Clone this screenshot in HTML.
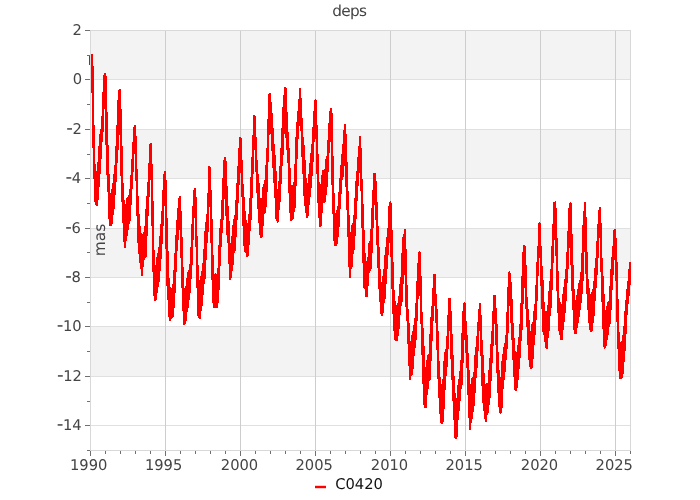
<!DOCTYPE html>
<html><head><meta charset="utf-8"><title>deps</title>
<style>html,body{margin:0;padding:0;background:#fff;width:700px;height:500px;overflow:hidden}svg{display:block}</style>
</head><body>
<svg width="700" height="500" viewBox="0 0 700 500" text-rendering="geometricPrecision">
<rect x="0" y="0" width="700" height="500" fill="#fff"/>
<rect x="90" y="30.0" width="540" height="49.0" fill="#f3f3f3"/>
<rect x="90" y="129.0" width="540" height="49.0" fill="#f3f3f3"/>
<rect x="90" y="228.0" width="540" height="49.0" fill="#f3f3f3"/>
<rect x="90" y="326.0" width="540" height="50.0" fill="#f3f3f3"/>
<path d="M90 30.5H630M90 79.5H630M90 129.5H630M90 178.5H630M90 228.5H630M90 277.5H630M90 326.5H630M90 376.5H630M90 425.5H630" stroke="#e0e0e0" stroke-width="1" fill="none"/>
<path d="M165.5 30V450M240.5 30V450M315.5 30V450M390.5 30V450M465.5 30V450M540.5 30V450M615.5 30V450" stroke="#cdcdcd" stroke-width="1" fill="none"/>
<path d="M630.5 30V450M90 30.5H631" stroke="#d8d8d8" stroke-width="1" fill="none"/>
<path d="M90.5 30V450.5M90 450.5H631" stroke="#d8d8d8" stroke-width="1" fill="none"/>
<path d="M85 30.5H90M87 55.5H90M85 79.5H90M87 104.5H90M85 129.5H90M87 154.5H90M85 178.5H90M87 203.5H90M85 228.5H90M87 252.5H90M85 277.5H90M87 302.5H90M85 326.5H90M87 351.5H90M85 376.5H90M87 401.5H90M85 425.5H90M87 450.5H90M90.5 451V456M105.5 451V454M120.5 451V454M135.5 451V454M150.5 451V454M165.5 451V456M180.5 451V454M195.5 451V454M210.5 451V454M225.5 451V454M240.5 451V456M255.5 451V454M270.5 451V454M285.5 451V454M300.5 451V454M315.5 451V456M330.5 451V454M345.5 451V454M360.5 451V454M375.5 451V454M390.5 451V456M405.5 451V454M420.5 451V454M435.5 451V454M450.5 451V454M465.5 451V456M480.5 451V454M495.5 451V454M510.5 451V454M525.5 451V454M540.5 451V456M555.5 451V454M570.5 451V454M585.5 451V454M600.5 451V454M615.5 451V456M630.5 451V454" stroke="#707070" stroke-width="1" fill="none"/>
<path d="M92.00 54.25L92.04 56.85L92.08 60.15L92.12 63.72L92.17 66.68L92.21 67.50L92.25 66.93L92.29 66.27L92.33 68.25L92.38 68.70L92.42 72.00L92.46 74.16L92.50 78.51L92.54 81.77L92.58 87.06L92.62 89.46L92.67 92.18L92.71 92.11L92.75 93.46L92.79 91.15L92.83 91.15L92.88 91.32L92.92 90.45L92.96 94.38L93.00 98.98L93.04 104.35L93.08 109.54L93.12 116.18L93.17 121.95L93.21 126.37L93.25 128.05L93.29 130.23L93.33 129.01L93.38 127.17L93.42 126.48L93.46 126.48L93.50 125.82L93.54 129.13L93.58 132.58L93.62 135.27L93.67 139.13L93.71 142.75L93.75 147.57L93.79 147.08L93.83 148.97L93.88 146.62L93.92 142.97L93.96 142.12L94.00 139.56L94.04 137.52L94.08 141.86L94.12 147.38L94.17 151.86L94.21 158.03L94.25 165.15L94.29 171.96L94.33 174.46L94.38 178.10L94.42 177.48L94.46 173.89L94.50 172.98L94.54 168.01L94.58 165.36L94.62 165.07L94.67 166.06L94.71 168.94L94.75 171.59L94.79 175.55L94.83 179.52L94.88 182.15L94.92 184.75L94.96 183.00L95.00 178.89L95.04 175.36L95.08 170.54L95.12 169.18L95.17 166.64L95.21 167.98L95.25 171.69L95.29 178.30L95.33 184.33L95.38 188.39L95.42 194.16L95.46 199.18L95.50 201.65L95.54 198.64L95.58 196.22L95.62 192.64L95.67 187.84L95.71 180.90L95.75 180.58L95.79 181.55L95.83 182.11L95.88 185.77L95.92 190.34L95.96 192.69L96.00 195.19L96.04 196.14L96.08 194.54L96.12 191.93L96.17 184.34L96.21 178.57L96.25 177.36L96.29 174.59L96.33 175.32L96.38 176.81L96.42 184.07L96.46 189.70L96.50 196.30L96.54 201.77L96.58 204.75L96.62 202.33L96.67 203.65L96.71 199.30L96.75 193.40L96.79 189.11L96.83 185.44L96.88 183.12L96.92 184.96L96.96 186.18L97.00 189.49L97.04 190.91L97.08 197.12L97.12 197.38L97.17 195.48L97.21 194.86L97.25 189.23L97.29 183.75L97.33 176.85L97.38 174.55L97.42 172.54L97.46 172.27L97.50 177.58L97.54 180.31L97.58 189.58L97.62 194.31L97.67 196.94L97.71 199.50L97.75 198.01L97.79 196.95L97.83 191.51L97.88 186.38L97.92 180.38L97.96 176.18L98.00 176.04L98.04 177.56L98.08 176.92L98.12 179.77L98.17 182.97L98.21 186.47L98.25 186.00L98.29 184.22L98.33 181.12L98.38 177.35L98.42 171.56L98.46 168.41L98.50 162.41L98.54 163.15L98.58 163.36L98.62 167.21L98.67 169.05L98.71 175.71L98.75 178.82L98.79 182.92L98.83 186.19L98.88 184.74L98.92 182.57L98.96 176.94L99.00 172.22L99.04 166.99L99.08 165.14L99.12 164.35L99.17 164.45L99.21 167.40L99.25 166.58L99.29 170.24L99.33 173.45L99.38 172.63L99.42 169.02L99.46 164.95L99.50 161.50L99.54 153.78L99.58 150.55L99.62 150.62L99.67 146.78L99.71 149.63L99.75 154.37L99.79 158.09L99.83 163.04L99.88 167.43L99.92 167.45L99.96 167.20L100.00 164.91L100.04 161.16L100.08 158.40L100.12 154.58L100.17 152.14L100.21 149.44L100.25 148.80L100.29 150.56L100.33 151.83L100.38 154.90L100.42 157.99L100.46 157.95L100.50 156.71L100.54 154.61L100.58 147.49L100.62 143.25L100.67 141.29L100.71 137.50L100.75 134.10L100.79 134.00L100.83 136.97L100.88 138.98L100.92 143.80L100.96 149.36L101.00 151.10L101.04 154.10L101.08 153.01L101.12 149.88L101.17 149.39L101.21 142.62L101.25 139.91L101.29 137.34L101.33 135.57L101.38 134.40L101.42 135.15L101.46 135.84L101.50 138.27L101.54 139.50L101.58 140.80L101.62 140.17L101.67 137.24L101.71 137.03L101.75 130.01L101.79 126.68L101.83 123.79L101.88 121.84L101.92 118.65L101.96 120.68L102.00 124.83L102.04 124.87L102.08 131.92L102.12 133.65L102.17 135.13L102.21 134.50L102.25 134.14L102.29 131.48L102.33 128.28L102.38 124.69L102.42 119.86L102.46 117.26L102.50 118.06L102.54 118.75L102.58 118.92L102.62 121.10L102.67 121.59L102.71 120.70L102.75 121.93L102.79 118.75L102.83 114.67L102.88 111.70L102.92 105.02L102.96 102.26L103.00 100.10L103.04 98.89L103.08 100.88L103.12 102.43L103.17 103.49L103.21 108.45L103.25 107.21L103.29 108.63L103.33 109.14L103.38 105.15L103.42 101.27L103.46 98.65L103.50 97.29L103.54 94.59L103.58 92.44L103.62 92.97L103.67 92.99L103.71 93.03L103.75 93.99L103.79 93.30L103.83 96.45L103.88 94.12L103.92 88.65L103.96 87.61L104.00 80.58L104.04 77.75L104.08 76.64L104.12 77.01L104.17 78.51L104.21 76.84L104.25 80.45L104.29 82.72L104.33 86.89L104.38 87.31L104.42 87.63L104.46 86.68L104.50 85.13L104.54 83.42L104.58 79.06L104.62 79.34L104.67 76.93L104.71 75.32L104.75 75.52L104.79 75.44L104.83 76.78L104.88 78.45L104.92 79.96L104.96 80.73L105.00 80.08L105.04 77.87L105.08 77.63L105.12 76.13L105.17 74.25L105.21 76.19L105.25 76.91L105.29 75.62L105.33 78.48L105.38 83.69L105.42 89.60L105.46 94.14L105.50 100.74L105.54 102.04L105.58 103.17L105.62 104.99L105.67 104.39L105.71 102.63L105.75 101.18L105.79 101.37L105.83 103.11L105.88 105.29L105.92 107.88L105.96 110.43L106.00 114.10L106.04 115.89L106.08 120.24L106.12 121.80L106.17 120.93L106.21 118.91L106.25 118.25L106.29 115.18L106.33 116.10L106.38 112.78L106.42 117.99L106.46 122.01L106.50 126.04L106.54 132.01L106.58 136.43L106.62 140.51L106.67 142.41L106.71 145.05L106.75 143.85L106.79 143.06L106.83 141.16L106.88 139.73L106.92 138.66L106.96 140.39L107.00 142.08L107.04 148.42L107.08 152.89L107.12 152.01L107.17 157.46L107.21 158.34L107.25 158.19L107.29 156.93L107.33 156.24L107.38 151.00L107.42 149.54L107.46 146.69L107.50 145.24L107.54 148.93L107.58 154.32L107.62 158.11L107.67 164.29L107.71 169.61L107.75 175.21L107.79 175.98L107.83 176.88L107.88 177.23L107.92 175.46L107.96 171.94L108.00 171.44L108.04 170.97L108.08 172.38L108.12 173.70L108.17 180.79L108.21 182.33L108.25 186.99L108.29 190.43L108.33 191.42L108.38 189.81L108.42 188.77L108.46 184.74L108.50 180.56L108.54 176.29L108.58 175.98L108.62 175.16L108.67 177.66L108.71 181.55L108.75 188.17L108.79 196.69L108.83 202.10L108.88 206.39L108.92 206.39L108.96 206.13L109.00 206.36L109.04 201.84L109.08 200.43L109.12 199.13L109.17 197.70L109.21 200.11L109.25 200.91L109.29 209.42L109.33 214.04L109.38 216.20L109.42 216.80L109.46 218.48L109.50 212.83L109.54 209.54L109.58 203.79L109.62 199.36L109.67 195.24L109.71 194.03L109.75 194.17L109.79 199.02L109.83 202.82L109.88 208.97L109.92 214.69L109.96 219.72L110.00 223.79L110.04 224.39L110.08 224.18L110.12 216.73L110.17 213.24L110.21 211.46L110.25 206.63L110.29 207.05L110.33 208.21L110.38 211.92L110.42 217.28L110.46 221.36L110.50 224.83L110.54 225.25L110.58 221.96L110.62 220.38L110.67 216.60L110.71 209.30L110.75 204.17L110.79 198.52L110.83 195.48L110.88 195.40L110.92 197.63L110.96 201.34L111.00 208.65L111.04 214.49L111.08 218.67L111.12 221.39L111.17 222.79L111.21 220.15L111.25 215.44L111.29 211.08L111.33 207.28L111.38 206.23L111.42 203.68L111.46 206.61L111.50 211.50L111.54 214.44L111.58 220.50L111.62 220.51L111.67 223.30L111.71 218.15L111.75 217.12L111.79 208.32L111.83 203.38L111.88 195.47L111.92 192.24L111.96 190.49L112.00 190.66L112.04 193.51L112.08 197.95L112.12 202.37L112.17 208.84L112.21 212.49L112.25 214.16L112.29 213.58L112.33 213.53L112.38 208.29L112.42 204.53L112.46 202.25L112.50 199.23L112.54 197.73L112.58 200.50L112.62 204.62L112.67 209.65L112.71 211.78L112.75 214.30L112.79 214.38L112.83 211.03L112.88 207.40L112.92 202.06L112.96 197.15L113.00 189.78L113.04 185.88L113.08 183.71L113.12 186.96L113.17 189.57L113.21 193.09L113.25 200.27L113.29 204.18L113.33 206.78L113.38 205.77L113.42 205.33L113.46 202.52L113.50 198.19L113.54 196.04L113.58 193.17L113.62 190.98L113.67 191.87L113.71 193.15L113.75 197.07L113.79 202.60L113.83 204.76L113.88 207.47L113.92 206.69L113.96 205.22L114.00 196.79L114.04 191.56L114.08 184.75L114.12 179.35L114.17 176.27L114.21 175.17L114.25 175.74L114.29 180.33L114.33 183.27L114.38 189.43L114.42 194.50L114.46 193.88L114.50 194.15L114.54 190.68L114.58 190.66L114.62 186.76L114.67 181.59L114.71 180.83L114.75 180.52L114.79 180.81L114.83 183.33L114.88 189.14L114.92 192.53L114.96 193.14L115.00 194.12L115.04 192.81L115.08 191.29L115.12 183.84L115.17 179.58L115.21 173.84L115.25 171.26L115.29 167.65L115.33 166.36L115.38 167.02L115.42 170.70L115.46 173.13L115.50 176.23L115.54 180.17L115.58 180.52L115.62 181.29L115.67 179.02L115.71 175.71L115.75 170.82L115.79 169.42L115.83 166.52L115.88 166.40L115.92 166.94L115.96 167.76L116.00 170.54L116.04 174.56L116.08 176.49L116.12 175.85L116.17 173.05L116.21 171.45L116.25 166.43L116.29 161.41L116.33 155.32L116.38 150.97L116.42 148.92L116.46 146.94L116.50 149.35L116.54 150.66L116.58 152.14L116.62 155.60L116.67 156.18L116.71 159.45L116.75 155.70L116.79 155.99L116.83 150.78L116.88 147.42L116.92 144.23L116.96 142.28L117.00 144.81L117.04 142.43L117.08 145.45L117.12 146.96L117.17 149.27L117.21 151.12L117.25 150.05L117.29 150.32L117.33 145.85L117.38 141.34L117.42 136.86L117.46 133.37L117.50 126.72L117.54 125.95L117.58 125.14L117.62 126.65L117.67 126.44L117.71 128.28L117.75 133.58L117.79 134.25L117.83 130.43L117.88 129.96L117.92 129.27L117.96 125.33L118.00 123.37L118.04 120.27L118.08 119.38L118.12 119.74L118.17 120.85L118.21 120.96L118.25 122.99L118.29 123.31L118.33 126.62L118.38 125.59L118.42 123.17L118.46 118.75L118.50 115.75L118.54 108.69L118.58 106.74L118.62 104.16L118.67 101.92L118.71 100.00L118.75 101.28L118.79 102.78L118.83 104.57L118.88 105.45L118.92 107.61L118.96 106.92L119.00 105.64L119.04 101.10L119.08 99.37L119.12 97.56L119.17 94.53L119.21 92.61L119.25 93.04L119.29 93.74L119.33 92.10L119.38 96.62L119.42 97.78L119.46 98.05L119.50 96.04L119.54 97.20L119.58 95.71L119.62 94.44L119.67 92.57L119.71 90.25L119.75 91.52L119.79 91.31L119.83 93.49L119.88 94.67L119.92 99.39L119.96 104.18L120.00 107.80L120.04 108.29L120.08 112.10L120.12 112.06L120.17 112.74L120.21 110.66L120.25 111.69L120.29 109.19L120.33 112.89L120.38 113.27L120.42 118.00L120.46 122.50L120.50 127.92L120.54 132.76L120.58 134.90L120.62 134.56L120.67 134.26L120.71 129.56L120.75 128.32L120.79 127.85L120.83 126.53L120.88 123.98L120.92 124.33L120.96 128.68L121.00 133.26L121.04 137.31L121.08 141.44L121.12 145.78L121.17 147.60L121.21 150.69L121.25 149.71L121.29 148.62L121.33 146.66L121.38 147.29L121.42 148.76L121.46 150.47L121.50 154.07L121.54 156.66L121.58 161.98L121.62 166.33L121.67 171.92L121.71 176.10L121.75 174.41L121.79 174.55L121.83 172.02L121.88 168.68L121.92 166.27L121.96 163.08L122.00 160.72L122.04 160.91L122.08 163.84L122.12 167.06L122.17 173.00L122.21 179.64L122.25 182.85L122.29 188.21L122.33 188.49L122.38 189.86L122.42 186.63L122.46 185.64L122.50 183.36L122.54 183.54L122.58 184.12L122.62 186.62L122.67 192.27L122.71 198.32L122.75 201.93L122.79 207.55L122.83 211.06L122.88 213.84L122.92 209.50L122.96 207.90L123.00 202.90L123.04 198.30L123.08 194.33L123.12 193.23L123.17 192.46L123.21 194.25L123.25 197.51L123.29 205.31L123.33 210.19L123.38 214.48L123.42 219.68L123.46 221.75L123.50 220.67L123.54 220.22L123.58 216.14L123.62 213.34L123.67 214.83L123.71 212.87L123.75 215.82L123.79 219.84L123.83 227.27L123.88 233.17L123.92 240.37L123.96 240.81L124.00 240.32L124.04 239.77L124.08 235.53L124.12 230.12L124.17 224.27L124.21 217.44L124.25 215.54L124.29 214.59L124.33 214.26L124.38 217.78L124.42 224.56L124.46 229.29L124.50 232.38L124.54 237.98L124.58 239.36L124.62 236.38L124.67 236.60L124.71 229.68L124.75 227.54L124.79 224.31L124.83 225.55L124.88 225.87L124.92 227.85L124.96 235.37L125.00 241.01L125.04 244.97L125.08 245.88L125.12 247.05L125.17 243.03L125.21 238.98L125.25 234.30L125.29 228.33L125.33 218.16L125.38 214.55L125.42 211.35L125.46 213.61L125.50 216.19L125.54 220.57L125.58 226.79L125.62 231.42L125.67 233.64L125.71 234.07L125.75 234.32L125.79 231.17L125.83 226.02L125.88 222.51L125.92 219.84L125.96 220.73L126.00 219.94L126.04 224.73L126.08 228.65L126.12 230.21L126.17 236.20L126.21 239.77L126.25 235.86L126.29 235.02L126.33 228.93L126.38 224.50L126.42 217.55L126.46 213.09L126.50 207.49L126.54 204.54L126.58 209.24L126.62 208.82L126.67 215.15L126.71 217.33L126.75 221.16L126.79 225.64L126.83 224.96L126.88 223.93L126.92 222.09L126.96 218.36L127.00 215.59L127.04 212.45L127.08 207.87L127.12 210.55L127.17 212.99L127.21 217.12L127.25 221.27L127.29 226.03L127.33 228.74L127.38 229.97L127.42 226.69L127.46 220.94L127.50 214.97L127.54 208.95L127.58 204.92L127.62 199.80L127.67 198.46L127.71 199.63L127.75 200.98L127.79 205.67L127.83 209.87L127.88 214.35L127.92 218.77L127.96 220.01L128.00 216.30L128.04 215.90L128.08 213.24L128.12 210.47L128.17 204.31L128.21 205.38L128.25 206.13L128.29 208.74L128.33 212.12L128.38 217.83L128.42 220.69L128.46 223.92L128.50 223.31L128.54 222.91L128.58 217.74L128.62 215.20L128.67 208.81L128.71 203.36L128.75 200.90L128.79 196.65L128.83 198.17L128.88 199.46L128.92 204.27L128.96 207.46L129.00 212.41L129.04 214.15L129.08 215.89L129.12 215.85L129.17 215.02L129.21 210.78L129.25 206.09L129.29 204.42L129.33 201.98L129.38 202.31L129.42 205.47L129.46 211.33L129.50 213.58L129.54 218.73L129.58 219.74L129.62 220.50L129.67 216.70L129.71 213.84L129.75 206.34L129.79 204.38L129.83 198.63L129.88 195.04L129.92 190.96L129.96 193.05L130.00 194.04L130.04 195.95L130.08 200.81L130.12 204.16L130.17 206.32L130.21 205.57L130.25 205.33L130.29 200.65L130.33 197.42L130.38 194.59L130.42 190.73L130.46 189.98L130.50 191.82L130.54 193.00L130.58 196.68L130.62 201.57L130.67 202.21L130.71 203.69L130.75 203.30L130.79 202.88L130.83 199.32L130.88 193.55L130.92 188.89L130.96 183.08L131.00 179.48L131.04 177.19L131.08 177.50L131.12 178.33L131.17 181.74L131.21 184.79L131.25 185.48L131.29 186.56L131.33 188.29L131.38 187.44L131.42 183.12L131.46 181.62L131.50 176.49L131.54 176.88L131.58 176.02L131.62 176.78L131.67 176.91L131.71 181.33L131.75 184.76L131.79 185.85L131.83 184.47L131.88 182.41L131.92 183.89L131.96 181.40L132.00 174.22L132.04 172.07L132.08 165.12L132.12 163.82L132.17 162.35L132.21 164.31L132.25 165.36L132.29 168.18L132.33 169.53L132.38 171.05L132.42 171.26L132.46 168.08L132.50 168.55L132.54 165.68L132.58 161.48L132.62 160.05L132.67 159.55L132.71 158.98L132.75 159.69L132.79 162.93L132.83 165.47L132.88 168.25L132.92 167.73L132.96 165.74L133.00 167.75L133.04 164.83L133.08 158.88L133.12 155.48L133.17 152.85L133.21 146.65L133.25 145.32L133.29 145.91L133.33 147.28L133.38 148.24L133.42 149.60L133.46 152.46L133.50 153.09L133.54 152.83L133.58 151.74L133.62 150.00L133.67 147.15L133.71 143.40L133.75 141.85L133.79 140.95L133.83 140.72L133.88 142.23L133.92 143.34L133.96 145.70L134.00 146.27L134.04 151.84L134.08 149.78L134.12 149.73L134.17 145.97L134.21 142.99L134.25 138.70L134.29 136.72L134.33 131.02L134.38 130.62L134.42 127.48L134.46 131.10L134.50 132.47L134.54 134.19L134.58 135.25L134.62 134.87L134.67 137.16L134.71 136.13L134.75 133.23L134.79 132.09L134.83 129.44L134.88 126.89L134.92 126.52L134.96 125.85L135.00 126.33L135.04 128.86L135.08 133.09L135.13 138.93L135.17 138.93L135.21 144.98L135.25 144.21L135.29 145.14L135.33 142.94L135.38 141.98L135.42 137.66L135.46 136.49L135.50 137.60L135.54 136.78L135.58 139.80L135.63 141.50L135.67 146.46L135.71 150.43L135.75 152.76L135.79 154.92L135.83 156.54L135.88 156.62L135.92 154.15L135.96 151.93L136.00 153.55L136.04 153.87L136.08 155.81L136.13 159.94L136.17 163.13L136.21 168.92L136.25 172.78L136.29 176.78L136.34 178.90L136.38 180.47L136.42 178.91L136.46 176.55L136.50 175.68L136.54 171.64L136.59 169.79L136.63 169.78L136.67 170.97L136.71 171.90L136.75 178.28L136.79 181.46L136.84 186.05L136.88 190.55L136.92 190.29L136.96 192.75L137.00 191.69L137.04 191.80L137.09 187.86L137.13 188.77L137.17 187.30L137.21 192.28L137.25 193.22L137.29 199.79L137.34 205.18L137.38 208.40L137.42 211.95L137.46 215.45L137.50 212.40L137.55 213.50L137.59 210.37L137.63 207.08L137.67 202.74L137.71 202.31L137.75 204.11L137.80 203.46L137.84 208.06L137.88 209.19L137.92 216.76L137.96 219.92L138.00 220.38L138.05 222.23L138.09 221.34L138.13 218.71L138.17 218.67L138.21 216.25L138.25 214.87L138.30 214.11L138.34 216.82L138.38 220.38L138.42 225.73L138.46 231.20L138.51 237.20L138.55 239.04L138.59 241.99L138.63 241.23L138.67 238.41L138.71 233.83L138.76 228.86L138.80 224.09L138.84 221.23L138.88 221.24L138.92 221.75L138.96 223.40L139.01 227.07L139.05 232.03L139.09 237.49L139.13 239.19L139.17 238.72L139.21 236.25L139.26 234.14L139.30 231.30L139.34 227.41L139.38 226.91L139.42 226.55L139.46 228.09L139.51 231.51L139.55 237.74L139.59 242.68L139.63 250.71L139.67 253.42L139.72 254.18L139.76 253.70L139.80 250.20L139.84 244.31L139.88 237.96L139.92 233.81L139.97 229.61L140.01 227.30L140.05 228.52L140.09 232.39L140.13 239.12L140.17 243.29L140.22 247.05L140.26 249.41L140.30 249.97L140.34 248.12L140.38 245.51L140.42 239.89L140.47 235.75L140.51 233.73L140.55 235.36L140.59 240.61L140.63 243.90L140.67 248.51L140.72 257.17L140.76 263.09L140.80 265.07L140.84 268.34L140.88 267.20L140.93 262.47L140.97 254.35L141.01 250.03L141.05 244.29L141.09 244.15L141.13 241.05L141.18 244.24L141.22 246.72L141.26 252.37L141.30 253.77L141.34 259.98L141.38 260.61L141.43 260.68L141.47 258.78L141.51 253.18L141.55 251.52L141.59 246.56L141.63 245.24L141.68 243.23L141.72 248.76L141.76 253.34L141.80 256.25L141.84 263.42L141.89 271.26L141.93 272.84L141.97 274.75L142.01 271.57L142.05 268.69L142.09 261.48L142.14 253.05L142.18 248.75L142.22 243.87L142.26 242.03L142.30 242.84L142.34 249.33L142.39 253.19L142.43 256.73L142.47 258.07L142.51 259.01L142.55 256.60L142.59 252.03L142.64 249.02L142.68 244.18L142.72 241.14L142.76 241.09L142.80 239.57L142.85 244.44L142.89 248.37L142.93 255.12L142.97 259.90L143.01 265.06L143.05 265.61L143.10 264.68L143.14 260.63L143.18 253.26L143.22 250.36L143.26 242.95L143.30 238.16L143.35 235.81L143.39 235.05L143.43 237.26L143.47 240.47L143.51 243.43L143.55 248.06L143.60 250.64L143.64 250.31L143.68 249.96L143.72 246.46L143.76 241.73L143.81 240.92L143.85 235.04L143.89 233.08L143.93 234.54L143.97 241.02L144.01 244.09L144.06 249.31L144.10 255.02L144.14 258.17L144.18 258.68L144.22 257.78L144.26 255.22L144.31 250.01L144.35 246.33L144.39 240.45L144.43 237.69L144.47 237.66L144.51 235.54L144.56 236.80L144.60 239.18L144.64 243.15L144.68 246.99L144.72 247.49L144.77 251.39L144.81 247.64L144.85 244.51L144.89 240.45L144.93 238.05L144.97 234.97L145.02 234.22L145.06 232.42L145.10 237.27L145.14 241.06L145.18 245.57L145.22 250.50L145.27 252.50L145.31 257.11L145.35 253.55L145.39 250.99L145.43 245.67L145.47 239.16L145.52 235.30L145.56 231.47L145.60 228.90L145.64 226.46L145.68 229.25L145.73 231.97L145.77 234.67L145.81 236.95L145.85 237.36L145.89 234.39L145.93 234.19L145.98 229.16L146.02 226.83L146.06 221.26L146.10 219.34L146.14 220.16L146.18 218.57L146.23 220.50L146.27 224.69L146.31 229.49L146.35 230.92L146.39 233.62L146.43 235.27L146.48 233.25L146.52 227.06L146.56 224.41L146.60 219.14L146.64 213.47L146.69 212.91L146.73 208.76L146.77 209.44L146.81 211.98L146.85 211.51L146.89 215.35L146.94 216.19L146.98 215.98L147.02 214.03L147.06 210.18L147.10 207.98L147.14 204.38L147.19 200.70L147.23 198.35L147.27 199.88L147.31 199.36L147.35 203.10L147.39 208.33L147.44 211.97L147.48 214.27L147.52 215.03L147.56 214.69L147.60 213.67L147.65 210.58L147.69 202.27L147.73 199.81L147.77 195.00L147.81 192.97L147.85 192.79L147.90 192.83L147.94 193.30L147.98 196.43L148.02 198.93L148.06 199.20L148.10 199.39L148.15 196.29L148.19 193.73L148.23 189.56L148.27 186.98L148.31 183.31L148.35 182.55L148.40 183.50L148.44 183.80L148.48 186.13L148.52 189.17L148.56 192.37L148.61 195.13L148.65 194.95L148.69 195.78L148.73 192.80L148.77 189.35L148.81 184.89L148.86 181.18L148.90 177.86L148.94 173.51L148.98 175.64L149.02 175.11L149.06 177.21L149.11 177.89L149.15 177.03L149.19 181.72L149.23 180.00L149.27 177.40L149.31 173.65L149.36 171.53L149.40 169.76L149.44 165.31L149.48 164.04L149.52 163.47L149.57 163.34L149.61 167.01L149.65 169.21L149.69 168.71L149.73 172.29L149.77 172.49L149.82 171.58L149.86 169.26L149.90 165.95L149.94 162.58L149.98 158.31L150.02 155.96L150.07 153.34L150.11 150.98L150.15 147.93L150.19 152.99L150.23 153.02L150.27 152.86L150.32 153.67L150.36 152.10L150.40 149.14L150.44 149.56L150.48 147.64L150.53 145.11L150.57 144.53L150.61 144.25L150.65 145.54L150.69 150.23L150.73 151.48L150.78 155.99L150.82 158.08L150.86 163.41L150.90 166.72L150.94 170.36L150.99 166.74L151.03 170.06L151.07 166.20L151.11 162.47L151.15 162.13L151.19 160.85L151.24 160.89L151.28 165.05L151.32 166.78L151.36 171.56L151.40 174.36L151.45 176.18L151.49 178.96L151.53 178.70L151.57 177.76L151.61 177.64L151.65 176.34L151.70 175.19L151.74 176.41L151.78 177.65L151.82 182.18L151.86 187.17L151.90 190.12L151.95 196.26L151.99 200.92L152.03 205.00L152.07 205.97L152.11 208.63L152.16 206.72L152.20 204.03L152.24 204.52L152.28 201.00L152.32 204.18L152.36 205.59L152.41 207.51L152.45 210.94L152.49 214.08L152.53 218.31L152.57 224.74L152.62 223.44L152.66 225.22L152.70 225.48L152.74 222.37L152.78 221.20L152.82 219.28L152.87 220.05L152.91 224.67L152.95 227.34L152.99 234.26L153.03 240.11L153.08 246.55L153.12 253.57L153.16 258.54L153.20 260.03L153.24 259.95L153.28 257.53L153.33 256.62L153.37 252.26L153.41 250.51L153.45 251.90L153.49 250.53L153.54 253.24L153.58 256.03L153.62 261.43L153.66 266.26L153.70 268.98L153.74 271.95L153.79 272.53L153.83 269.50L153.87 267.35L153.91 261.45L153.95 259.51L154.00 257.16L154.04 259.37L154.08 263.35L154.12 269.20L154.16 275.29L154.20 284.81L154.25 287.37L154.29 291.53L154.33 294.62L154.37 293.40L154.41 288.74L154.45 282.91L154.50 279.19L154.54 275.28L154.58 273.28L154.62 273.62L154.66 275.96L154.71 282.30L154.75 284.56L154.79 288.60L154.83 288.97L154.87 287.75L154.91 287.04L154.96 280.93L155.00 279.79L155.04 274.14L155.08 271.72L155.12 270.97L155.17 270.96L155.21 276.15L155.25 279.38L155.29 287.37L155.33 294.70L155.37 295.99L155.42 299.75L155.46 297.96L155.50 294.49L155.54 291.34L155.58 287.21L155.62 280.26L155.67 277.84L155.71 275.27L155.75 274.97L155.79 279.36L155.83 282.52L155.88 286.04L155.92 288.37L155.96 286.94L156.00 287.45L156.04 283.64L156.08 278.50L156.12 273.46L156.17 269.25L156.21 265.79L156.25 265.97L156.29 266.90L156.33 271.41L156.38 277.57L156.42 280.08L156.46 287.80L156.50 290.41L156.54 292.61L156.58 292.21L156.62 287.41L156.67 282.40L156.71 278.84L156.75 274.24L156.79 271.37L156.83 270.06L156.88 272.34L156.92 274.85L156.96 278.54L157.00 280.98L157.04 280.62L157.08 280.79L157.12 278.34L157.17 274.69L157.21 269.49L157.25 263.81L157.29 260.63L157.33 258.01L157.38 258.72L157.42 260.05L157.46 266.28L157.50 270.93L157.54 276.70L157.58 281.66L157.62 286.04L157.67 286.20L157.71 283.13L157.75 281.34L157.79 272.45L157.83 267.86L157.88 267.38L157.92 263.72L157.96 265.94L158.00 265.81L158.04 267.83L158.08 270.88L158.12 275.63L158.17 276.45L158.21 275.55L158.25 272.36L158.29 268.98L158.33 265.49L158.38 258.48L158.42 256.72L158.46 253.72L158.50 253.47L158.54 256.32L158.58 262.19L158.62 266.12L158.67 273.26L158.71 276.33L158.75 278.03L158.79 280.70L158.83 277.74L158.88 273.25L158.92 271.64L158.96 266.15L159.00 262.84L159.04 260.57L159.08 258.98L159.12 259.62L159.17 262.98L159.21 264.89L159.25 268.54L159.29 269.13L159.33 269.13L159.38 265.84L159.42 265.79L159.46 259.62L159.50 253.40L159.54 252.08L159.58 249.11L159.62 247.72L159.67 252.30L159.71 255.36L159.75 258.78L159.79 263.90L159.83 267.72L159.88 270.24L159.92 269.14L159.96 266.52L160.00 263.82L160.04 259.12L160.08 256.85L160.12 252.14L160.17 249.54L160.21 249.84L160.25 253.24L160.29 255.59L160.33 257.19L160.38 257.41L160.42 258.07L160.46 258.11L160.50 253.90L160.54 250.20L160.58 245.73L160.62 241.46L160.67 238.66L160.71 236.59L160.75 237.88L160.79 241.88L160.83 244.51L160.88 249.34L160.92 252.17L160.96 256.53L161.00 255.89L161.04 254.52L161.08 251.57L161.12 249.45L161.17 245.82L161.21 241.59L161.25 237.53L161.29 238.93L161.33 236.92L161.38 236.88L161.42 239.87L161.46 240.90L161.50 243.42L161.54 242.04L161.58 241.11L161.62 237.37L161.67 232.63L161.71 229.70L161.75 224.67L161.79 223.04L161.83 222.67L161.88 223.97L161.92 224.78L161.96 231.73L162.00 232.98L162.04 236.69L162.08 238.45L162.12 237.86L162.17 234.84L162.21 232.60L162.25 229.70L162.29 222.52L162.33 220.13L162.38 216.25L162.42 217.25L162.46 217.75L162.50 219.20L162.54 219.16L162.58 221.46L162.62 220.45L162.67 219.16L162.71 216.24L162.75 212.95L162.79 207.95L162.83 203.27L162.88 200.54L162.92 199.65L162.96 198.61L163.00 198.06L163.04 202.03L163.08 204.40L163.12 205.37L163.17 210.19L163.21 207.90L163.25 206.92L163.29 205.38L163.33 201.20L163.38 198.29L163.42 197.48L163.46 194.22L163.50 190.46L163.54 190.34L163.58 190.75L163.62 192.94L163.67 190.59L163.71 195.18L163.75 193.98L163.79 192.16L163.83 192.04L163.88 189.50L163.92 184.72L163.96 180.12L164.00 179.19L164.04 176.89L164.08 175.37L164.12 176.95L164.17 178.85L164.21 182.54L164.25 183.57L164.29 186.00L164.33 186.43L164.38 188.14L164.42 186.72L164.46 184.51L164.50 182.13L164.54 179.05L164.58 178.65L164.62 176.99L164.67 174.78L164.71 176.05L164.75 178.36L164.79 179.87L164.83 180.75L164.88 179.86L164.92 179.51L164.96 178.50L165.00 174.66L165.04 174.37L165.08 172.25L165.13 172.63L165.17 173.08L165.21 177.83L165.25 178.37L165.29 182.85L165.33 187.49L165.38 193.43L165.42 194.85L165.46 201.45L165.50 201.00L165.54 205.56L165.59 203.59L165.63 203.96L165.67 203.39L165.71 202.34L165.75 204.32L165.79 205.60L165.84 209.96L165.88 210.95L165.92 215.80L165.96 217.63L166.00 222.40L166.05 224.22L166.09 225.71L166.13 224.07L166.17 220.81L166.21 219.33L166.25 218.20L166.30 218.23L166.34 219.65L166.38 222.32L166.42 226.09L166.46 229.82L166.51 237.97L166.55 242.24L166.59 246.07L166.63 246.68L166.67 249.13L166.71 248.80L166.76 247.11L166.80 244.95L166.84 244.30L166.88 244.45L166.92 243.45L166.97 250.54L167.01 252.67L167.05 256.31L167.09 260.20L167.13 262.81L167.17 263.58L167.22 265.30L167.26 263.04L167.30 258.38L167.34 255.98L167.38 253.59L167.43 251.37L167.47 254.25L167.51 256.56L167.55 260.66L167.59 264.91L167.63 271.74L167.68 278.56L167.72 282.95L167.76 285.72L167.80 286.33L167.84 283.39L167.89 281.78L167.93 281.20L167.97 278.81L168.01 278.81L168.05 277.67L168.09 280.76L168.14 286.79L168.18 289.52L168.22 293.98L168.26 296.02L168.30 297.46L168.35 296.84L168.39 294.11L168.43 290.44L168.47 286.45L168.51 281.80L168.55 279.17L168.60 280.32L168.64 283.88L168.68 288.84L168.72 294.76L168.76 300.34L168.81 305.59L168.85 309.19L168.89 310.78L168.93 311.46L168.97 311.78L169.01 304.86L169.06 302.56L169.10 299.34L169.14 297.99L169.18 299.26L169.22 301.54L169.27 304.20L169.31 310.06L169.35 313.14L169.39 316.22L169.43 316.22L169.47 312.60L169.52 306.04L169.56 301.32L169.60 296.37L169.64 291.68L169.68 288.49L169.72 290.34L169.77 291.98L169.81 295.93L169.85 302.62L169.89 307.69L169.93 313.27L169.97 315.10L170.02 320.15L170.06 315.99L170.10 312.86L170.14 311.68L170.18 304.65L170.22 301.95L170.27 299.85L170.31 300.01L170.35 302.42L170.39 305.09L170.43 306.50L170.47 311.43L170.52 312.82L170.56 312.99L170.60 312.70L170.64 306.26L170.68 303.84L170.72 296.44L170.76 293.44L170.81 289.82L170.85 288.61L170.89 288.88L170.93 294.54L170.97 299.66L171.01 307.19L171.06 311.35L171.10 315.07L171.14 318.10L171.18 316.98L171.22 313.86L171.26 309.30L171.31 306.59L171.35 303.30L171.39 301.12L171.43 299.00L171.47 301.02L171.51 304.73L171.56 309.67L171.60 311.90L171.64 314.44L171.68 314.98L171.72 312.16L171.76 305.58L171.80 302.70L171.85 296.54L171.89 291.98L171.93 291.24L171.97 290.03L172.01 292.02L172.05 295.84L172.10 300.69L172.14 310.21L172.18 312.01L172.22 315.68L172.26 316.90L172.30 315.16L172.35 312.23L172.39 311.06L172.43 305.75L172.47 303.65L172.51 300.51L172.55 300.13L172.60 298.99L172.64 303.91L172.68 307.28L172.72 307.59L172.76 312.30L172.80 310.44L172.84 310.68L172.89 306.81L172.93 301.03L172.97 295.81L173.01 289.92L173.05 288.91L173.09 287.47L173.14 285.18L173.18 289.57L173.22 293.13L173.26 301.13L173.30 303.61L173.34 307.03L173.39 307.89L173.43 307.87L173.47 305.42L173.51 302.78L173.55 298.51L173.59 295.09L173.64 288.09L173.68 287.88L173.72 289.80L173.76 290.94L173.80 294.58L173.84 296.03L173.88 298.64L173.93 299.06L173.97 295.28L174.01 292.58L174.05 286.51L174.09 283.46L174.13 277.51L174.18 274.30L174.22 271.35L174.26 273.41L174.30 277.96L174.34 280.34L174.38 284.19L174.43 288.50L174.47 289.76L174.51 292.46L174.55 288.69L174.59 287.75L174.63 283.00L174.68 281.43L174.72 275.46L174.76 275.46L174.80 274.44L174.84 272.76L174.88 275.81L174.92 278.78L174.97 280.07L175.01 281.25L175.05 280.22L175.09 277.02L175.13 273.65L175.17 270.16L175.22 263.32L175.26 259.07L175.30 256.53L175.34 253.53L175.38 255.44L175.42 256.60L175.47 260.66L175.51 265.45L175.55 268.04L175.59 271.14L175.63 269.96L175.67 267.83L175.72 267.48L175.76 263.57L175.80 258.18L175.84 256.51L175.88 252.93L175.92 252.31L175.96 253.17L176.01 253.66L176.05 255.47L176.09 259.27L176.13 259.48L176.17 258.67L176.21 256.49L176.26 252.93L176.30 247.43L176.34 246.05L176.38 240.84L176.42 236.82L176.46 236.96L176.51 235.46L176.55 238.38L176.59 241.44L176.63 245.04L176.67 246.72L176.71 248.69L176.76 248.61L176.80 248.42L176.84 245.13L176.88 243.30L176.92 239.45L176.96 235.37L177.00 234.75L177.05 234.94L177.09 234.42L177.13 237.83L177.17 240.23L177.21 241.29L177.25 240.31L177.30 239.08L177.34 237.52L177.38 234.48L177.42 229.01L177.46 226.45L177.50 221.41L177.55 220.35L177.59 220.91L177.63 223.58L177.67 226.71L177.71 228.07L177.75 232.23L177.80 232.46L177.84 233.96L177.88 233.84L177.92 231.51L177.96 228.37L178.00 224.35L178.04 224.69L178.09 222.22L178.13 221.22L178.17 222.59L178.21 223.84L178.25 226.87L178.29 226.54L178.34 229.16L178.38 227.47L178.42 226.44L178.46 225.20L178.50 221.60L178.54 217.26L178.59 212.79L178.63 208.81L178.67 208.40L178.71 209.06L178.75 209.59L178.79 213.14L178.84 214.92L178.88 217.60L178.92 220.25L178.96 219.92L179.00 219.92L179.04 217.90L179.08 214.45L179.13 212.96L179.17 209.67L179.21 208.02L179.25 208.92L179.29 207.52L179.33 209.70L179.38 211.91L179.42 214.64L179.46 214.96L179.50 214.42L179.54 214.04L179.58 210.85L179.63 207.01L179.67 204.49L179.71 200.74L179.75 198.23L179.79 197.26L179.83 197.25L179.88 198.77L179.92 197.67L179.96 202.62L180.00 206.26L180.04 208.32L180.08 211.61L180.13 214.40L180.17 212.32L180.21 213.71L180.25 212.06L180.29 211.18L180.33 211.12L180.38 212.43L180.42 213.65L180.46 218.06L180.50 220.40L180.54 223.28L180.59 225.92L180.63 228.14L180.67 229.66L180.71 227.97L180.75 226.38L180.79 222.50L180.84 220.01L180.88 218.25L180.92 220.65L180.96 222.07L181.00 223.48L181.05 229.48L181.09 232.79L181.13 237.77L181.17 240.84L181.21 241.17L181.25 242.39L181.30 244.36L181.34 241.99L181.38 240.03L181.42 237.48L181.46 240.46L181.51 240.96L181.55 243.81L181.59 247.44L181.63 250.27L181.67 252.27L181.71 258.33L181.76 256.30L181.80 255.01L181.84 253.84L181.88 249.98L181.92 246.10L181.97 245.45L182.01 243.90L182.05 245.64L182.09 249.12L182.13 254.77L182.17 258.73L182.22 267.18L182.26 268.63L182.30 272.18L182.34 273.60L182.38 275.43L182.43 273.11L182.47 271.47L182.51 269.65L182.55 268.13L182.59 272.46L182.63 275.33L182.68 279.58L182.72 283.34L182.76 288.43L182.80 290.92L182.84 296.28L182.89 295.79L182.93 292.24L182.97 288.94L183.01 282.94L183.05 280.58L183.09 277.22L183.14 276.34L183.18 278.14L183.22 282.21L183.26 288.00L183.30 294.79L183.35 300.85L183.39 305.52L183.43 308.95L183.47 309.99L183.51 309.01L183.55 305.93L183.60 304.50L183.64 300.86L183.68 299.48L183.72 300.24L183.76 305.19L183.81 308.56L183.85 312.83L183.89 317.56L183.93 321.45L183.97 323.63L184.01 323.75L184.06 317.96L184.10 311.80L184.14 305.72L184.18 300.39L184.22 296.25L184.27 294.06L184.31 297.22L184.35 298.95L184.39 303.68L184.43 308.16L184.47 315.55L184.52 318.13L184.56 320.23L184.60 321.30L184.64 321.03L184.68 316.18L184.72 310.73L184.77 308.16L184.81 305.87L184.85 307.38L184.89 309.58L184.93 311.96L184.97 316.97L185.02 322.38L185.06 323.09L185.10 322.71L185.14 320.35L185.18 318.68L185.22 310.94L185.27 304.83L185.31 299.53L185.35 294.77L185.39 291.90L185.43 293.18L185.47 297.36L185.52 302.58L185.56 308.14L185.60 312.27L185.64 316.65L185.68 315.58L185.72 314.99L185.76 310.60L185.81 305.95L185.85 303.83L185.89 300.21L185.93 300.80L185.97 301.61L186.01 305.67L186.06 308.70L186.10 314.95L186.14 317.66L186.18 319.86L186.22 318.52L186.26 312.24L186.31 310.87L186.35 303.78L186.39 297.58L186.43 293.86L186.47 287.52L186.51 286.88L186.56 287.25L186.60 290.61L186.64 294.56L186.68 300.62L186.72 305.64L186.76 305.90L186.80 308.31L186.85 308.39L186.89 303.77L186.93 298.22L186.97 297.27L187.01 294.48L187.05 294.25L187.10 294.40L187.14 296.05L187.18 298.22L187.22 303.95L187.26 306.40L187.30 307.32L187.35 306.96L187.39 306.45L187.43 301.45L187.47 295.84L187.51 286.11L187.55 283.50L187.60 279.26L187.64 278.38L187.68 279.75L187.72 278.76L187.76 285.72L187.80 291.71L187.84 295.36L187.89 298.70L187.93 297.68L187.97 298.49L188.01 294.33L188.05 290.99L188.09 288.24L188.14 287.31L188.18 284.62L188.22 285.89L188.26 286.41L188.30 288.43L188.34 294.87L188.39 296.93L188.43 299.93L188.47 297.75L188.51 296.44L188.55 294.86L188.59 287.33L188.64 281.39L188.68 275.63L188.72 273.34L188.76 271.60L188.80 274.85L188.84 276.12L188.88 279.34L188.93 284.33L188.97 287.30L189.01 290.88L189.05 291.82L189.09 292.49L189.13 288.92L189.18 284.71L189.22 281.21L189.26 279.24L189.30 279.01L189.34 277.48L189.38 280.59L189.43 283.02L189.47 284.82L189.51 287.44L189.55 288.31L189.59 291.96L189.63 289.46L189.68 285.76L189.72 281.30L189.76 276.66L189.80 271.32L189.84 267.29L189.88 265.55L189.92 266.67L189.97 266.02L190.01 269.83L190.05 276.38L190.09 277.93L190.13 281.66L190.17 280.68L190.22 281.11L190.26 279.46L190.30 275.65L190.34 273.94L190.38 270.35L190.42 267.47L190.47 268.88L190.51 269.28L190.55 271.78L190.59 274.84L190.63 276.26L190.67 278.17L190.72 277.22L190.76 275.68L190.80 271.60L190.84 266.20L190.88 261.20L190.92 258.12L190.96 253.23L191.01 253.71L191.05 250.85L191.09 252.02L191.13 256.37L191.17 259.05L191.21 260.79L191.26 265.21L191.30 262.87L191.34 263.07L191.38 258.94L191.42 256.53L191.46 255.11L191.51 252.50L191.55 247.68L191.59 248.99L191.63 249.34L191.67 250.82L191.71 255.75L191.76 254.75L191.80 256.59L191.84 256.09L191.88 253.82L191.92 250.98L191.96 244.34L192.00 239.30L192.05 233.48L192.09 232.56L192.13 230.14L192.17 230.25L192.21 231.15L192.25 231.54L192.30 236.21L192.34 236.96L192.38 238.88L192.42 239.82L192.46 237.78L192.50 234.39L192.55 232.33L192.59 227.85L192.63 226.73L192.67 225.31L192.71 225.95L192.75 224.18L192.80 226.88L192.84 227.44L192.88 229.76L192.92 230.63L192.96 230.18L193.00 226.86L193.04 225.30L193.09 218.77L193.13 216.49L193.17 212.60L193.21 208.59L193.25 206.90L193.29 207.84L193.34 206.86L193.38 210.51L193.42 211.42L193.46 214.48L193.50 214.90L193.54 216.28L193.59 215.08L193.63 212.34L193.67 213.53L193.71 208.06L193.75 206.36L193.79 206.30L193.84 205.18L193.88 205.74L193.92 205.60L193.96 209.24L194.00 212.69L194.04 212.88L194.08 210.92L194.13 210.11L194.17 205.83L194.21 203.18L194.25 199.70L194.29 196.18L194.33 192.56L194.38 191.49L194.42 190.81L194.46 193.37L194.50 195.67L194.54 196.56L194.58 199.93L194.63 201.21L194.67 203.45L194.71 200.94L194.75 200.05L194.79 198.43L194.83 193.66L194.88 191.56L194.92 188.75L194.96 189.99L195.00 191.32L195.04 192.64L195.08 195.12L195.13 199.19L195.17 202.20L195.21 204.88L195.25 205.99L195.29 204.03L195.33 201.26L195.38 200.78L195.42 199.56L195.46 199.22L195.50 197.54L195.54 198.04L195.59 201.61L195.63 204.83L195.67 211.36L195.71 213.97L195.75 217.74L195.79 221.11L195.84 221.05L195.88 222.27L195.92 220.39L195.96 222.75L196.00 221.98L196.05 223.12L196.09 224.10L196.13 227.47L196.17 229.34L196.21 236.71L196.25 240.85L196.30 244.88L196.34 245.67L196.38 246.26L196.42 243.78L196.46 243.18L196.51 241.40L196.55 238.71L196.59 237.86L196.63 236.86L196.67 238.20L196.71 241.32L196.76 246.97L196.80 252.64L196.84 255.63L196.88 261.37L196.92 265.33L196.97 266.36L197.01 265.65L197.05 265.41L197.09 264.26L197.13 262.40L197.17 262.75L197.22 263.62L197.26 264.62L197.30 270.26L197.34 275.87L197.38 280.94L197.43 284.99L197.47 287.30L197.51 286.64L197.55 287.67L197.59 283.30L197.63 276.12L197.68 276.48L197.72 272.42L197.76 269.95L197.80 269.65L197.84 272.29L197.89 280.16L197.93 284.67L197.97 290.07L198.01 296.52L198.05 299.65L198.09 302.35L198.14 298.49L198.18 298.12L198.22 294.26L198.26 290.99L198.30 292.38L198.35 291.98L198.39 296.32L198.43 301.31L198.47 308.25L198.51 310.41L198.55 314.80L198.60 315.02L198.64 314.34L198.68 311.32L198.72 305.24L198.76 302.22L198.81 295.57L198.85 293.95L198.89 288.76L198.93 290.61L198.97 294.43L199.01 299.83L199.06 303.76L199.10 307.76L199.14 310.71L199.18 314.67L199.22 313.58L199.27 309.55L199.31 307.61L199.35 302.85L199.39 299.01L199.43 298.29L199.47 300.25L199.52 301.53L199.56 303.58L199.60 310.00L199.64 311.59L199.68 315.08L199.72 317.75L199.77 316.07L199.81 312.29L199.85 304.94L199.89 299.17L199.93 290.30L199.97 287.53L200.02 283.50L200.06 281.52L200.10 283.53L200.14 288.94L200.18 292.43L200.22 299.32L200.27 301.42L200.31 303.88L200.35 302.83L200.39 302.90L200.43 300.17L200.47 294.94L200.52 290.63L200.56 289.53L200.60 290.57L200.64 292.21L200.68 294.96L200.72 299.78L200.76 306.74L200.81 309.63L200.85 309.04L200.89 308.17L200.93 304.28L200.97 298.68L201.01 291.32L201.06 285.21L201.10 278.09L201.14 277.19L201.18 277.66L201.22 279.16L201.26 284.20L201.31 290.17L201.35 293.89L201.39 301.17L201.43 301.08L201.47 300.09L201.51 298.52L201.56 294.28L201.60 289.64L201.64 286.16L201.68 285.81L201.72 287.89L201.76 289.16L201.80 293.81L201.85 297.72L201.89 299.89L201.93 304.81L201.97 303.97L202.01 302.99L202.05 299.20L202.10 290.62L202.14 285.77L202.18 279.07L202.22 276.38L202.26 272.61L202.30 271.75L202.35 276.09L202.39 278.80L202.43 283.14L202.47 286.71L202.51 289.95L202.55 290.38L202.59 290.84L202.64 288.90L202.68 284.64L202.72 278.91L202.76 276.67L202.80 276.93L202.84 276.91L202.89 278.70L202.93 281.84L202.97 285.55L203.01 289.45L203.05 291.19L203.09 293.45L203.14 289.95L203.18 285.42L203.22 281.27L203.26 276.21L203.30 270.39L203.34 265.47L203.39 263.72L203.43 264.24L203.47 265.99L203.51 269.95L203.55 274.24L203.59 273.75L203.63 278.52L203.68 280.39L203.72 278.15L203.76 276.41L203.80 273.80L203.84 270.44L203.88 267.52L203.93 265.66L203.97 265.83L204.01 266.75L204.05 269.38L204.09 273.44L204.13 277.93L204.18 279.66L204.22 283.19L204.26 280.27L204.30 275.81L204.34 269.94L204.38 263.57L204.43 258.42L204.47 254.14L204.51 249.49L204.55 251.62L204.59 252.18L204.63 256.86L204.67 257.71L204.72 263.22L204.76 262.65L204.80 264.07L204.84 263.08L204.88 258.01L204.92 257.32L204.97 252.55L205.01 249.41L205.05 248.19L205.09 246.94L205.13 249.55L205.17 251.04L205.22 254.42L205.26 255.34L205.30 258.65L205.34 259.90L205.38 257.85L205.42 252.81L205.47 248.78L205.51 246.19L205.55 238.72L205.59 234.77L205.63 232.41L205.67 230.88L205.71 231.12L205.76 233.93L205.80 236.76L205.84 236.96L205.88 241.51L205.92 242.52L205.96 240.72L206.01 238.84L206.05 236.05L206.09 232.74L206.13 229.99L206.17 228.91L206.21 227.70L206.26 231.45L206.30 232.36L206.34 235.93L206.38 240.68L206.42 240.97L206.46 242.72L206.51 242.09L206.55 239.62L206.59 236.24L206.63 229.25L206.67 225.63L206.71 223.40L206.75 222.50L206.80 219.94L206.84 221.90L206.88 224.32L206.92 226.95L206.96 229.15L207.00 229.83L207.05 232.30L207.09 230.08L207.13 230.53L207.17 227.30L207.21 224.98L207.25 221.60L207.30 219.81L207.34 220.69L207.38 221.08L207.42 223.03L207.46 227.03L207.50 228.31L207.54 230.79L207.59 231.28L207.63 227.04L207.67 225.06L207.71 220.60L207.75 213.89L207.79 212.55L207.84 208.02L207.88 208.49L207.92 203.16L207.96 205.29L208.00 206.19L208.04 208.58L208.09 208.66L208.13 210.50L208.17 209.12L208.21 206.02L208.25 206.23L208.29 200.63L208.34 198.05L208.38 195.19L208.42 193.65L208.46 194.30L208.50 194.46L208.54 195.90L208.58 198.49L208.63 197.40L208.67 198.66L208.71 198.97L208.75 197.79L208.79 192.57L208.83 189.46L208.88 185.85L208.92 179.18L208.96 177.15L209.00 173.90L209.04 174.83L209.08 173.43L209.13 173.77L209.17 175.79L209.21 178.66L209.25 180.32L209.29 178.45L209.33 177.03L209.38 175.80L209.42 171.84L209.46 170.74L209.50 167.25L209.54 169.11L209.58 169.13L209.63 172.74L209.67 174.29L209.71 180.84L209.75 183.74L209.79 186.69L209.83 188.08L209.88 189.93L209.92 189.81L209.96 186.49L210.00 183.63L210.04 182.43L210.09 184.54L210.13 182.92L210.17 183.48L210.21 186.11L210.25 187.69L210.29 193.42L210.34 196.58L210.38 199.23L210.42 203.04L210.46 202.82L210.50 203.05L210.55 203.07L210.59 200.29L210.63 202.56L210.67 204.42L210.71 204.45L210.75 206.69L210.80 208.95L210.84 213.57L210.88 220.15L210.92 226.10L210.96 225.79L211.00 228.18L211.05 228.09L211.09 224.24L211.13 222.94L211.17 222.10L211.21 218.42L211.26 219.33L211.30 220.66L211.34 223.74L211.38 228.14L211.42 231.66L211.46 235.77L211.51 236.94L211.55 241.50L211.59 242.33L211.63 241.45L211.67 240.33L211.72 240.63L211.76 241.04L211.80 239.92L211.84 243.35L211.88 247.56L211.92 250.19L211.97 253.98L212.01 262.23L212.05 266.76L212.09 270.65L212.13 268.50L212.18 268.45L212.22 263.23L212.26 260.72L212.30 257.17L212.34 255.07L212.38 255.12L212.43 255.67L212.47 259.07L212.51 262.63L212.55 269.20L212.59 272.93L212.64 276.71L212.68 279.34L212.72 278.59L212.76 275.97L212.80 273.66L212.84 270.39L212.89 270.29L212.93 269.64L212.97 273.32L213.01 277.91L213.05 281.80L213.10 291.96L213.14 292.30L213.18 298.57L213.22 301.78L213.26 298.93L213.30 297.39L213.35 291.14L213.39 284.73L213.43 282.14L213.47 278.60L213.51 276.64L213.55 275.87L213.60 279.41L213.64 284.45L213.68 288.50L213.72 292.47L213.76 295.71L213.81 293.64L213.85 293.31L213.89 289.50L213.93 285.39L213.97 281.73L214.01 281.36L214.06 281.75L214.10 282.72L214.14 284.34L214.18 295.67L214.22 297.11L214.27 302.41L214.31 305.74L214.35 307.09L214.39 306.08L214.43 301.05L214.47 295.30L214.52 287.36L214.56 283.47L214.60 276.14L214.64 274.99L214.68 276.73L214.72 279.61L214.77 282.10L214.81 287.45L214.85 290.29L214.89 292.09L214.93 290.40L214.97 288.35L215.02 284.23L215.06 281.66L215.10 277.84L215.14 277.62L215.18 274.86L215.22 276.63L215.27 281.59L215.31 288.37L215.35 295.34L215.39 299.36L215.43 302.11L215.47 302.67L215.52 302.84L215.56 296.89L215.60 290.31L215.64 286.06L215.68 280.05L215.72 275.75L215.76 274.65L215.81 275.90L215.85 277.91L215.89 281.33L215.93 287.27L215.97 290.84L216.01 291.53L216.06 290.41L216.10 291.99L216.14 285.39L216.18 280.57L216.22 278.31L216.26 274.69L216.31 276.53L216.35 279.57L216.39 286.23L216.43 291.81L216.47 297.03L216.51 302.31L216.56 307.25L216.60 303.03L216.64 301.94L216.68 295.92L216.72 291.59L216.76 285.60L216.80 278.14L216.85 277.53L216.89 275.74L216.93 278.88L216.97 281.97L217.01 289.30L217.05 288.47L217.10 293.13L217.14 292.98L217.18 291.73L217.22 287.31L217.26 286.33L217.30 278.41L217.35 277.92L217.39 277.79L217.43 278.28L217.47 282.99L217.51 284.41L217.55 292.23L217.60 297.78L217.64 300.54L217.68 302.28L217.72 302.48L217.76 299.78L217.80 294.24L217.84 288.86L217.89 282.39L217.93 278.57L217.97 275.65L218.01 272.50L218.05 275.19L218.09 278.41L218.14 281.43L218.18 282.33L218.22 288.91L218.26 287.53L218.30 286.32L218.34 283.50L218.39 279.65L218.43 275.85L218.47 274.66L218.51 270.54L218.55 268.68L218.59 270.92L218.64 274.74L218.68 278.68L218.72 284.06L218.76 289.11L218.80 289.12L218.84 288.26L218.88 285.80L218.93 278.64L218.97 276.06L219.01 269.98L219.05 265.19L219.09 258.62L219.13 258.51L219.18 259.90L219.22 259.18L219.26 262.79L219.30 264.99L219.34 264.43L219.38 265.42L219.43 264.05L219.47 261.21L219.51 257.62L219.55 253.12L219.59 248.80L219.63 246.85L219.68 245.63L219.72 249.64L219.76 252.64L219.80 253.88L219.84 257.46L219.88 261.55L219.92 262.82L219.97 263.11L220.01 259.21L220.05 255.17L220.09 248.71L220.13 242.27L220.17 239.87L220.22 238.79L220.26 235.20L220.30 235.27L220.34 237.64L220.38 239.70L220.42 241.62L220.47 242.21L220.51 243.29L220.55 241.81L220.59 237.52L220.63 236.41L220.67 231.47L220.72 228.27L220.76 229.18L220.80 228.55L220.84 230.74L220.88 232.26L220.92 237.51L220.96 242.34L221.01 243.57L221.05 245.97L221.09 245.12L221.13 243.21L221.17 239.13L221.21 234.07L221.26 228.02L221.30 224.67L221.34 223.56L221.38 222.65L221.42 223.88L221.46 224.65L221.51 225.96L221.55 228.27L221.59 229.98L221.63 232.24L221.67 229.10L221.71 224.41L221.76 220.52L221.80 216.51L221.84 215.47L221.88 213.42L221.92 212.61L221.96 215.46L222.00 218.31L222.05 222.44L222.09 226.09L222.13 227.05L222.17 227.91L222.21 223.22L222.25 222.12L222.30 217.42L222.34 213.57L222.38 210.09L222.42 204.49L222.46 201.20L222.50 200.92L222.55 200.91L222.59 203.27L222.63 204.82L222.67 203.28L222.71 206.31L222.75 204.91L222.80 204.19L222.84 200.09L222.88 196.78L222.92 191.17L222.96 189.91L223.00 186.98L223.04 187.45L223.09 188.90L223.13 193.27L223.17 194.29L223.21 197.59L223.25 199.68L223.29 198.93L223.34 198.86L223.38 196.20L223.42 189.89L223.46 188.60L223.50 183.83L223.54 179.59L223.59 178.91L223.63 179.64L223.67 179.39L223.71 179.71L223.75 181.85L223.79 182.73L223.84 181.61L223.88 182.27L223.92 179.24L223.96 176.89L224.00 172.98L224.04 172.99L224.08 167.36L224.13 167.69L224.17 167.84L224.21 169.47L224.25 169.90L224.29 173.40L224.33 177.94L224.38 178.30L224.42 177.61L224.46 178.24L224.50 175.13L224.54 172.29L224.58 167.72L224.63 165.48L224.67 162.11L224.71 161.85L224.75 160.43L224.79 161.79L224.83 164.27L224.88 164.85L224.92 165.10L224.96 163.89L225.00 164.86L225.04 162.87L225.08 162.64L225.12 158.25L225.17 158.35L225.21 158.72L225.25 159.15L225.29 163.11L225.33 168.16L225.38 170.50L225.42 176.64L225.46 179.04L225.50 182.34L225.54 184.39L225.58 181.86L225.62 181.78L225.67 181.34L225.71 180.04L225.75 178.64L225.79 177.87L225.83 179.28L225.88 179.85L225.92 182.17L225.96 185.41L226.00 187.64L226.04 191.26L226.08 192.92L226.12 193.47L226.17 192.29L226.21 189.41L226.25 185.72L226.29 187.34L226.33 186.65L226.38 186.90L226.42 190.33L226.46 195.69L226.50 198.98L226.54 202.82L226.58 206.88L226.62 211.46L226.67 215.33L226.71 211.48L226.75 211.66L226.79 210.28L226.83 205.34L226.88 205.50L226.92 202.21L226.96 203.02L227.00 204.55L227.04 206.40L227.08 210.48L227.12 212.88L227.17 215.30L227.21 216.33L227.25 214.96L227.29 213.92L227.33 212.06L227.38 208.56L227.42 207.32L227.46 206.77L227.50 206.71L227.54 207.58L227.58 213.58L227.62 218.73L227.67 224.77L227.71 229.57L227.75 234.56L227.79 235.28L227.83 233.13L227.88 233.52L227.92 229.29L227.96 225.19L228.00 223.03L228.04 219.87L228.08 218.84L228.12 222.25L228.17 225.55L228.21 229.34L228.25 233.43L228.29 235.38L228.33 237.26L228.38 235.75L228.42 233.98L228.46 230.83L228.50 225.34L228.54 225.05L228.58 221.88L228.62 225.05L228.67 227.38L228.71 233.59L228.75 242.67L228.79 249.60L228.83 254.03L228.88 256.89L228.92 259.57L228.96 256.82L229.00 255.44L229.04 252.45L229.08 247.45L229.12 244.86L229.17 242.61L229.21 242.76L229.25 245.54L229.29 250.73L229.33 255.77L229.38 257.78L229.42 261.47L229.46 262.84L229.50 259.70L229.54 257.14L229.58 250.58L229.62 246.84L229.67 244.57L229.71 243.96L229.75 245.61L229.79 248.06L229.83 256.13L229.88 259.46L229.92 268.72L229.96 275.59L230.00 277.03L230.04 278.75L230.08 277.09L230.12 272.95L230.17 268.73L230.21 264.59L230.25 258.92L230.29 255.70L230.33 257.00L230.38 256.00L230.42 260.51L230.46 262.68L230.50 267.48L230.54 268.79L230.58 268.95L230.62 268.68L230.67 265.79L230.71 259.85L230.75 255.50L230.79 249.58L230.83 247.24L230.87 247.00L230.92 251.48L230.96 255.54L231.00 259.84L231.04 266.35L231.08 271.25L231.12 276.02L231.17 275.35L231.21 277.11L231.25 271.36L231.29 270.25L231.33 262.08L231.37 256.60L231.42 254.30L231.46 250.43L231.50 249.21L231.54 252.25L231.58 256.80L231.62 260.28L231.66 262.91L231.71 263.49L231.75 259.48L231.79 258.98L231.83 252.17L231.87 246.47L231.91 242.82L231.96 239.03L232.00 237.95L232.04 240.14L232.08 242.45L232.12 249.68L232.16 256.35L232.21 261.43L232.25 263.56L232.29 265.22L232.33 262.45L232.37 259.55L232.41 255.23L232.46 247.82L232.50 241.84L232.54 237.56L232.58 236.69L232.62 239.48L232.66 241.30L232.70 246.09L232.75 246.40L232.79 248.17L232.83 248.26L232.87 245.60L232.91 243.20L232.95 238.72L233.00 232.73L233.04 226.07L233.08 225.70L233.12 226.11L233.16 228.65L233.20 232.59L233.25 240.34L233.29 244.51L233.33 246.07L233.37 252.49L233.41 252.09L233.45 251.30L233.49 247.28L233.54 242.76L233.58 237.88L233.62 235.68L233.66 231.82L233.70 232.17L233.74 231.01L233.79 234.25L233.83 237.17L233.87 238.16L233.91 240.87L233.95 241.30L233.99 239.50L234.04 236.69L234.08 233.52L234.12 230.46L234.16 224.57L234.20 223.79L234.24 220.44L234.29 223.85L234.33 228.04L234.37 231.71L234.41 240.58L234.45 243.32L234.49 248.32L234.53 249.81L234.58 248.26L234.62 245.35L234.66 241.20L234.70 235.42L234.74 229.96L234.78 226.19L234.83 222.56L234.87 226.74L234.91 228.84L234.95 226.41L234.99 234.56L235.03 237.07L235.08 237.01L235.12 234.37L235.16 231.36L235.20 227.52L235.24 222.52L235.28 219.34L235.33 217.89L235.37 215.99L235.41 217.78L235.45 220.81L235.49 222.95L235.53 229.86L235.57 233.32L235.62 235.51L235.66 236.04L235.70 235.38L235.74 232.57L235.78 231.47L235.82 223.78L235.87 222.19L235.91 219.77L235.95 216.57L235.99 218.11L236.03 218.46L236.07 220.01L236.12 221.00L236.16 222.46L236.20 222.67L236.24 222.27L236.28 217.72L236.32 212.36L236.37 209.22L236.41 208.04L236.45 202.84L236.49 200.85L236.53 202.63L236.57 205.91L236.61 209.18L236.66 214.47L236.70 217.52L236.74 218.99L236.78 219.15L236.82 216.10L236.86 213.64L236.91 209.50L236.95 204.72L236.99 202.25L237.03 198.56L237.07 196.42L237.11 197.28L237.16 198.18L237.20 198.42L237.24 200.80L237.28 202.58L237.32 202.35L237.36 201.37L237.41 198.21L237.45 193.25L237.49 190.90L237.53 183.76L237.57 184.22L237.61 183.97L237.65 184.01L237.70 187.72L237.74 190.89L237.78 194.71L237.82 198.33L237.86 198.37L237.90 199.48L237.95 197.62L237.99 194.02L238.03 190.94L238.07 185.23L238.11 184.15L238.15 179.76L238.20 179.95L238.24 181.00L238.28 181.94L238.32 183.58L238.36 185.02L238.40 184.91L238.44 182.52L238.49 181.79L238.53 179.02L238.57 175.38L238.61 172.03L238.65 167.51L238.69 166.59L238.74 167.65L238.78 168.01L238.82 169.54L238.86 171.21L238.90 174.18L238.94 176.30L238.99 177.34L239.03 178.75L239.07 176.83L239.11 172.19L239.15 167.84L239.19 164.92L239.24 161.64L239.28 159.06L239.32 159.12L239.36 159.97L239.40 158.27L239.44 160.69L239.48 163.02L239.53 162.05L239.57 160.98L239.61 158.22L239.65 154.94L239.69 152.16L239.73 150.09L239.78 146.87L239.82 145.28L239.86 144.67L239.90 143.72L239.94 148.80L239.98 149.96L240.03 152.71L240.07 153.49L240.11 154.28L240.15 154.93L240.19 153.90L240.23 151.57L240.28 146.78L240.32 145.02L240.36 141.12L240.40 139.81L240.44 138.25L240.48 142.41L240.53 142.71L240.57 146.74L240.61 149.22L240.65 150.44L240.69 149.79L240.73 151.26L240.78 148.61L240.82 147.13L240.86 144.54L240.90 143.56L240.94 141.68L240.98 143.83L241.03 148.80L241.07 151.18L241.11 154.29L241.15 159.42L241.19 161.75L241.23 164.59L241.28 166.84L241.32 164.68L241.36 166.85L241.40 164.19L241.44 163.40L241.48 160.49L241.53 160.41L241.57 162.09L241.61 163.07L241.65 167.38L241.69 170.45L241.74 170.86L241.78 174.39L241.82 174.59L241.86 175.72L241.90 170.49L241.94 171.93L241.99 167.38L242.03 166.39L242.07 168.66L242.11 168.45L242.15 170.41L242.19 177.27L242.24 180.13L242.28 186.83L242.32 190.96L242.36 194.40L242.40 195.84L242.44 194.84L242.49 193.58L242.53 191.63L242.57 187.69L242.61 186.83L242.65 188.16L242.69 190.17L242.74 192.87L242.78 193.88L242.82 200.73L242.86 200.05L242.90 205.46L242.95 202.96L242.99 202.89L243.03 200.97L243.07 196.94L243.11 196.54L243.15 193.17L243.20 194.11L243.24 194.66L243.28 198.54L243.32 201.98L243.36 208.47L243.40 214.18L243.45 220.46L243.49 222.89L243.53 224.90L243.57 222.95L243.61 219.89L243.65 217.45L243.70 216.88L243.74 212.44L243.78 214.31L243.82 212.73L243.86 216.26L243.91 219.60L243.95 224.35L243.99 229.42L244.03 230.48L244.07 229.85L244.11 228.35L244.16 225.09L244.20 220.18L244.24 216.72L244.28 212.80L244.32 211.60L244.36 212.66L244.41 216.36L244.45 220.39L244.49 228.38L244.53 236.33L244.57 241.17L244.61 245.19L244.66 245.10L244.70 243.35L244.74 241.98L244.78 238.73L244.82 233.49L244.86 231.37L244.91 228.94L244.95 228.55L244.99 230.67L245.03 235.92L245.07 236.81L245.12 241.16L245.16 243.36L245.20 243.95L245.24 243.19L245.28 237.97L245.32 233.65L245.37 227.60L245.41 223.90L245.45 223.65L245.49 220.31L245.53 224.39L245.57 230.78L245.62 237.12L245.66 243.18L245.70 247.27L245.74 251.86L245.78 251.91L245.82 249.57L245.87 246.99L245.91 242.11L245.95 237.68L245.99 235.47L246.03 234.84L246.07 234.84L246.12 234.39L246.16 240.00L246.20 244.01L246.24 248.18L246.28 249.58L246.33 248.97L246.37 243.52L246.41 241.26L246.45 236.31L246.49 228.92L246.53 223.31L246.58 223.43L246.62 224.96L246.66 226.41L246.70 232.97L246.74 240.92L246.78 245.82L246.83 248.44L246.87 255.48L246.91 255.23L246.95 254.85L246.99 252.31L247.03 246.00L247.08 245.95L247.12 240.01L247.16 239.00L247.20 239.08L247.24 241.51L247.28 244.80L247.33 248.62L247.37 251.49L247.41 253.55L247.45 255.75L247.49 251.31L247.53 244.13L247.58 240.16L247.62 231.85L247.66 230.56L247.70 228.55L247.74 227.54L247.78 231.40L247.83 237.60L247.87 242.33L247.91 246.78L247.95 252.30L247.99 254.97L248.04 254.81L248.08 253.38L248.12 249.97L248.16 245.93L248.20 240.82L248.24 235.15L248.29 234.80L248.33 234.86L248.37 234.90L248.41 236.27L248.45 237.80L248.49 239.96L248.54 241.56L248.58 244.19L248.62 240.39L248.66 237.33L248.70 230.06L248.74 224.94L248.79 221.15L248.83 218.77L248.87 215.02L248.91 218.18L248.95 220.36L248.99 223.70L249.04 229.84L249.08 234.51L249.12 238.12L249.16 237.79L249.20 238.55L249.24 232.52L249.29 229.34L249.33 223.54L249.37 221.67L249.41 216.46L249.45 215.44L249.49 216.20L249.54 216.46L249.58 222.53L249.62 223.31L249.66 224.14L249.70 224.76L249.75 221.72L249.79 218.36L249.83 213.86L249.87 206.64L249.91 203.03L249.95 202.04L250.00 199.42L250.04 198.77L250.08 201.77L250.12 207.27L250.16 212.70L250.20 216.13L250.25 216.67L250.29 218.74L250.33 219.38L250.37 215.14L250.41 209.72L250.45 208.12L250.50 201.73L250.54 200.34L250.58 199.06L250.62 198.79L250.66 199.27L250.70 203.97L250.75 205.38L250.79 207.15L250.83 204.36L250.87 202.73L250.91 199.25L250.95 195.49L251.00 189.74L251.04 185.35L251.08 181.36L251.12 179.39L251.16 179.91L251.21 183.68L251.25 188.37L251.29 192.25L251.33 195.99L251.37 197.62L251.41 196.13L251.46 194.42L251.50 193.19L251.54 191.07L251.58 184.28L251.62 181.91L251.66 179.75L251.71 177.22L251.75 179.18L251.79 179.74L251.83 181.05L251.87 183.25L251.91 182.61L251.96 180.95L252.00 178.09L252.04 175.76L252.08 171.46L252.12 167.76L252.16 163.59L252.21 161.79L252.25 158.66L252.29 159.65L252.33 162.24L252.37 165.38L252.41 170.62L252.46 172.14L252.50 173.24L252.54 172.32L252.58 171.47L252.62 167.18L252.66 164.76L252.71 159.22L252.75 158.01L252.79 156.00L252.83 154.34L252.87 154.33L252.92 154.88L252.96 156.24L253.00 158.15L253.04 158.65L253.08 158.65L253.12 154.23L253.17 151.80L253.21 146.46L253.25 143.79L253.29 140.17L253.33 137.33L253.37 135.93L253.42 136.24L253.46 140.94L253.50 143.14L253.54 143.41L253.58 147.98L253.62 148.20L253.67 149.21L253.71 147.23L253.75 144.03L253.79 140.69L253.83 137.22L253.87 134.57L253.92 131.67L253.96 131.22L254.00 133.89L254.04 134.25L254.08 133.69L254.12 135.75L254.17 135.99L254.21 133.83L254.25 131.83L254.29 128.01L254.33 124.18L254.37 121.18L254.42 117.16L254.46 117.86L254.50 116.25L254.54 116.29L254.58 122.39L254.63 127.46L254.67 131.75L254.71 134.63L254.75 134.13L254.79 137.41L254.83 137.46L254.88 136.11L254.92 134.17L254.96 132.87L255.00 132.55L255.04 132.62L255.08 132.92L255.13 135.69L255.17 139.59L255.21 142.61L255.25 145.25L255.29 146.10L255.33 147.31L255.38 146.03L255.42 143.10L255.46 140.22L255.50 139.41L255.54 138.55L255.58 137.83L255.63 139.11L255.67 143.81L255.71 145.45L255.75 150.39L255.79 154.67L255.83 158.12L255.88 160.10L255.92 160.78L255.96 161.59L256.00 159.87L256.04 158.85L256.09 157.79L256.13 157.52L256.17 155.40L256.21 159.98L256.25 160.47L256.29 162.91L256.34 167.81L256.38 168.09L256.42 171.24L256.46 170.01L256.50 170.44L256.54 168.21L256.59 164.11L256.63 161.69L256.67 160.65L256.71 161.47L256.75 162.69L256.79 165.83L256.84 169.72L256.88 172.68L256.92 176.75L256.96 183.68L257.00 181.87L257.04 184.85L257.09 182.16L257.13 182.38L257.17 177.25L257.21 175.78L257.25 176.82L257.30 175.38L257.34 179.80L257.38 183.22L257.42 185.28L257.46 190.02L257.50 192.56L257.55 190.89L257.59 190.77L257.63 187.39L257.67 182.14L257.71 179.92L257.75 177.26L257.80 177.16L257.84 175.25L257.88 178.33L257.92 182.11L257.96 187.40L258.00 192.98L258.05 196.95L258.09 199.26L258.13 200.02L258.17 201.82L258.21 197.56L258.25 195.95L258.30 193.22L258.34 190.52L258.38 192.50L258.42 189.88L258.46 194.57L258.50 199.78L258.55 202.96L258.59 205.46L258.63 208.63L258.67 207.60L258.71 203.07L258.76 198.87L258.80 195.57L258.84 191.17L258.88 188.68L258.92 184.18L258.96 185.25L259.01 189.47L259.05 195.04L259.09 199.39L259.13 204.39L259.17 209.68L259.21 214.48L259.26 216.56L259.30 215.44L259.34 214.28L259.38 209.47L259.42 204.81L259.46 206.26L259.51 203.02L259.55 203.63L259.59 207.55L259.63 209.22L259.67 214.78L259.71 218.15L259.76 222.56L259.80 223.25L259.84 222.80L259.88 217.60L259.92 211.75L259.97 206.88L260.01 201.29L260.05 199.36L260.09 199.66L260.13 200.49L260.17 206.02L260.22 213.71L260.26 219.65L260.30 225.57L260.34 230.82L260.38 233.77L260.42 234.29L260.47 232.53L260.51 226.92L260.55 224.01L260.59 220.80L260.63 218.76L260.67 219.31L260.72 220.76L260.76 225.54L260.80 231.64L260.84 232.19L260.88 236.40L260.92 236.43L260.97 234.20L261.01 231.43L261.05 224.64L261.09 221.05L261.13 213.70L261.17 211.87L261.22 209.01L261.26 209.68L261.30 213.85L261.34 220.91L261.38 226.26L261.42 231.91L261.47 235.38L261.51 236.75L261.55 234.79L261.59 231.42L261.63 227.28L261.67 223.18L261.72 219.02L261.76 217.31L261.80 218.14L261.84 219.30L261.88 221.39L261.92 227.18L261.97 227.86L262.01 230.81L262.05 230.01L262.09 227.24L262.13 223.07L262.17 217.83L262.22 211.73L262.26 203.64L262.30 201.59L262.34 199.58L262.38 199.16L262.42 206.05L262.47 209.92L262.51 215.39L262.55 219.21L262.59 223.18L262.63 224.99L262.67 223.26L262.72 218.98L262.76 217.10L262.80 212.32L262.84 209.10L262.88 206.11L262.92 204.18L262.96 207.23L263.01 209.57L263.05 212.75L263.09 217.55L263.13 219.08L263.17 218.70L263.21 217.65L263.26 210.79L263.30 205.30L263.34 200.55L263.38 194.09L263.42 191.75L263.46 188.01L263.51 192.38L263.55 193.56L263.59 198.28L263.63 206.91L263.67 209.62L263.71 212.60L263.76 213.41L263.80 213.15L263.84 209.20L263.88 203.56L263.92 202.25L263.96 198.63L264.01 196.47L264.05 198.09L264.09 200.46L264.13 205.01L264.17 207.74L264.21 210.22L264.26 212.58L264.30 212.62L264.34 210.15L264.38 204.37L264.42 197.71L264.46 190.56L264.51 187.01L264.55 185.13L264.59 184.24L264.63 184.87L264.67 186.75L264.71 193.52L264.75 200.07L264.80 204.68L264.84 207.07L264.88 207.22L264.92 205.50L264.96 205.96L265.00 200.24L265.05 194.58L265.09 195.22L265.13 192.72L265.17 191.78L265.21 196.55L265.25 199.29L265.30 203.37L265.34 204.27L265.38 205.83L265.42 206.02L265.46 204.15L265.50 200.48L265.55 194.38L265.59 188.68L265.63 185.53L265.67 181.05L265.71 179.81L265.75 180.02L265.80 183.97L265.84 186.38L265.88 190.23L265.92 196.38L265.96 195.19L266.00 196.44L266.05 194.25L266.09 194.00L266.13 191.23L266.17 184.78L266.21 183.41L266.25 179.85L266.29 183.76L266.34 183.85L266.38 185.98L266.42 188.07L266.46 191.44L266.50 191.26L266.54 188.99L266.59 185.61L266.63 183.40L266.67 178.08L266.71 170.96L266.75 166.78L266.79 163.39L266.84 163.22L266.88 164.35L266.92 164.70L266.96 167.34L267.00 170.86L267.04 171.17L267.09 171.54L267.13 172.09L267.17 169.53L267.21 165.89L267.25 160.69L267.29 159.09L267.34 156.08L267.38 155.43L267.42 154.36L267.46 153.61L267.50 156.46L267.54 157.49L267.59 160.83L267.63 160.61L267.67 157.87L267.71 154.92L267.75 149.05L267.79 144.80L267.84 139.76L267.88 135.78L267.92 131.19L267.96 130.01L268.00 130.51L268.04 132.64L268.08 133.56L268.13 135.93L268.17 138.50L268.21 135.96L268.25 135.71L268.29 132.68L268.33 127.45L268.38 127.40L268.42 123.32L268.46 122.12L268.50 120.09L268.54 120.17L268.58 120.66L268.63 121.22L268.67 124.03L268.71 125.65L268.75 125.37L268.79 121.56L268.83 118.33L268.88 114.72L268.92 109.42L268.96 107.08L269.00 101.96L269.04 102.91L269.08 99.87L269.13 98.01L269.17 100.59L269.21 101.95L269.25 104.48L269.29 103.15L269.33 104.96L269.38 103.66L269.42 101.61L269.46 98.78L269.50 96.82L269.54 96.12L269.58 94.25L269.62 97.09L269.67 97.98L269.71 100.50L269.75 105.04L269.79 106.82L269.83 108.96L269.88 109.29L269.92 110.58L269.96 108.04L270.00 108.49L270.04 104.95L270.08 102.48L270.12 99.51L270.17 100.09L270.21 99.38L270.25 99.71L270.29 103.44L270.33 109.02L270.38 111.53L270.42 114.52L270.46 116.09L270.50 117.59L270.54 115.85L270.58 116.50L270.62 115.45L270.67 112.02L270.71 113.11L270.75 111.99L270.79 113.45L270.83 118.45L270.88 121.11L270.92 123.87L270.96 127.48L271.00 126.40L271.04 126.34L271.08 126.19L271.12 125.17L271.17 119.54L271.21 117.06L271.25 115.26L271.29 112.90L271.33 115.57L271.38 116.68L271.42 119.73L271.46 123.35L271.50 126.74L271.54 128.65L271.58 132.30L271.62 133.37L271.67 131.34L271.71 131.18L271.75 128.90L271.79 127.12L271.83 129.22L271.88 128.33L271.92 131.41L271.96 131.30L272.00 133.05L272.04 138.77L272.08 141.67L272.12 143.31L272.17 144.52L272.21 143.59L272.25 140.75L272.29 139.14L272.33 134.58L272.38 130.28L272.42 128.95L272.46 128.18L272.50 130.77L272.54 134.31L272.58 137.06L272.62 142.26L272.67 146.45L272.71 150.62L272.75 151.25L272.79 152.98L272.83 150.20L272.88 147.48L272.92 147.19L272.96 146.49L273.00 144.24L273.04 146.95L273.08 149.13L273.12 153.39L273.17 157.93L273.21 162.93L273.25 165.32L273.29 166.88L273.33 163.73L273.38 161.23L273.42 160.88L273.46 153.80L273.50 149.85L273.54 147.03L273.58 144.44L273.62 147.01L273.67 150.54L273.71 155.61L273.75 159.62L273.79 163.37L273.83 168.08L273.88 170.85L273.92 169.96L273.96 171.18L274.00 167.78L274.04 164.60L274.08 163.58L274.12 162.30L274.17 161.37L274.21 164.99L274.25 169.32L274.29 173.13L274.33 178.09L274.38 180.99L274.42 181.57L274.46 181.26L274.50 177.57L274.54 169.09L274.58 165.39L274.62 161.91L274.67 157.38L274.71 155.69L274.75 158.98L274.79 162.46L274.83 167.69L274.88 173.56L274.92 178.94L274.96 182.99L275.00 184.81L275.04 183.80L275.08 183.55L275.12 180.19L275.17 175.56L275.21 173.18L275.25 173.81L275.29 178.18L275.33 179.65L275.38 185.43L275.42 189.64L275.46 196.43L275.50 194.64L275.54 196.97L275.58 195.13L275.62 192.85L275.67 186.68L275.71 180.95L275.75 176.51L275.79 172.04L275.83 172.71L275.88 175.67L275.92 179.57L275.96 186.04L276.00 192.30L276.04 195.68L276.08 200.27L276.12 199.98L276.17 201.40L276.21 198.82L276.25 195.79L276.29 193.65L276.33 193.24L276.38 191.74L276.42 195.49L276.46 196.53L276.50 203.42L276.54 208.27L276.58 214.48L276.62 215.00L276.67 218.36L276.71 215.47L276.75 211.79L276.79 202.46L276.83 197.69L276.88 191.94L276.92 191.24L276.96 190.62L277.00 192.78L277.04 196.15L277.08 203.09L277.12 208.23L277.17 210.39L277.21 212.69L277.25 214.69L277.29 211.42L277.33 209.65L277.37 204.03L277.42 201.32L277.46 200.88L277.50 202.04L277.54 204.17L277.58 206.45L277.62 211.07L277.67 215.71L277.71 220.46L277.75 221.45L277.79 221.10L277.83 214.24L277.87 209.53L277.91 203.15L277.96 199.27L278.00 192.80L278.04 190.35L278.08 190.69L278.12 193.09L278.16 196.03L278.21 200.97L278.25 206.33L278.29 205.50L278.33 206.16L278.37 204.65L278.41 202.64L278.46 198.86L278.50 197.14L278.54 194.54L278.58 191.42L278.62 193.58L278.66 194.59L278.70 199.10L278.75 202.54L278.79 207.73L278.83 207.48L278.87 207.32L278.91 209.29L278.95 205.66L279.00 200.46L279.04 193.30L279.08 187.58L279.12 185.31L279.16 181.91L279.20 181.73L279.25 182.57L279.29 186.58L279.33 191.52L279.37 192.93L279.41 196.40L279.45 197.49L279.50 195.59L279.54 192.38L279.58 189.25L279.62 184.64L279.66 184.47L279.70 183.35L279.74 183.38L279.79 185.04L279.83 186.50L279.87 193.65L279.91 195.83L279.95 200.09L279.99 200.53L280.04 198.16L280.08 194.64L280.12 188.03L280.16 180.97L280.20 177.60L280.24 171.28L280.29 169.05L280.33 167.20L280.37 168.76L280.41 173.48L280.45 179.79L280.49 179.23L280.53 181.26L280.58 183.45L280.62 180.16L280.66 178.33L280.70 174.99L280.74 169.23L280.78 166.23L280.83 164.90L280.87 166.01L280.91 169.68L280.95 171.94L280.99 174.88L281.03 178.39L281.08 181.05L281.12 181.12L281.16 178.07L281.20 174.96L281.24 167.32L281.28 164.71L281.32 156.67L281.37 152.52L281.41 149.04L281.45 149.23L281.49 151.53L281.53 153.20L281.57 155.48L281.62 159.51L281.66 160.96L281.70 161.31L281.74 159.67L281.78 155.24L281.82 151.96L281.87 148.54L281.91 146.21L281.95 144.06L281.99 145.09L282.03 145.51L282.07 149.89L282.11 153.08L282.16 156.55L282.20 156.22L282.24 156.20L282.28 154.47L282.32 148.84L282.36 145.37L282.41 138.79L282.45 134.54L282.49 131.10L282.53 128.77L282.57 129.66L282.61 129.61L282.66 132.40L282.70 132.82L282.74 137.24L282.78 138.50L282.82 135.08L282.86 133.54L282.90 132.07L282.95 127.97L282.99 123.65L283.03 122.06L283.07 120.93L283.11 122.78L283.15 124.14L283.20 127.49L283.24 131.00L283.28 130.88L283.32 133.87L283.36 131.29L283.40 131.84L283.45 127.88L283.49 122.25L283.53 118.21L283.57 113.83L283.61 111.26L283.65 110.80L283.70 107.00L283.74 109.86L283.78 111.25L283.82 113.13L283.86 115.07L283.90 118.73L283.94 116.52L283.99 115.82L284.03 114.35L284.07 110.90L284.11 108.47L284.15 106.16L284.19 104.13L284.24 104.66L284.28 107.12L284.32 108.75L284.36 110.62L284.40 114.87L284.44 115.97L284.49 114.22L284.53 112.74L284.57 111.01L284.61 107.29L284.65 101.63L284.69 96.88L284.73 95.85L284.78 95.07L284.82 94.75L284.86 94.46L284.90 96.67L284.94 97.49L284.98 98.23L285.03 99.85L285.07 99.22L285.11 98.56L285.15 95.86L285.19 95.46L285.23 92.71L285.28 89.88L285.32 87.75L285.36 89.39L285.40 89.48L285.44 94.43L285.48 98.54L285.53 102.08L285.57 104.42L285.61 106.91L285.65 106.59L285.69 104.50L285.73 104.58L285.78 100.43L285.82 98.66L285.86 99.25L285.90 98.91L285.94 97.81L285.98 102.69L286.03 107.20L286.07 108.23L286.11 113.48L286.15 114.66L286.19 116.70L286.24 116.16L286.28 116.27L286.32 114.83L286.36 115.53L286.40 113.61L286.44 112.94L286.49 116.04L286.53 120.25L286.57 122.91L286.61 129.05L286.65 131.76L286.70 135.45L286.74 136.79L286.78 138.59L286.82 133.82L286.86 131.85L286.90 128.88L286.95 125.24L286.99 123.34L287.03 124.99L287.07 127.02L287.11 127.86L287.15 132.35L287.20 135.75L287.24 138.28L287.28 139.81L287.32 140.42L287.36 138.56L287.41 137.21L287.45 136.68L287.49 133.03L287.53 133.46L287.57 134.29L287.61 137.96L287.66 141.39L287.70 143.93L287.74 148.46L287.78 150.74L287.82 156.07L287.87 156.60L287.91 156.05L287.95 153.52L287.99 151.68L288.03 148.18L288.07 145.56L288.12 142.66L288.16 139.46L288.20 142.89L288.24 147.57L288.28 148.91L288.32 153.45L288.37 158.19L288.41 161.15L288.45 162.15L288.49 162.15L288.53 160.31L288.58 158.38L288.62 158.88L288.66 156.55L288.70 156.78L288.74 159.61L288.78 163.58L288.83 169.11L288.87 176.19L288.91 181.25L288.95 186.88L288.99 185.77L289.03 187.78L289.08 184.73L289.12 182.92L289.16 176.44L289.20 172.01L289.24 167.98L289.29 169.03L289.33 169.58L289.37 176.25L289.41 178.67L289.45 183.13L289.49 187.45L289.54 191.93L289.58 191.39L289.62 192.16L289.66 188.56L289.70 186.88L289.75 183.55L289.79 181.21L289.83 184.78L289.87 187.01L289.91 192.18L289.95 195.59L290.00 200.43L290.04 207.67L290.08 209.90L290.12 211.66L290.16 209.01L290.20 204.61L290.25 199.74L290.29 193.96L290.33 191.18L290.37 188.26L290.41 185.96L290.46 189.11L290.50 191.35L290.54 197.92L290.58 199.96L290.62 203.06L290.66 205.53L290.71 205.56L290.75 204.06L290.79 199.83L290.83 197.14L290.87 193.55L290.92 193.15L290.96 190.96L291.00 195.46L291.04 199.85L291.08 204.93L291.12 212.50L291.17 216.28L291.21 219.75L291.25 218.04L291.29 218.56L291.33 214.75L291.37 209.04L291.42 203.39L291.46 195.35L291.50 192.15L291.54 190.16L291.58 194.57L291.62 193.13L291.67 198.58L291.71 203.31L291.75 208.77L291.79 209.12L291.83 207.57L291.88 206.65L291.92 204.54L291.96 200.12L292.00 194.79L292.04 193.42L292.08 194.75L292.12 196.42L292.17 199.89L292.21 204.93L292.25 210.19L292.29 216.17L292.33 218.76L292.38 216.86L292.42 215.35L292.46 213.44L292.50 206.56L292.54 199.20L292.58 192.54L292.62 189.97L292.67 186.33L292.71 188.64L292.75 191.41L292.79 192.60L292.83 200.73L292.88 203.19L292.92 203.35L292.96 202.74L293.00 200.10L293.04 198.20L293.08 193.56L293.12 189.39L293.17 188.96L293.21 188.30L293.25 190.39L293.29 194.51L293.33 199.93L293.38 204.19L293.42 209.27L293.46 210.97L293.50 210.13L293.54 208.40L293.58 204.42L293.62 198.58L293.67 192.04L293.71 185.29L293.75 185.38L293.79 183.38L293.83 185.83L293.88 188.38L293.92 192.36L293.96 194.75L294.00 196.45L294.04 197.72L294.08 197.47L294.12 193.70L294.17 190.27L294.21 187.97L294.25 183.84L294.29 182.67L294.33 182.88L294.38 184.73L294.42 187.45L294.46 191.85L294.50 197.64L294.54 202.88L294.58 206.61L294.62 204.82L294.67 204.26L294.71 199.35L294.75 192.96L294.79 187.02L294.83 182.11L294.88 178.24L294.92 175.88L294.96 176.67L295.00 178.06L295.04 182.27L295.08 185.28L295.12 187.11L295.17 186.62L295.21 185.21L295.25 181.83L295.29 175.69L295.33 173.09L295.38 167.50L295.42 165.18L295.46 166.14L295.50 169.94L295.54 170.98L295.58 175.92L295.62 179.73L295.67 183.98L295.71 185.50L295.75 182.18L295.79 179.97L295.83 174.81L295.88 169.60L295.92 162.47L295.96 156.83L296.00 154.00L296.04 151.09L296.08 152.12L296.12 152.10L296.17 154.25L296.21 157.17L296.25 157.48L296.29 158.95L296.33 158.68L296.38 154.00L296.42 149.11L296.46 143.97L296.50 142.10L296.54 138.25L296.58 137.97L296.62 139.70L296.67 144.30L296.71 146.12L296.75 150.68L296.79 154.18L296.83 154.08L296.88 152.01L296.92 151.48L296.96 145.19L297.00 140.09L297.04 137.06L297.08 131.69L297.12 128.63L297.17 131.46L297.21 128.62L297.25 129.10L297.29 133.99L297.33 135.02L297.38 136.19L297.42 137.26L297.46 134.92L297.50 132.63L297.54 127.72L297.58 123.92L297.62 124.49L297.67 121.93L297.71 123.20L297.75 124.86L297.79 129.88L297.83 131.47L297.88 133.30L297.92 136.98L297.96 135.93L298.00 138.12L298.04 134.60L298.08 129.14L298.12 127.17L298.17 122.63L298.21 121.05L298.25 117.96L298.29 118.77L298.33 121.65L298.38 120.38L298.42 123.55L298.46 124.71L298.50 125.82L298.54 125.33L298.58 123.51L298.62 120.08L298.67 115.69L298.71 113.74L298.75 111.04L298.79 111.42L298.83 108.76L298.88 112.47L298.92 115.44L298.96 117.74L299.00 121.73L299.04 121.04L299.08 122.53L299.12 122.07L299.17 120.05L299.21 116.66L299.25 110.83L299.29 108.91L299.33 106.03L299.38 103.72L299.42 103.58L299.46 101.96L299.50 104.31L299.54 104.57L299.58 108.18L299.62 107.08L299.67 105.76L299.71 103.26L299.75 101.07L299.79 97.36L299.83 95.69L299.88 90.19L299.92 88.65L299.96 89.55L300.00 93.04L300.04 95.26L300.08 99.63L300.12 101.41L300.17 106.40L300.21 107.41L300.25 108.94L300.29 106.64L300.33 106.56L300.38 103.43L300.42 100.83L300.46 98.70L300.50 100.93L300.54 99.81L300.58 101.40L300.62 105.05L300.67 106.70L300.71 109.33L300.75 112.15L300.79 111.23L300.83 110.59L300.88 111.23L300.92 106.39L300.96 106.02L301.00 104.95L301.04 104.01L301.08 107.64L301.12 111.05L301.17 114.89L301.21 118.46L301.25 124.01L301.29 127.34L301.33 129.81L301.38 127.71L301.42 126.64L301.46 124.84L301.50 123.16L301.54 121.14L301.58 119.51L301.62 118.53L301.67 121.86L301.71 124.04L301.75 126.95L301.79 130.34L301.83 133.32L301.88 136.14L301.92 134.88L301.96 132.27L302.00 132.67L302.04 129.57L302.08 127.70L302.12 127.19L302.17 127.76L302.21 129.81L302.25 134.82L302.29 140.79L302.33 146.02L302.38 151.23L302.42 154.31L302.46 156.05L302.50 156.15L302.54 153.16L302.58 149.22L302.62 147.67L302.67 144.72L302.71 142.16L302.75 143.57L302.79 144.88L302.83 149.27L302.88 152.73L302.92 155.53L302.96 157.01L303.00 157.46L303.04 157.55L303.08 152.48L303.12 150.20L303.17 145.77L303.21 144.89L303.25 144.25L303.29 146.04L303.33 148.86L303.38 152.14L303.42 157.62L303.46 162.99L303.50 169.24L303.54 173.06L303.58 170.76L303.62 170.90L303.67 169.85L303.71 165.23L303.75 162.58L303.79 160.22L303.83 160.52L303.88 160.12L303.92 162.11L303.96 166.51L304.00 167.50L304.04 170.92L304.08 175.55L304.12 176.31L304.17 172.87L304.21 170.10L304.25 166.96L304.29 163.27L304.33 161.27L304.38 160.52L304.42 162.40L304.46 165.53L304.50 170.79L304.54 177.90L304.58 185.24L304.62 190.33L304.67 195.82L304.71 194.96L304.75 195.16L304.79 193.45L304.83 189.06L304.88 184.50L304.92 180.97L304.96 179.24L305.00 179.82L305.04 181.62L305.08 184.77L305.12 190.40L305.17 193.63L305.21 197.67L305.25 197.59L305.29 197.75L305.33 193.71L305.38 188.43L305.42 184.83L305.46 179.57L305.50 178.23L305.54 180.82L305.58 182.15L305.62 187.92L305.67 193.78L305.71 199.11L305.75 206.23L305.79 212.20L305.83 210.95L305.88 211.94L305.92 205.79L305.96 202.35L306.00 198.57L306.04 195.24L306.08 190.87L306.12 191.85L306.17 191.91L306.21 194.09L306.25 199.47L306.29 203.87L306.33 206.15L306.38 203.82L306.42 203.03L306.46 200.81L306.50 195.25L306.54 191.48L306.58 186.38L306.62 184.49L306.67 184.17L306.71 188.88L306.75 195.49L306.79 200.38L306.83 208.39L306.87 211.12L306.92 215.89L306.96 216.75L307.00 215.63L307.04 211.74L307.08 206.81L307.12 200.52L307.17 196.25L307.21 193.42L307.25 195.25L307.29 198.18L307.33 200.02L307.37 205.29L307.41 207.07L307.46 209.47L307.50 208.49L307.54 207.51L307.58 202.40L307.62 196.41L307.66 190.14L307.71 184.99L307.75 184.29L307.79 185.66L307.83 189.32L307.87 195.45L307.91 200.80L307.96 206.52L308.00 212.62L308.04 214.45L308.08 213.73L308.12 210.72L308.16 206.03L308.21 199.85L308.25 196.14L308.29 190.69L308.33 189.92L308.37 191.41L308.41 191.30L308.45 196.57L308.50 199.89L308.54 199.85L308.58 202.35L308.62 199.90L308.66 197.70L308.70 190.01L308.75 186.27L308.79 182.14L308.83 177.41L308.87 175.19L308.91 177.88L308.95 179.75L309.00 185.02L309.04 189.07L309.08 195.29L309.12 201.64L309.16 202.87L309.20 203.49L309.24 200.72L309.29 195.31L309.33 188.88L309.37 183.01L309.41 180.64L309.45 177.88L309.49 179.42L309.54 181.87L309.58 182.88L309.62 187.44L309.66 190.22L309.70 189.25L309.74 187.78L309.79 185.29L309.83 182.12L309.87 172.50L309.91 170.55L309.95 166.16L309.99 166.69L310.04 164.38L310.08 168.62L310.12 173.97L310.16 176.14L310.20 182.93L310.24 186.47L310.28 188.08L310.33 185.97L310.37 185.60L310.41 180.03L310.45 176.16L310.49 171.47L310.53 168.32L310.58 167.62L310.62 166.98L310.66 168.28L310.70 170.15L310.74 173.03L310.78 172.40L310.83 174.36L310.87 172.23L310.91 172.69L310.95 168.22L310.99 162.46L311.03 158.22L311.07 154.12L311.12 154.20L311.16 154.35L311.20 158.85L311.24 161.20L311.28 165.89L311.32 169.91L311.37 173.96L311.41 175.63L311.45 174.96L311.49 172.74L311.53 168.86L311.57 164.37L311.62 161.40L311.66 159.41L311.70 156.02L311.74 159.26L311.78 158.22L311.82 161.31L311.86 165.07L311.91 165.20L311.95 167.15L311.99 164.20L312.03 162.07L312.07 161.01L312.11 155.27L312.16 149.78L312.20 148.03L312.24 146.06L312.28 146.34L312.32 148.49L312.36 151.02L312.41 155.64L312.45 156.94L312.49 159.94L312.53 161.19L312.57 159.36L312.61 157.50L312.66 155.69L312.70 149.76L312.74 146.63L312.78 143.10L312.82 144.30L312.86 143.05L312.90 142.72L312.95 146.63L312.99 146.28L313.03 148.35L313.07 146.70L313.11 146.15L313.15 143.25L313.20 138.27L313.24 134.65L313.28 132.84L313.32 128.26L313.36 128.08L313.40 127.95L313.45 129.99L313.49 131.91L313.53 135.23L313.57 139.42L313.61 141.45L313.65 140.10L313.69 139.79L313.74 138.40L313.78 134.64L313.82 130.79L313.86 128.88L313.90 127.22L313.94 126.37L313.99 126.84L314.03 127.99L314.07 129.42L314.11 130.67L314.15 130.53L314.19 131.17L314.24 128.81L314.28 124.63L314.32 120.85L314.36 117.21L314.40 114.03L314.44 112.94L314.49 111.80L314.53 112.57L314.57 115.54L314.61 116.93L314.65 119.19L314.69 121.11L314.73 122.37L314.78 121.83L314.82 120.86L314.86 118.65L314.90 115.26L314.94 113.53L314.98 109.38L315.03 108.85L315.07 108.56L315.11 107.50L315.15 110.08L315.19 109.72L315.23 112.15L315.28 111.38L315.32 111.32L315.36 109.50L315.40 104.92L315.44 104.80L315.48 101.29L315.53 100.25L315.57 100.58L315.61 100.92L315.65 103.42L315.69 106.49L315.73 110.90L315.78 112.91L315.82 119.74L315.86 121.22L315.90 123.37L315.94 125.44L315.99 125.54L316.03 125.60L316.07 122.06L316.11 122.93L316.15 121.50L316.19 121.76L316.24 123.47L316.28 126.60L316.32 128.77L316.36 133.28L316.40 137.40L316.45 137.41L316.49 138.20L316.53 138.72L316.57 133.17L316.61 134.09L316.65 132.59L316.70 131.83L316.74 131.14L316.78 131.14L316.82 134.98L316.86 142.70L316.91 145.67L316.95 151.12L316.99 156.02L317.03 158.12L317.07 161.81L317.11 159.17L317.16 159.16L317.20 155.65L317.24 153.74L317.28 154.53L317.32 154.14L317.37 156.60L317.41 160.96L317.45 164.35L317.49 168.07L317.53 170.52L317.57 173.34L317.62 171.84L317.66 171.49L317.70 166.38L317.74 165.59L317.78 162.68L317.83 161.36L317.87 160.68L317.91 164.41L317.95 167.61L317.99 173.21L318.03 179.22L318.08 185.87L318.12 188.16L318.16 189.91L318.20 190.64L318.24 189.91L318.29 187.17L318.33 183.41L318.37 184.39L318.41 182.49L318.45 182.10L318.49 185.10L318.54 189.41L318.58 195.71L318.62 199.31L318.66 200.36L318.70 202.46L318.75 200.67L318.79 201.24L318.83 195.17L318.87 190.69L318.91 188.22L318.95 184.75L319.00 185.22L319.04 186.17L319.08 191.55L319.12 196.49L319.16 202.82L319.21 208.72L319.25 212.94L319.29 216.89L319.33 217.20L319.37 216.68L319.41 213.06L319.46 211.35L319.50 204.97L319.54 205.72L319.58 203.75L319.62 204.47L319.67 208.01L319.71 209.69L319.75 215.32L319.79 221.07L319.83 221.45L319.87 221.11L319.92 217.82L319.96 211.88L320.00 206.35L320.04 200.26L320.08 195.07L320.12 194.36L320.17 196.12L320.21 199.12L320.25 205.38L320.29 211.20L320.33 218.28L320.38 224.00L320.42 223.51L320.46 225.75L320.50 221.23L320.54 217.10L320.58 212.01L320.62 207.54L320.67 203.99L320.71 205.04L320.75 206.62L320.79 210.37L320.83 214.48L320.88 219.79L320.92 219.50L320.96 218.87L321.00 217.07L321.04 208.77L321.08 202.47L321.12 197.10L321.17 190.22L321.21 186.48L321.25 185.02L321.29 187.66L321.33 189.45L321.38 197.46L321.42 204.00L321.46 208.47L321.50 210.99L321.54 211.80L321.58 211.16L321.62 206.92L321.67 202.02L321.71 196.61L321.75 192.83L321.79 192.34L321.83 192.25L321.88 196.37L321.92 198.57L321.96 204.40L322.00 205.48L322.04 206.41L322.08 204.09L322.12 199.83L322.17 193.93L322.21 187.82L322.25 182.95L322.29 176.02L322.33 175.83L322.38 176.09L322.42 179.15L322.46 181.88L322.50 187.58L322.54 193.06L322.58 197.12L322.62 197.20L322.67 194.75L322.71 195.18L322.75 189.81L322.79 185.86L322.83 183.77L322.88 183.69L322.92 183.79L322.96 183.46L323.00 188.07L323.04 194.24L323.08 195.97L323.12 199.57L323.17 198.22L323.21 196.62L323.25 193.75L323.29 189.77L323.33 180.39L323.38 176.48L323.42 175.55L323.46 171.28L323.50 172.14L323.54 181.04L323.58 184.03L323.62 189.57L323.67 192.77L323.71 195.67L323.75 196.46L323.79 197.34L323.83 194.45L323.88 189.16L323.92 187.43L323.96 186.15L324.00 184.84L324.04 185.09L324.08 187.95L324.12 190.46L324.17 193.60L324.21 197.69L324.25 200.73L324.29 201.99L324.33 200.47L324.38 193.44L324.42 191.50L324.46 183.44L324.50 178.85L324.54 176.43L324.58 174.49L324.62 176.95L324.67 181.46L324.71 184.69L324.75 188.89L324.79 191.60L324.83 194.97L324.88 196.54L324.92 194.29L324.96 192.89L325.00 187.04L325.04 185.82L325.08 182.78L325.12 181.48L325.17 181.84L325.21 183.26L325.25 187.26L325.29 192.29L325.33 194.07L325.38 194.88L325.42 192.66L325.46 192.02L325.50 189.43L325.54 182.15L325.58 177.62L325.62 172.97L325.67 170.69L325.71 168.71L325.75 169.56L325.79 172.53L325.83 177.47L325.88 179.42L325.92 183.29L325.96 186.00L326.00 183.18L326.04 183.80L326.08 180.39L326.12 181.05L326.17 172.58L326.21 170.31L326.25 169.97L326.29 172.45L326.33 176.50L326.38 180.18L326.42 182.68L326.46 182.83L326.50 186.34L326.54 184.61L326.58 180.34L326.62 175.34L326.67 170.13L326.71 164.48L326.75 159.22L326.79 157.74L326.83 157.68L326.88 158.32L326.92 163.01L326.96 165.70L327.00 168.41L327.04 169.71L327.08 171.91L327.12 171.20L327.17 167.83L327.21 164.73L327.25 161.43L327.29 160.54L327.33 158.55L327.38 160.01L327.42 159.22L327.46 161.70L327.50 165.40L327.54 167.64L327.58 170.37L327.62 170.73L327.67 167.67L327.71 165.49L327.75 163.16L327.79 155.55L327.83 152.95L327.88 148.61L327.92 144.82L327.96 145.54L328.00 144.77L328.04 146.56L328.08 149.62L328.12 151.33L328.17 154.77L328.21 156.24L328.25 153.98L328.29 151.95L328.33 149.57L328.38 146.91L328.42 143.73L328.46 142.97L328.50 143.06L328.54 140.33L328.58 143.43L328.62 145.87L328.67 151.17L328.71 149.86L328.75 149.90L328.79 147.77L328.83 148.77L328.88 143.05L328.92 139.77L328.96 137.49L329.00 130.18L329.04 127.29L329.08 127.74L329.12 126.42L329.17 127.74L329.21 129.85L329.25 132.86L329.29 133.91L329.33 134.85L329.38 133.04L329.42 131.29L329.46 130.89L329.50 127.39L329.54 126.72L329.58 123.89L329.62 124.49L329.67 124.13L329.71 125.80L329.75 127.60L329.79 130.05L329.83 133.17L329.88 131.44L329.92 133.91L329.96 129.27L330.00 127.08L330.04 123.56L330.08 120.19L330.12 115.92L330.17 114.86L330.21 114.25L330.25 113.80L330.29 113.94L330.33 117.00L330.38 118.21L330.42 118.98L330.46 121.83L330.50 121.01L330.54 120.37L330.58 117.58L330.62 116.47L330.67 113.94L330.71 112.62L330.75 111.93L330.79 108.75L330.83 109.49L330.88 113.39L330.92 115.09L330.96 116.20L331.00 116.93L331.04 120.26L331.08 120.02L331.12 119.78L331.17 119.80L331.21 117.35L331.25 115.08L331.29 114.40L331.33 113.53L331.38 115.90L331.42 118.43L331.46 123.94L331.50 126.94L331.54 131.45L331.58 134.97L331.62 139.99L331.67 138.85L331.71 141.55L331.75 139.31L331.79 140.24L331.83 139.74L331.88 140.16L331.92 142.31L331.96 144.16L332.00 149.78L332.04 157.95L332.08 158.42L332.12 163.57L332.17 165.33L332.21 166.12L332.25 166.40L332.29 164.04L332.33 160.26L332.38 158.09L332.42 156.91L332.46 156.28L332.50 159.15L332.54 165.01L332.58 168.34L332.62 175.46L332.67 179.98L332.71 182.21L332.75 185.30L332.79 186.21L332.83 185.74L332.88 184.28L332.92 183.67L332.96 182.46L333.00 186.06L333.04 185.09L333.08 191.57L333.12 196.29L333.17 199.94L333.21 208.67L333.25 209.47L333.29 212.66L333.33 210.03L333.38 208.15L333.42 204.05L333.46 200.88L333.50 196.20L333.54 195.05L333.58 193.86L333.62 194.80L333.67 199.24L333.71 204.22L333.75 212.14L333.79 215.44L333.83 218.57L333.88 219.81L333.92 220.13L333.96 217.42L334.00 215.82L334.04 214.22L334.08 211.47L334.12 211.88L334.17 215.89L334.21 218.99L334.25 226.66L334.29 231.77L334.33 238.56L334.38 239.96L334.42 240.00L334.46 237.81L334.50 232.92L334.54 227.89L334.58 221.68L334.62 217.86L334.67 214.08L334.71 215.45L334.75 216.64L334.79 220.66L334.83 225.47L334.88 228.62L334.92 234.40L334.96 235.81L335.00 235.19L335.04 233.85L335.08 231.55L335.12 227.10L335.17 224.40L335.21 223.38L335.25 223.36L335.29 225.81L335.33 230.74L335.38 234.87L335.42 241.61L335.46 245.25L335.50 245.19L335.54 245.21L335.58 241.79L335.62 236.81L335.67 230.18L335.71 223.87L335.75 219.58L335.79 215.63L335.83 215.13L335.88 216.68L335.92 220.27L335.96 223.68L336.00 229.89L336.04 234.10L336.08 236.25L336.12 235.41L336.17 231.94L336.21 229.63L336.25 225.98L336.29 222.20L336.33 220.93L336.38 220.88L336.42 221.94L336.46 225.89L336.50 231.46L336.54 235.56L336.58 241.10L336.62 242.95L336.67 242.83L336.71 238.44L336.75 231.42L336.79 226.01L336.83 219.98L336.88 213.04L336.92 212.11L336.96 210.67L337.00 212.08L337.04 214.73L337.08 219.64L337.12 224.63L337.17 227.08L337.21 229.85L337.25 229.29L337.29 227.09L337.33 223.00L337.38 219.61L337.42 216.34L337.46 214.43L337.50 215.67L337.54 218.15L337.58 223.24L337.62 227.39L337.67 231.48L337.71 235.82L337.75 235.22L337.79 233.55L337.83 231.32L337.88 224.79L337.92 218.28L337.96 214.09L338.00 207.49L338.04 207.16L338.08 206.66L338.12 208.72L338.17 211.63L338.21 217.03L338.25 219.66L338.29 219.76L338.33 223.49L338.38 222.48L338.42 219.52L338.46 212.50L338.50 211.98L338.54 209.11L338.58 208.01L338.62 208.02L338.67 210.97L338.71 213.14L338.75 217.37L338.79 220.54L338.83 222.95L338.88 226.40L338.92 224.09L338.96 221.01L339.00 214.35L339.04 211.14L339.08 202.73L339.12 199.72L339.17 195.96L339.21 195.34L339.25 197.01L339.29 197.76L339.33 202.43L339.38 206.07L339.42 208.06L339.46 207.97L339.50 207.58L339.54 205.57L339.58 201.89L339.62 197.94L339.67 192.65L339.71 194.35L339.75 193.87L339.79 194.32L339.83 194.92L339.88 198.84L339.92 204.96L339.96 206.08L340.00 207.31L340.04 207.18L340.08 202.78L340.12 198.29L340.17 193.73L340.21 185.92L340.25 183.33L340.29 180.08L340.33 179.58L340.38 178.83L340.42 184.45L340.46 184.92L340.50 188.28L340.54 188.62L340.58 192.20L340.62 192.93L340.67 191.33L340.71 186.38L340.75 183.53L340.79 179.71L340.83 178.07L340.88 176.60L340.92 178.56L340.96 181.47L341.00 183.85L341.04 188.01L341.08 189.96L341.12 191.12L341.17 189.82L341.21 188.42L341.25 181.45L341.29 177.77L341.33 174.12L341.38 168.94L341.42 169.16L341.46 165.97L341.50 165.94L341.54 167.22L341.58 169.59L341.62 171.64L341.67 175.82L341.71 175.66L341.75 173.75L341.79 174.49L341.83 170.45L341.88 165.30L341.92 165.32L341.96 164.59L342.00 164.50L342.04 165.36L342.08 166.18L342.12 170.93L342.17 171.88L342.21 175.40L342.25 174.81L342.29 176.55L342.33 171.54L342.38 168.12L342.42 165.47L342.46 162.41L342.50 157.19L342.54 154.70L342.58 156.10L342.62 156.77L342.67 158.51L342.71 159.95L342.75 161.34L342.79 163.24L342.83 165.72L342.88 163.13L342.92 161.63L342.96 160.57L343.00 159.80L343.04 156.75L343.08 152.79L343.12 154.12L343.17 156.52L343.21 158.18L343.25 158.68L343.29 162.35L343.33 163.86L343.38 164.29L343.42 164.94L343.46 165.05L343.50 161.49L343.54 156.67L343.58 153.07L343.62 148.16L343.67 146.80L343.71 146.30L343.75 144.18L343.79 146.47L343.83 146.90L343.88 149.13L343.92 151.35L343.96 151.89L344.00 152.76L344.04 149.33L344.08 147.13L344.12 144.11L344.17 141.62L344.21 142.34L344.25 141.91L344.29 141.76L344.33 140.97L344.38 143.80L344.42 145.56L344.46 148.89L344.50 150.08L344.54 149.07L344.58 146.70L344.62 142.47L344.67 138.28L344.71 136.77L344.75 131.77L344.79 128.46L344.83 126.33L344.88 124.65L344.92 128.73L344.96 128.01L345.00 128.37L345.04 132.23L345.08 134.78L345.12 137.72L345.17 135.44L345.21 137.74L345.25 136.10L345.29 134.74L345.33 134.36L345.38 136.00L345.42 137.54L345.46 140.48L345.50 143.08L345.54 147.24L345.58 154.31L345.62 154.63L345.67 155.23L345.71 154.47L345.75 154.46L345.79 151.49L345.83 148.41L345.88 146.64L345.92 144.80L345.96 146.59L346.00 147.33L346.04 151.49L346.08 153.90L346.12 159.85L346.17 160.96L346.21 164.12L346.25 161.88L346.29 163.91L346.33 162.39L346.38 162.59L346.42 162.07L346.46 162.64L346.50 163.20L346.54 165.25L346.58 170.55L346.62 175.40L346.67 181.51L346.71 183.80L346.75 187.19L346.79 187.97L346.83 186.95L346.88 184.68L346.92 182.63L346.96 178.49L347.00 175.51L347.04 175.00L347.08 175.62L347.12 178.11L347.17 181.20L347.21 187.09L347.25 189.87L347.29 194.69L347.33 197.52L347.38 197.22L347.42 198.44L347.46 196.99L347.50 193.76L347.54 192.42L347.58 191.90L347.62 194.90L347.67 198.15L347.71 203.96L347.75 209.65L347.79 214.76L347.83 220.46L347.88 224.21L347.92 227.50L347.96 225.01L348.00 222.77L348.04 217.98L348.08 214.32L348.12 210.36L348.17 209.84L348.21 210.21L348.25 214.14L348.29 216.95L348.33 223.16L348.38 228.97L348.42 232.64L348.46 235.58L348.50 236.50L348.54 235.71L348.58 231.50L348.62 230.03L348.67 229.55L348.71 228.96L348.75 232.65L348.79 237.42L348.83 243.46L348.88 250.34L348.92 256.99L348.96 262.12L349.00 266.13L349.04 264.13L349.08 260.31L349.12 256.34L349.17 249.44L349.21 244.93L349.25 239.70L349.29 241.26L349.33 241.34L349.38 243.56L349.42 251.39L349.46 254.53L349.50 258.37L349.54 262.18L349.58 261.30L349.62 260.90L349.67 259.21L349.71 255.65L349.75 249.52L349.79 247.80L349.83 248.79L349.88 247.93L349.92 252.63L349.96 260.55L350.00 264.19L350.04 271.71L350.08 276.00L350.12 276.75L350.17 273.68L350.21 272.68L350.25 264.36L350.29 258.82L350.33 252.71L350.38 246.29L350.42 247.80L350.46 244.02L350.50 248.52L350.54 248.70L350.58 253.13L350.62 258.84L350.67 260.64L350.71 259.67L350.75 260.24L350.79 254.31L350.83 250.72L350.88 246.65L350.92 240.31L350.96 241.83L351.00 243.50L351.04 246.71L351.08 250.29L351.12 256.20L351.17 264.32L351.21 267.26L351.25 267.61L351.29 266.04L351.33 262.37L351.38 256.26L351.42 249.53L351.46 242.68L351.50 238.50L351.54 233.01L351.58 232.25L351.62 235.72L351.67 239.38L351.71 241.57L351.75 246.85L351.79 245.23L351.83 247.38L351.88 246.17L351.92 243.53L351.96 237.70L352.00 234.54L352.04 233.05L352.08 232.83L352.12 233.32L352.17 237.16L352.21 239.74L352.25 244.40L352.29 251.37L352.33 254.16L352.38 252.19L352.42 251.97L352.46 249.14L352.50 241.83L352.54 237.88L352.58 232.19L352.62 227.93L352.67 225.80L352.71 227.56L352.75 231.31L352.79 235.94L352.83 238.95L352.88 239.60L352.92 243.72L352.96 237.50L353.00 235.41L353.04 233.01L353.08 227.92L353.12 223.92L353.17 224.66L353.21 225.43L353.25 228.15L353.29 234.26L353.33 238.07L353.38 243.13L353.42 247.76L353.46 249.72L353.50 247.37L353.54 246.08L353.58 243.26L353.62 233.88L353.67 228.87L353.71 227.05L353.75 223.52L353.79 221.54L353.83 224.42L353.88 227.23L353.92 230.12L353.96 233.63L354.00 234.32L354.04 234.27L354.08 232.37L354.12 228.77L354.17 225.14L354.21 222.39L354.25 217.51L354.29 216.50L354.33 217.21L354.38 219.80L354.42 222.32L354.46 224.31L354.50 233.63L354.54 233.89L354.58 235.04L354.62 234.94L354.67 231.03L354.71 226.93L354.75 223.45L354.79 217.46L354.83 212.06L354.88 209.65L354.92 209.90L354.96 210.70L355.00 211.92L355.04 217.14L355.08 217.16L355.12 218.87L355.17 218.79L355.21 217.22L355.25 210.56L355.29 209.38L355.33 205.35L355.38 202.99L355.42 199.21L355.46 198.57L355.50 201.71L355.54 203.94L355.58 208.84L355.62 211.12L355.67 215.37L355.71 215.66L355.75 218.02L355.79 214.99L355.83 209.14L355.88 204.82L355.92 199.87L355.96 196.35L356.00 195.56L356.04 192.02L356.08 191.93L356.12 194.68L356.17 195.02L356.21 196.70L356.25 197.61L356.29 199.21L356.33 196.56L356.38 195.20L356.42 191.37L356.46 187.87L356.50 184.74L356.54 182.91L356.58 181.17L356.62 182.99L356.67 186.32L356.71 190.23L356.75 193.99L356.79 195.66L356.83 199.83L356.88 195.80L356.92 195.38L356.96 192.46L357.00 188.92L357.04 183.98L357.08 180.94L357.12 178.78L357.17 177.57L357.21 178.04L357.25 178.26L357.29 180.15L357.33 183.75L357.38 183.46L357.42 184.84L357.46 182.94L357.50 181.24L357.54 176.63L357.58 174.83L357.62 173.52L357.67 171.61L357.71 171.42L357.75 172.44L357.79 173.89L357.83 179.49L357.88 180.47L357.92 184.74L357.96 184.46L358.00 183.74L358.04 182.86L358.08 179.43L358.12 178.79L358.17 175.52L358.21 169.73L358.25 169.89L358.29 168.60L358.33 168.04L358.38 167.54L358.42 168.98L358.46 170.17L358.50 170.11L358.54 171.92L358.58 172.23L358.62 167.16L358.67 164.55L358.71 159.57L358.75 157.33L358.79 158.19L358.83 157.72L358.88 158.26L358.92 159.55L358.96 161.98L359.00 163.52L359.04 167.58L359.08 168.34L359.12 169.44L359.17 164.58L359.21 164.64L359.25 158.57L359.29 156.54L359.33 150.75L359.38 148.59L359.42 150.96L359.46 149.55L359.50 150.83L359.54 153.81L359.58 152.22L359.62 151.72L359.67 151.33L359.71 151.68L359.75 147.84L359.79 144.09L359.83 140.31L359.88 138.37L359.92 137.25L359.96 138.48L360.00 137.29L360.04 141.67L360.08 145.40L360.12 150.98L360.17 152.60L360.21 156.60L360.25 155.78L360.29 157.40L360.33 153.97L360.38 151.90L360.42 152.48L360.46 148.60L360.50 149.79L360.54 151.67L360.58 153.31L360.62 157.51L360.67 160.30L360.71 161.34L360.75 165.08L360.79 165.72L360.83 162.46L360.88 163.54L360.92 164.13L360.96 160.93L361.00 158.42L361.04 159.88L361.08 162.17L361.12 163.31L361.17 170.45L361.21 173.84L361.25 181.10L361.29 182.70L361.33 187.04L361.38 189.98L361.42 189.13L361.46 188.37L361.50 185.86L361.54 184.57L361.58 181.34L361.62 180.13L361.67 182.86L361.71 184.27L361.75 187.82L361.79 191.86L361.83 195.52L361.88 198.83L361.92 200.83L361.96 201.48L362.00 199.10L362.04 196.24L362.08 194.49L362.12 196.63L362.17 195.05L362.21 196.37L362.25 202.00L362.29 206.19L362.33 212.71L362.38 217.26L362.42 222.69L362.46 225.09L362.50 227.17L362.54 224.61L362.58 224.84L362.62 223.64L362.67 221.56L362.71 217.75L362.75 218.34L362.79 220.62L362.83 221.45L362.88 228.10L362.92 230.70L362.96 235.35L363.00 238.22L363.04 238.14L363.08 236.02L363.12 237.50L363.17 233.00L363.21 230.54L363.25 230.51L363.29 229.93L363.33 231.44L363.38 234.69L363.42 241.97L363.46 246.47L363.50 251.82L363.54 257.86L363.58 259.92L363.62 262.31L363.67 262.64L363.71 261.61L363.75 258.03L363.79 254.95L363.83 253.61L363.88 252.93L363.92 252.45L363.96 253.00L364.00 258.35L364.04 264.49L364.08 267.45L364.12 268.40L364.17 270.73L364.21 268.56L364.25 264.39L364.29 260.81L364.33 258.02L364.38 255.90L364.42 253.97L364.46 254.03L364.50 261.06L364.54 263.16L364.58 270.77L364.62 276.99L364.67 284.17L364.71 288.26L364.75 287.85L364.79 287.82L364.83 285.49L364.88 277.54L364.92 276.01L364.96 270.90L365.00 269.61L365.04 269.92L365.08 272.13L365.12 275.49L365.17 280.36L365.21 280.92L365.25 283.92L365.29 285.92L365.33 281.08L365.38 277.22L365.42 272.17L365.46 268.70L365.50 265.00L365.54 264.06L365.58 263.69L365.62 267.68L365.67 274.87L365.71 281.78L365.75 288.49L365.79 291.86L365.83 295.34L365.88 295.67L365.92 294.15L365.96 290.14L366.00 284.81L366.04 278.70L366.08 273.86L366.12 274.11L366.17 274.74L366.21 276.97L366.25 280.43L366.29 284.03L366.33 287.94L366.38 289.32L366.42 287.02L366.46 285.15L366.50 279.50L366.54 273.96L366.58 267.83L366.62 264.42L366.67 262.81L366.71 264.65L366.75 271.48L366.79 274.49L366.83 280.52L366.88 287.36L366.92 292.67L366.96 296.25L367.00 294.44L367.04 292.47L367.08 286.44L367.12 282.96L367.17 279.02L367.21 273.24L367.25 272.83L367.29 272.25L367.33 275.42L367.38 279.13L367.42 284.06L367.46 283.49L367.50 285.65L367.54 281.01L367.58 279.74L367.62 273.76L367.67 270.16L367.71 262.92L367.75 260.73L367.79 258.59L367.83 258.88L367.88 262.08L367.92 267.60L367.96 273.71L368.00 278.13L368.04 282.89L368.08 284.15L368.12 284.49L368.17 280.94L368.21 275.59L368.25 271.63L368.29 266.00L368.33 261.51L368.38 260.32L368.42 260.61L368.46 264.93L368.50 268.26L368.54 268.79L368.58 271.94L368.62 269.67L368.67 269.16L368.71 265.64L368.75 260.58L368.79 253.16L368.83 250.78L368.88 249.47L368.92 244.53L368.96 246.63L369.00 249.79L369.04 254.66L369.08 258.56L369.12 266.23L369.17 269.17L369.21 271.37L369.25 270.97L369.29 269.78L369.33 264.89L369.38 258.81L369.42 257.23L369.46 253.32L369.50 251.81L369.54 251.87L369.58 251.93L369.62 256.86L369.67 261.09L369.71 263.52L369.75 264.50L369.79 263.02L369.83 261.52L369.88 255.08L369.92 249.98L369.96 243.74L370.00 243.99L370.04 241.74L370.08 243.42L370.12 246.47L370.17 253.32L370.21 256.65L370.25 262.53L370.29 266.57L370.33 266.50L370.38 268.44L370.42 266.50L370.46 263.96L370.50 258.86L370.54 251.83L370.58 249.82L370.62 248.04L370.67 251.12L370.71 252.77L370.75 254.59L370.79 258.44L370.83 258.94L370.88 259.57L370.92 258.03L370.96 253.81L371.00 251.54L371.04 244.61L371.08 240.57L371.12 234.50L371.17 230.45L371.21 235.29L371.25 236.77L371.29 237.74L371.33 242.55L371.38 246.04L371.42 252.91L371.46 252.06L371.50 251.01L371.54 247.39L371.58 244.94L371.62 238.21L371.67 234.26L371.71 232.69L371.75 230.21L371.79 230.78L371.83 229.90L371.88 233.23L371.92 233.67L371.96 238.16L372.00 236.28L372.04 235.01L372.08 230.38L372.12 226.51L372.17 221.13L372.21 215.62L372.25 213.90L372.29 209.11L372.33 210.89L372.38 212.78L372.42 215.25L372.46 219.00L372.50 221.78L372.54 226.01L372.58 227.28L372.62 225.27L372.67 222.96L372.71 220.93L372.75 216.43L372.79 212.89L372.83 210.50L372.88 209.15L372.92 208.75L372.96 208.56L373.00 209.38L373.04 210.78L373.08 212.05L373.12 212.33L373.17 212.57L373.21 207.24L373.25 205.76L373.29 203.17L373.33 197.19L373.38 195.74L373.42 193.70L373.46 192.49L373.50 190.42L373.54 193.67L373.58 196.46L373.62 200.71L373.67 201.75L373.71 202.83L373.75 204.48L373.79 201.52L373.83 199.87L373.88 196.87L373.92 193.04L373.96 188.23L374.00 189.93L374.04 187.34L374.08 188.07L374.12 189.34L374.17 191.62L374.21 191.60L374.25 193.10L374.29 192.21L374.33 190.66L374.38 186.04L374.42 184.93L374.46 179.37L374.50 178.32L374.54 174.52L374.58 173.85L374.62 174.37L374.67 175.75L374.71 178.83L374.75 181.38L374.79 181.03L374.83 183.95L374.88 183.99L374.92 183.16L374.96 179.49L375.00 179.66L375.04 179.68L375.08 174.01L375.12 177.65L375.17 177.65L375.21 178.61L375.25 182.03L375.29 184.66L375.33 187.57L375.37 190.80L375.42 188.20L375.46 191.45L375.50 186.38L375.54 186.73L375.58 185.64L375.62 182.62L375.66 181.51L375.71 185.24L375.75 186.66L375.79 189.14L375.83 194.79L375.87 198.84L375.91 201.27L375.96 205.34L376.00 205.86L376.04 206.18L376.08 205.84L376.12 202.89L376.16 201.38L376.21 202.79L376.25 202.57L376.29 202.43L376.33 206.84L376.37 209.84L376.41 211.90L376.45 216.80L376.50 217.12L376.54 219.53L376.58 216.87L376.62 214.03L376.66 211.33L376.70 207.77L376.75 208.17L376.79 209.17L376.83 208.39L376.87 212.98L376.91 218.60L376.95 223.01L376.99 227.81L377.04 230.95L377.08 231.93L377.12 233.75L377.16 233.32L377.20 230.26L377.24 230.27L377.29 226.74L377.33 226.94L377.37 226.64L377.41 230.67L377.45 234.06L377.49 238.64L377.54 241.48L377.58 244.28L377.62 243.69L377.66 243.21L377.70 240.43L377.74 235.69L377.78 234.56L377.83 230.83L377.87 229.46L377.91 227.99L377.95 234.82L377.99 237.03L378.03 242.57L378.08 246.03L378.12 250.55L378.16 255.34L378.20 258.27L378.24 256.76L378.28 255.08L378.32 253.48L378.37 250.65L378.41 251.44L378.45 247.50L378.49 250.80L378.53 254.02L378.57 258.34L378.62 262.52L378.66 267.11L378.70 268.08L378.74 267.61L378.78 268.34L378.82 265.14L378.86 258.65L378.91 256.48L378.95 251.34L378.99 250.14L379.03 249.72L379.07 253.36L379.11 256.80L379.16 264.21L379.20 270.18L379.24 276.40L379.28 279.67L379.32 280.31L379.36 279.44L379.41 277.73L379.45 274.12L379.49 270.25L379.53 270.74L379.57 271.50L379.61 271.94L379.65 278.16L379.70 283.97L379.74 288.05L379.78 289.00L379.82 292.56L379.86 291.71L379.90 286.79L379.95 283.50L379.99 278.39L380.03 273.28L380.07 270.35L380.11 270.59L380.15 270.29L380.19 275.39L380.24 282.22L380.28 287.52L380.32 293.55L380.36 296.12L380.40 299.24L380.44 301.10L380.49 297.75L380.53 294.68L380.57 290.71L380.61 289.47L380.65 289.04L380.69 290.72L380.74 291.89L380.78 297.09L380.82 301.55L380.86 305.85L380.90 309.28L380.94 308.51L380.98 305.64L381.03 301.15L381.07 297.09L381.11 292.60L381.15 289.35L381.19 283.55L381.23 285.84L381.28 286.63L381.32 289.76L381.36 296.04L381.40 302.19L381.44 305.85L381.48 309.65L381.53 313.51L381.57 311.02L381.61 307.69L381.65 305.98L381.69 300.90L381.73 298.82L381.78 296.32L381.82 297.35L381.86 301.83L381.90 304.34L381.94 307.20L381.98 311.99L382.03 314.18L382.07 315.35L382.11 311.28L382.15 306.88L382.19 300.44L382.23 292.76L382.28 287.87L382.32 284.51L382.36 283.61L382.40 284.71L382.44 290.48L382.49 295.26L382.53 301.10L382.57 305.96L382.61 311.74L382.65 310.42L382.69 308.00L382.74 306.99L382.78 301.99L382.82 298.12L382.86 294.62L382.90 293.49L382.94 294.04L382.99 295.48L383.03 299.60L383.07 302.96L383.11 306.85L383.15 309.21L383.20 308.15L383.24 304.92L383.28 301.51L383.32 294.98L383.36 287.14L383.40 281.63L383.45 277.88L383.49 277.09L383.53 277.62L383.57 281.11L383.61 285.14L383.65 293.07L383.70 296.53L383.74 297.47L383.78 300.00L383.82 300.17L383.86 295.80L383.90 291.55L383.95 287.57L383.99 287.22L384.03 282.69L384.07 283.89L384.11 285.05L384.16 288.15L384.20 294.78L384.24 298.10L384.28 299.22L384.32 297.06L384.36 295.10L384.41 292.41L384.45 287.43L384.49 279.66L384.53 273.20L384.57 270.37L384.61 269.15L384.66 269.76L384.70 272.98L384.74 275.97L384.78 281.41L384.82 286.31L384.87 287.89L384.91 288.21L384.95 286.47L384.99 284.71L385.03 282.97L385.07 278.06L385.12 275.10L385.16 272.33L385.20 271.38L385.24 273.43L385.28 276.13L385.32 280.37L385.37 284.16L385.41 282.68L385.45 282.93L385.49 279.21L385.53 275.38L385.57 268.78L385.62 261.78L385.66 258.55L385.70 255.56L385.74 255.96L385.78 253.60L385.83 255.65L385.87 260.42L385.91 263.29L385.95 266.85L385.99 268.40L386.03 270.17L386.08 268.02L386.12 263.20L386.16 262.77L386.20 256.55L386.24 256.96L386.28 254.49L386.33 254.20L386.37 255.84L386.41 259.51L386.45 262.40L386.49 264.65L386.53 267.77L386.58 264.07L386.62 262.46L386.66 260.17L386.70 253.46L386.74 248.25L386.79 245.21L386.83 242.72L386.87 238.51L386.91 241.45L386.95 244.68L386.99 247.97L387.04 251.58L387.08 254.33L387.12 257.27L387.16 257.20L387.20 256.14L387.24 253.15L387.29 251.32L387.33 246.36L387.37 245.08L387.41 244.47L387.45 245.90L387.50 246.16L387.54 247.87L387.58 250.67L387.62 253.18L387.66 252.72L387.70 254.33L387.75 250.09L387.79 248.67L387.83 244.48L387.87 240.60L387.91 235.63L387.95 233.64L388.00 230.61L388.04 231.30L388.08 233.88L388.12 236.71L388.16 239.85L388.20 240.05L388.25 241.19L388.29 242.89L388.33 238.35L388.37 240.39L388.41 234.80L388.46 233.98L388.50 229.71L388.54 228.57L388.58 229.74L388.62 230.81L388.66 231.07L388.71 232.45L388.75 233.73L388.79 233.22L388.83 233.66L388.87 231.90L388.91 228.86L388.96 227.24L389.00 220.03L389.04 214.74L389.08 216.29L389.12 211.91L389.17 212.76L389.21 212.64L389.25 213.27L389.29 215.28L389.33 217.11L389.37 220.29L389.42 219.48L389.46 219.11L389.50 218.18L389.54 213.34L389.58 212.25L389.62 209.01L389.67 206.70L389.71 206.94L389.75 209.12L389.79 207.65L389.83 210.84L389.87 212.27L389.92 211.78L389.96 212.22L390.00 212.72L390.04 209.25L390.08 207.33L390.12 205.24L390.17 204.30L390.21 202.55L390.25 203.14L390.29 203.93L390.33 207.61L390.38 209.98L390.42 212.32L390.46 217.46L390.50 220.24L390.54 223.60L390.58 224.66L390.62 225.86L390.67 223.95L390.71 224.16L390.75 222.59L390.79 221.16L390.83 222.61L390.88 226.76L390.92 228.84L390.96 231.37L391.00 234.92L391.04 237.98L391.08 238.86L391.12 240.36L391.17 239.71L391.21 237.54L391.25 234.67L391.29 233.23L391.33 229.88L391.38 230.13L391.42 231.59L391.46 233.12L391.50 237.53L391.54 243.45L391.58 247.12L391.62 253.05L391.67 254.23L391.71 256.70L391.75 255.78L391.79 255.43L391.83 254.83L391.88 253.10L391.92 251.63L391.96 254.41L392.00 258.02L392.04 259.31L392.08 266.49L392.12 270.93L392.17 274.00L392.21 276.51L392.25 276.51L392.29 275.82L392.33 270.97L392.38 268.39L392.42 265.71L392.46 263.42L392.50 262.48L392.54 264.28L392.58 269.96L392.62 274.73L392.67 281.40L392.71 285.73L392.75 288.90L392.79 292.63L392.83 292.28L392.88 293.37L392.92 290.18L392.96 290.33L393.00 287.10L393.04 288.74L393.08 289.24L393.12 291.86L393.17 298.97L393.21 304.56L393.25 308.04L393.29 309.45L393.33 311.52L393.38 312.84L393.42 308.10L393.46 304.30L393.50 300.54L393.54 294.41L393.58 291.15L393.62 292.33L393.67 291.18L393.71 295.66L393.75 301.31L393.79 306.60L393.83 310.59L393.88 315.62L393.92 320.08L393.96 318.27L394.00 317.86L394.04 313.94L394.08 310.91L394.12 308.44L394.17 307.94L394.21 309.22L394.25 311.30L394.29 314.86L394.33 321.87L394.38 325.74L394.42 328.78L394.46 330.14L394.50 329.03L394.54 327.58L394.58 319.68L394.62 314.75L394.67 306.93L394.71 302.28L394.75 303.63L394.79 305.00L394.83 308.45L394.88 313.48L394.92 318.57L394.96 324.40L395.00 328.20L395.04 333.88L395.08 334.53L395.12 328.91L395.17 324.84L395.21 323.96L395.25 320.07L395.29 319.97L395.33 319.26L395.38 323.77L395.42 326.81L395.46 334.47L395.50 339.43L395.54 339.79L395.58 339.86L395.62 337.97L395.67 335.91L395.71 327.56L395.75 321.45L395.79 316.72L395.83 311.76L395.88 312.84L395.92 312.02L395.96 314.81L396.00 321.51L396.04 327.60L396.08 331.67L396.12 335.20L396.17 334.21L396.21 336.31L396.25 333.19L396.29 329.20L396.33 323.44L396.38 321.75L396.42 320.19L396.46 321.70L396.50 323.10L396.54 326.56L396.58 332.19L396.62 335.11L396.67 336.99L396.71 340.25L396.75 337.17L396.79 331.55L396.83 326.62L396.88 320.46L396.92 315.24L396.96 307.44L397.00 306.57L397.04 307.19L397.08 310.31L397.12 313.79L397.17 320.45L397.21 326.25L397.25 328.50L397.29 328.04L397.33 329.40L397.38 327.18L397.42 324.19L397.46 319.46L397.50 315.64L397.54 312.69L397.58 314.26L397.62 317.27L397.67 319.99L397.71 325.30L397.75 329.18L397.79 333.78L397.83 334.58L397.88 333.30L397.92 331.56L397.96 324.96L398.00 320.54L398.04 311.19L398.08 306.90L398.12 304.32L398.17 304.64L398.21 305.29L398.25 308.40L398.29 315.35L398.33 319.23L398.38 322.47L398.42 324.33L398.46 322.98L398.50 323.79L398.54 319.14L398.58 313.78L398.62 312.37L398.67 310.97L398.71 311.08L398.75 313.74L398.79 316.11L398.83 319.73L398.88 324.11L398.92 327.35L398.96 328.41L399.00 327.50L399.04 321.23L399.08 316.18L399.12 311.36L399.17 304.42L399.21 301.03L399.25 297.05L399.29 297.38L399.33 298.88L399.38 302.05L399.42 305.22L399.46 310.22L399.50 311.16L399.54 313.82L399.58 312.85L399.62 308.93L399.67 307.41L399.71 301.44L399.75 298.51L399.79 299.47L399.83 297.78L399.88 300.05L399.92 304.32L399.96 306.07L400.00 312.12L400.04 313.53L400.08 311.92L400.12 312.97L400.17 308.77L400.21 305.61L400.25 300.03L400.29 295.48L400.33 287.90L400.38 287.66L400.42 284.92L400.46 287.01L400.50 290.71L400.54 294.64L400.58 296.03L400.62 301.03L400.67 303.56L400.71 301.58L400.75 300.61L400.79 299.79L400.83 294.22L400.88 292.99L400.92 288.60L400.96 290.83L401.00 291.12L401.04 294.85L401.08 299.04L401.12 302.23L401.17 303.36L401.21 304.64L401.25 302.07L401.29 302.12L401.33 296.58L401.38 291.86L401.42 287.13L401.46 283.59L401.50 278.16L401.54 277.53L401.58 277.54L401.62 281.65L401.67 283.15L401.71 285.13L401.75 288.70L401.79 290.56L401.83 289.66L401.88 287.38L401.92 284.32L401.96 281.41L402.00 279.10L402.04 275.45L402.08 273.34L402.12 275.11L402.17 278.02L402.21 278.64L402.25 280.73L402.29 283.97L402.33 283.87L402.38 282.52L402.42 276.98L402.46 274.18L402.50 269.69L402.54 263.80L402.58 258.68L402.62 256.34L402.67 255.13L402.71 253.61L402.75 254.73L402.79 255.73L402.83 258.20L402.88 261.16L402.92 260.98L402.96 259.85L403.00 257.91L403.04 258.15L403.08 253.01L403.12 252.67L403.17 250.66L403.21 247.13L403.25 249.07L403.29 247.49L403.33 250.39L403.38 253.66L403.42 254.08L403.46 255.51L403.50 254.96L403.54 254.64L403.58 252.11L403.62 246.33L403.67 244.12L403.71 239.62L403.75 238.38L403.79 234.74L403.83 236.33L403.88 235.53L403.92 239.43L403.96 241.92L404.00 243.99L404.04 245.42L404.08 248.60L404.12 244.16L404.17 242.60L404.21 240.03L404.25 237.84L404.29 237.67L404.33 237.56L404.38 238.72L404.42 238.67L404.46 243.34L404.50 245.96L404.54 247.55L404.58 249.23L404.62 247.33L404.67 247.09L404.71 246.07L404.75 241.56L404.79 238.63L404.83 234.80L404.88 232.17L404.92 229.85L404.96 231.14L405.00 232.59L405.04 236.80L405.08 241.50L405.12 246.34L405.17 247.05L405.21 249.68L405.25 250.02L405.29 250.97L405.33 252.23L405.38 250.33L405.42 249.83L405.46 251.32L405.50 255.03L405.54 257.14L405.58 260.78L405.62 266.48L405.67 271.43L405.71 273.35L405.75 275.03L405.79 275.93L405.83 275.26L405.88 273.47L405.92 270.00L405.96 270.40L406.00 266.40L406.04 268.60L406.08 270.74L406.12 275.96L406.17 277.89L406.21 282.92L406.25 286.48L406.29 287.73L406.33 290.34L406.38 289.66L406.42 287.98L406.46 286.36L406.50 285.40L406.54 286.51L406.58 290.23L406.62 292.51L406.67 296.04L406.71 301.71L406.75 306.64L406.79 309.52L406.83 313.21L406.88 312.77L406.92 312.62L406.96 307.92L407.00 306.10L407.04 300.70L407.08 301.80L407.12 299.31L407.17 300.81L407.21 303.67L407.25 307.34L407.29 312.52L407.33 315.09L407.38 317.02L407.42 319.74L407.46 319.03L407.50 319.14L407.54 317.34L407.58 314.65L407.62 313.65L407.67 313.43L407.71 314.94L407.75 319.47L407.79 324.85L407.83 330.09L407.88 336.90L407.92 340.33L407.96 339.82L408.00 341.68L408.04 337.24L408.08 337.93L408.12 331.54L408.17 325.35L408.21 322.85L408.25 321.06L408.29 325.56L408.33 326.21L408.38 331.53L408.42 337.43L408.46 339.49L408.50 343.21L408.54 343.05L408.58 342.45L408.62 338.94L408.67 337.97L408.71 334.51L408.75 335.77L408.79 337.30L408.83 338.95L408.88 345.09L408.92 350.29L408.96 358.30L409.00 362.07L409.04 364.74L409.08 365.27L409.12 363.15L409.17 360.29L409.21 354.62L409.25 349.54L409.29 346.00L409.33 342.79L409.38 341.15L409.42 344.88L409.46 347.30L409.50 354.91L409.54 357.06L409.58 361.49L409.62 362.43L409.67 363.15L409.71 360.67L409.75 356.59L409.79 354.69L409.83 350.95L409.88 350.19L409.92 350.62L409.96 355.02L410.00 359.62L410.04 367.17L410.08 371.55L410.12 374.67L410.17 379.25L410.21 378.35L410.25 376.46L410.29 368.93L410.33 361.96L410.38 356.49L410.42 351.15L410.46 348.67L410.50 349.89L410.54 352.42L410.58 356.82L410.62 359.37L410.67 361.26L410.71 366.61L410.75 366.55L410.79 363.05L410.83 361.77L410.88 355.05L410.92 351.57L410.96 350.56L411.00 346.96L411.04 348.51L411.08 353.72L411.12 358.70L411.17 362.57L411.21 369.98L411.25 370.71L411.29 374.90L411.33 373.09L411.38 368.25L411.42 362.66L411.46 357.97L411.50 351.22L411.54 346.82L411.58 344.08L411.62 344.18L411.67 342.39L411.71 346.88L411.75 350.58L411.79 354.81L411.83 356.79L411.88 359.55L411.92 359.25L411.96 354.54L412.00 349.82L412.04 345.61L412.08 341.65L412.12 340.12L412.17 341.26L412.21 345.04L412.25 351.79L412.29 357.71L412.33 361.97L412.38 364.90L412.42 368.20L412.46 367.93L412.50 363.18L412.54 354.56L412.58 349.90L412.62 342.65L412.67 339.84L412.71 335.69L412.75 335.07L412.79 340.01L412.83 343.13L412.88 348.14L412.92 350.05L412.96 351.17L413.00 350.74L413.04 347.75L413.08 344.38L413.12 340.18L413.17 336.20L413.21 332.84L413.25 333.26L413.29 332.35L413.33 338.30L413.38 344.63L413.42 347.65L413.46 352.44L413.50 355.01L413.54 355.08L413.58 351.25L413.62 349.72L413.67 344.54L413.71 338.68L413.75 333.29L413.79 330.17L413.83 329.09L413.88 329.06L413.92 332.71L413.96 334.96L414.00 339.25L414.04 340.53L414.08 342.25L414.12 338.87L414.17 337.23L414.21 335.75L414.25 331.16L414.29 328.66L414.33 327.11L414.38 326.07L414.42 327.35L414.46 331.41L414.50 336.37L414.54 340.86L414.58 344.05L414.62 347.45L414.67 347.61L414.71 344.98L414.75 341.15L414.79 334.47L414.83 331.04L414.88 327.63L414.92 324.56L414.96 324.11L415.00 326.22L415.04 328.38L415.08 329.92L415.12 332.67L415.17 335.81L415.21 335.30L415.25 334.40L415.29 332.74L415.33 329.12L415.38 324.89L415.42 321.85L415.46 319.25L415.50 319.36L415.54 322.61L415.58 326.97L415.62 331.44L415.67 334.48L415.71 337.26L415.75 338.72L415.79 338.17L415.83 336.16L415.88 328.44L415.92 326.92L415.96 320.57L416.00 316.63L416.04 313.98L416.08 313.44L416.12 314.12L416.17 315.90L416.21 316.31L416.25 318.29L416.29 319.83L416.33 321.03L416.38 316.59L416.42 313.25L416.46 311.88L416.50 304.90L416.54 304.75L416.58 303.29L416.62 303.86L416.67 304.89L416.71 309.27L416.75 312.77L416.79 315.59L416.83 316.60L416.88 316.46L416.92 313.13L416.96 312.50L417.00 309.06L417.04 303.41L417.08 298.92L417.12 294.85L417.17 292.87L417.21 293.38L417.25 295.42L417.29 294.36L417.33 294.69L417.38 298.30L417.42 298.93L417.46 298.20L417.50 295.77L417.54 292.12L417.58 286.60L417.62 286.15L417.67 282.66L417.71 282.38L417.75 281.43L417.79 283.61L417.83 286.47L417.88 289.24L417.92 291.88L417.96 292.49L418.00 293.55L418.04 291.78L418.08 290.03L418.12 286.21L418.17 280.94L418.21 276.10L418.25 276.82L418.29 272.30L418.33 274.66L418.38 274.05L418.42 274.79L418.46 278.76L418.50 277.85L418.54 277.29L418.58 274.95L418.62 271.59L418.67 270.41L418.71 266.91L418.75 262.63L418.79 263.61L418.83 260.31L418.88 259.96L418.92 264.15L418.96 265.63L419.00 270.15L419.04 273.06L419.08 275.18L419.12 272.43L419.17 272.03L419.21 267.74L419.25 265.64L419.29 261.53L419.33 255.91L419.38 254.65L419.42 253.54L419.46 254.21L419.50 252.65L419.54 256.47L419.58 258.83L419.62 263.05L419.67 263.40L419.71 262.94L419.75 263.26L419.79 262.82L419.83 261.76L419.88 258.58L419.92 256.39L419.96 260.37L420.00 261.95L420.04 265.95L420.08 270.78L420.12 274.72L420.17 280.57L420.21 284.19L420.25 285.39L420.29 285.23L420.33 284.53L420.38 282.37L420.42 279.31L420.46 278.23L420.50 278.96L420.54 277.18L420.58 279.15L420.62 283.68L420.67 286.10L420.71 290.10L420.75 295.52L420.79 296.00L420.83 294.98L420.88 295.40L420.92 293.68L420.96 293.86L421.00 292.67L421.04 291.98L421.08 293.31L421.12 296.51L421.17 299.80L421.21 304.90L421.25 309.54L421.29 315.45L421.33 318.49L421.38 319.83L421.42 322.95L421.46 319.93L421.50 320.03L421.54 318.05L421.58 313.54L421.62 312.65L421.67 314.12L421.71 315.42L421.75 316.09L421.79 320.94L421.83 324.81L421.88 328.20L421.92 330.11L421.96 331.60L422.00 330.29L422.04 329.97L422.08 328.57L422.12 326.69L422.17 326.20L422.21 324.65L422.25 327.67L422.29 330.08L422.33 335.48L422.38 340.67L422.42 346.14L422.46 350.80L422.50 354.29L422.54 352.54L422.58 351.91L422.62 349.99L422.67 347.86L422.71 343.92L422.75 343.03L422.79 340.33L422.83 341.28L422.88 345.65L422.92 346.88L422.96 352.73L423.00 355.68L423.04 358.40L423.08 359.66L423.12 358.31L423.17 354.81L423.21 351.10L423.25 348.83L423.29 346.54L423.33 349.04L423.38 349.80L423.42 353.88L423.46 362.18L423.50 368.65L423.54 373.29L423.58 379.44L423.62 383.57L423.67 382.05L423.71 379.96L423.75 375.47L423.79 371.38L423.83 369.39L423.88 366.92L423.92 365.66L423.96 367.52L424.00 371.13L424.04 373.40L424.08 377.60L424.12 381.32L424.17 386.34L424.21 386.27L424.25 385.47L424.29 378.24L424.33 375.16L424.38 374.03L424.42 371.11L424.46 368.60L424.50 371.14L424.54 378.03L424.58 382.58L424.62 390.76L424.67 397.54L424.71 403.26L424.75 404.60L424.79 406.59L424.83 405.60L424.88 400.35L424.92 394.84L424.96 389.67L425.00 386.36L425.04 384.26L425.08 385.34L425.12 387.89L425.17 391.06L425.21 397.54L425.25 399.13L425.29 398.64L425.33 399.52L425.38 395.71L425.42 394.06L425.46 387.11L425.50 384.81L425.54 382.08L425.58 382.07L425.62 380.37L425.67 385.19L425.71 392.54L425.75 397.75L425.79 401.06L425.83 407.15L425.88 405.62L425.92 406.69L425.96 402.27L426.00 395.70L426.04 390.86L426.08 384.32L426.12 381.52L426.17 378.94L426.21 381.02L426.25 382.67L426.29 385.38L426.33 388.39L426.38 390.67L426.42 390.74L426.46 389.47L426.50 388.40L426.54 381.35L426.58 376.10L426.62 371.94L426.67 368.48L426.71 367.49L426.75 369.34L426.79 373.77L426.83 377.72L426.88 385.46L426.92 388.08L426.96 393.29L427.00 394.01L427.04 392.85L427.08 389.13L427.12 384.70L427.17 377.86L427.21 373.33L427.25 368.70L427.29 367.56L427.33 368.05L427.38 372.79L427.42 374.26L427.46 378.56L427.50 379.92L427.54 380.46L427.58 378.89L427.62 374.85L427.67 370.07L427.71 365.45L427.75 362.66L427.79 357.38L427.83 356.31L427.88 361.54L427.92 364.29L427.96 370.84L428.00 377.16L428.04 382.33L428.08 385.34L428.12 388.36L428.17 386.90L428.21 381.96L428.25 376.96L428.29 372.60L428.33 368.24L428.38 365.50L428.42 362.18L428.46 364.12L428.50 365.58L428.54 368.96L428.58 373.51L428.62 374.34L428.67 375.57L428.71 375.41L428.75 372.29L428.79 367.87L428.83 363.48L428.88 357.58L428.92 357.88L428.96 356.46L429.00 357.40L429.04 362.72L429.08 367.86L429.12 370.75L429.17 375.45L429.21 378.99L429.25 380.24L429.29 379.17L429.33 374.22L429.38 369.68L429.42 365.37L429.46 359.91L429.50 358.96L429.54 354.82L429.58 358.74L429.62 359.19L429.67 360.69L429.71 362.68L429.75 366.11L429.79 367.11L429.83 362.58L429.88 360.47L429.92 355.37L429.96 352.54L430.00 345.03L430.04 342.25L430.08 342.21L430.12 340.38L430.17 345.33L430.21 349.38L430.25 353.11L430.29 356.65L430.33 360.86L430.38 360.39L430.42 358.30L430.46 354.11L430.50 349.67L430.54 344.75L430.58 340.85L430.62 337.08L430.67 334.79L430.71 333.78L430.75 339.62L430.79 343.28L430.83 342.97L430.88 341.52L430.92 340.53L430.96 340.05L431.00 335.46L431.04 331.59L431.08 327.34L431.12 325.32L431.17 322.28L431.21 322.32L431.25 324.29L431.29 325.91L431.33 330.04L431.38 335.97L431.42 336.22L431.46 339.69L431.50 340.19L431.54 336.49L431.58 333.68L431.62 330.34L431.67 325.90L431.71 323.93L431.75 317.13L431.79 319.66L431.83 319.31L431.88 319.34L431.92 322.48L431.96 323.45L432.00 324.18L432.04 323.68L432.08 322.08L432.12 320.49L432.17 317.51L432.21 311.54L432.25 308.81L432.29 307.64L432.33 307.05L432.38 308.05L432.42 310.03L432.46 314.02L432.50 315.98L432.54 320.62L432.58 319.97L432.62 319.41L432.67 318.55L432.71 316.60L432.75 313.34L432.79 309.84L432.83 306.85L432.88 301.87L432.92 301.92L432.96 300.83L433.00 303.14L433.04 304.55L433.08 305.16L433.12 307.09L433.17 305.16L433.21 304.40L433.25 300.24L433.29 297.71L433.33 294.40L433.38 292.96L433.42 289.54L433.46 290.21L433.50 289.11L433.54 292.61L433.58 294.23L433.62 297.53L433.67 298.85L433.71 301.30L433.75 300.51L433.79 299.04L433.83 295.95L433.88 295.57L433.92 291.60L433.96 289.19L434.00 287.60L434.04 285.21L434.08 285.68L434.12 286.09L434.17 286.38L434.21 286.89L434.25 288.63L434.29 289.02L434.33 286.25L434.38 284.88L434.42 280.81L434.46 281.15L434.50 275.05L434.54 274.85L434.58 277.16L434.62 277.86L434.67 282.72L434.71 286.11L434.75 288.26L434.79 290.00L434.83 294.22L434.88 295.92L434.92 297.94L434.96 295.07L435.00 296.19L435.04 293.45L435.08 290.95L435.12 292.34L435.17 292.14L435.21 293.02L435.25 295.27L435.29 298.49L435.33 301.48L435.38 302.46L435.42 305.13L435.46 302.71L435.50 304.04L435.54 298.74L435.58 299.86L435.62 296.65L435.67 295.95L435.71 294.96L435.75 299.27L435.79 299.42L435.83 303.61L435.88 308.80L435.92 314.59L435.96 314.77L436.00 319.88L436.04 316.72L436.08 315.79L436.12 316.00L436.17 311.98L436.21 311.61L436.25 309.07L436.29 309.41L436.33 309.46L436.38 314.85L436.42 316.23L436.46 321.39L436.50 321.73L436.54 322.06L436.58 322.77L436.62 320.70L436.67 319.51L436.71 315.15L436.75 313.23L436.79 311.59L436.83 313.84L436.88 316.12L436.92 317.99L436.96 324.26L437.00 327.98L437.04 332.23L437.08 337.88L437.12 338.37L437.17 338.63L437.21 338.23L437.25 334.49L437.29 335.28L437.33 331.39L437.38 331.14L437.42 331.85L437.46 335.25L437.50 336.84L437.54 339.45L437.58 342.87L437.62 347.05L437.67 349.89L437.71 348.29L437.75 346.94L437.79 342.45L437.83 340.81L437.88 340.73L437.92 338.69L437.96 338.15L438.00 339.20L438.04 345.79L438.08 347.35L438.12 357.69L438.17 360.61L438.21 363.56L438.25 368.38L438.29 370.19L438.33 369.86L438.38 365.99L438.42 364.15L438.46 363.65L438.50 363.36L438.54 362.14L438.58 363.37L438.62 368.29L438.67 370.09L438.71 375.70L438.75 378.86L438.79 380.33L438.83 380.85L438.88 375.26L438.92 372.88L438.96 368.25L439.00 363.94L439.04 362.18L439.08 362.99L439.12 364.76L439.17 370.82L439.21 377.35L439.25 382.76L439.29 388.15L439.33 393.88L439.38 396.72L439.42 395.16L439.46 393.58L439.50 390.23L439.54 386.96L439.58 384.10L439.62 382.27L439.67 383.06L439.71 383.93L439.75 388.56L439.79 392.75L439.83 398.15L439.88 401.96L439.92 399.34L439.96 400.28L440.00 396.85L440.04 389.95L440.08 386.97L440.12 381.48L440.17 380.22L440.21 377.88L440.25 380.86L440.29 386.94L440.33 393.20L440.38 399.99L440.42 405.70L440.46 410.88L440.50 412.40L440.54 413.63L440.58 410.58L440.62 406.07L440.67 400.88L440.71 400.62L440.75 397.19L440.79 396.48L440.83 397.05L440.88 402.67L440.92 405.99L440.96 412.08L441.00 412.74L441.04 412.63L441.08 413.49L441.12 411.03L441.17 406.48L441.21 398.29L441.25 394.26L441.29 391.51L441.33 389.40L441.38 393.35L441.42 395.98L441.46 401.44L441.50 411.89L441.54 415.11L441.58 421.18L441.62 422.75L441.67 421.69L441.71 420.40L441.75 417.09L441.79 410.96L441.83 407.58L441.88 405.11L441.92 404.20L441.96 405.62L442.00 409.54L442.04 413.14L442.08 416.87L442.12 421.11L442.17 420.79L442.21 417.34L442.25 414.05L442.29 408.07L442.33 401.09L442.38 394.65L442.42 394.02L442.46 391.58L442.50 393.97L442.54 397.60L442.58 403.24L442.62 409.34L442.67 415.25L442.71 418.35L442.75 420.61L442.79 416.57L442.83 415.81L442.88 408.04L442.92 405.11L442.96 402.44L443.00 397.61L443.04 398.68L443.08 400.77L443.12 400.51L443.17 406.24L443.21 407.62L443.25 408.97L443.29 409.38L443.33 405.71L443.38 401.19L443.42 395.89L443.46 390.02L443.50 383.06L443.54 381.43L443.58 379.11L443.62 380.24L443.67 381.34L443.71 388.13L443.75 393.43L443.79 397.77L443.83 401.22L443.88 402.46L443.92 401.87L443.96 396.39L444.00 393.40L444.04 387.10L444.08 384.05L444.12 380.51L444.17 380.85L444.21 380.36L444.25 382.03L444.29 385.85L444.33 389.07L444.38 389.65L444.42 389.67L444.46 388.34L444.50 383.28L444.54 376.22L444.58 369.78L444.62 365.28L444.67 360.80L444.71 361.20L444.75 361.41L444.79 364.94L444.83 369.76L444.88 375.02L444.92 379.77L444.96 382.17L445.00 380.99L445.04 381.66L445.08 378.73L445.12 373.87L445.17 367.62L445.21 366.19L445.25 363.67L445.29 363.98L445.33 364.94L445.38 371.49L445.42 373.67L445.46 374.54L445.50 375.61L445.54 371.83L445.58 369.55L445.62 366.48L445.67 358.15L445.71 357.10L445.75 352.17L445.79 351.65L445.83 350.04L445.88 351.89L445.92 356.18L445.96 359.44L446.00 363.88L446.04 366.78L446.08 368.19L446.12 369.07L446.17 367.76L446.21 363.84L446.25 361.15L446.29 357.53L446.33 354.36L446.38 355.56L446.42 356.71L446.46 357.38L446.50 358.20L446.54 362.58L446.58 365.82L446.62 363.91L446.67 361.67L446.71 358.73L446.75 354.99L446.79 346.49L446.83 343.08L446.88 340.26L446.92 336.67L446.96 340.41L447.00 341.36L447.04 345.40L447.08 348.89L447.12 349.45L447.17 352.72L447.21 350.95L447.25 350.72L447.29 347.44L447.33 346.02L447.38 340.30L447.42 339.10L447.46 337.20L447.50 337.27L447.54 340.46L447.58 342.27L447.62 343.80L447.67 345.64L447.71 344.13L447.75 345.11L447.79 340.76L447.83 336.96L447.88 331.24L447.92 329.29L447.96 323.09L448.00 320.28L448.04 320.45L448.08 321.08L448.12 321.95L448.17 324.46L448.21 327.81L448.25 329.03L448.29 330.11L448.33 329.22L448.38 326.79L448.42 324.88L448.46 320.37L448.50 317.81L448.54 316.54L448.58 315.35L448.62 316.12L448.67 317.98L448.71 318.92L448.75 321.65L448.79 320.68L448.83 320.97L448.88 319.02L448.92 317.42L448.96 314.34L449.00 308.07L449.04 304.04L449.08 299.27L449.12 299.57L449.17 300.18L449.21 298.85L449.25 300.28L449.29 303.73L449.33 305.25L449.38 304.73L449.42 305.35L449.46 303.71L449.50 303.77L449.54 300.02L449.58 298.94L449.62 300.17L449.67 300.50L449.71 301.51L449.75 304.85L449.79 306.42L449.83 308.92L449.88 315.37L449.92 317.07L449.96 316.98L450.00 319.18L450.04 316.50L450.08 314.71L450.12 312.35L450.17 310.37L450.21 310.87L450.25 308.72L450.29 312.19L450.33 315.97L450.38 317.42L450.42 321.45L450.46 324.52L450.50 328.79L450.54 330.38L450.58 328.95L450.62 328.65L450.67 327.36L450.71 327.18L450.75 327.69L450.79 327.63L450.83 329.86L450.88 331.69L450.92 336.92L450.96 341.37L451.00 344.59L451.04 347.38L451.08 348.57L451.12 347.05L451.17 344.81L451.21 343.41L451.25 338.69L451.29 338.13L451.33 335.03L451.38 335.30L451.42 334.17L451.46 339.19L451.50 340.95L451.54 346.75L451.58 351.11L451.62 355.60L451.67 355.95L451.71 358.96L451.75 355.81L451.79 354.06L451.83 353.93L451.88 348.92L451.92 351.77L451.96 355.66L452.00 356.23L452.04 361.19L452.08 365.16L452.12 368.85L452.17 374.09L452.21 374.19L452.25 373.32L452.29 369.56L452.33 366.33L452.38 362.43L452.42 357.83L452.46 358.30L452.50 355.64L452.54 359.31L452.58 364.02L452.62 370.23L452.67 372.74L452.71 378.91L452.75 379.43L452.79 379.16L452.83 378.82L452.88 376.54L452.92 374.73L452.96 372.79L453.00 371.51L453.04 375.24L453.08 377.05L453.12 382.15L453.17 387.55L453.21 394.08L453.25 395.69L453.29 399.60L453.33 399.48L453.38 397.77L453.42 391.34L453.46 386.37L453.50 381.22L453.54 376.91L453.58 377.68L453.62 377.27L453.67 379.85L453.71 385.22L453.75 391.46L453.79 394.84L453.83 396.19L453.88 401.99L453.92 399.83L453.96 397.24L454.00 395.69L454.04 391.77L454.08 390.93L454.12 390.48L454.17 390.87L454.21 394.99L454.25 399.41L454.29 405.55L454.33 410.72L454.38 415.60L454.42 419.26L454.46 417.62L454.50 416.17L454.54 411.26L454.58 406.16L454.62 399.10L454.67 396.91L454.71 394.45L454.75 394.81L454.79 398.61L454.83 399.61L454.88 407.59L454.92 411.34L454.96 415.40L455.00 418.57L455.04 417.72L455.08 415.89L455.12 413.66L455.17 409.50L455.21 408.47L455.25 407.69L455.29 409.19L455.33 413.54L455.38 419.51L455.42 425.69L455.46 431.07L455.50 435.54L455.54 437.75L455.58 436.80L455.62 432.67L455.67 428.32L455.71 422.92L455.75 413.48L455.79 409.50L455.83 407.45L455.88 409.29L455.92 409.44L455.96 413.76L456.00 418.70L456.04 424.82L456.08 426.78L456.12 429.36L456.17 429.19L456.21 427.02L456.25 422.50L456.29 420.21L456.33 416.73L456.38 413.78L456.42 414.37L456.46 414.82L456.50 418.83L456.54 423.95L456.58 430.27L456.62 433.23L456.67 435.99L456.71 435.37L456.75 431.86L456.79 425.93L456.83 418.68L456.88 412.05L456.92 406.60L456.96 403.43L457.00 400.73L457.04 402.19L457.08 403.80L457.12 408.89L457.17 412.22L457.21 413.76L457.25 417.85L457.29 417.96L457.33 415.72L457.38 414.43L457.42 410.18L457.46 403.90L457.50 400.56L457.54 398.65L457.58 400.92L457.62 404.95L457.67 408.47L457.71 412.50L457.75 414.97L457.79 419.04L457.83 419.21L457.88 416.46L457.92 411.91L457.96 405.52L458.00 399.32L458.04 392.85L458.08 389.76L458.12 386.05L458.17 387.75L458.21 388.52L458.25 394.08L458.29 397.31L458.33 400.43L458.38 404.60L458.42 404.66L458.46 402.90L458.50 401.56L458.54 398.11L458.58 394.14L458.62 391.12L458.67 389.66L458.71 392.30L458.75 392.37L458.79 397.33L458.83 401.99L458.88 406.93L458.92 408.10L458.96 410.09L459.00 407.85L459.04 402.50L459.08 396.46L459.12 388.31L459.17 386.37L459.21 382.10L459.25 381.44L459.29 380.00L459.33 382.30L459.38 385.62L459.42 390.66L459.46 393.27L459.50 395.43L459.54 397.92L459.58 396.48L459.62 396.53L459.67 389.83L459.71 386.69L459.75 383.90L459.79 384.03L459.83 382.69L459.88 386.38L459.92 390.32L459.96 395.07L460.00 398.15L460.04 397.83L460.08 398.53L460.12 400.19L460.17 394.38L460.21 388.97L460.25 383.83L460.29 381.20L460.33 376.23L460.38 371.71L460.42 371.79L460.46 373.77L460.50 377.38L460.54 381.12L460.58 385.40L460.62 386.36L460.67 386.73L460.71 385.59L460.75 383.97L460.79 379.53L460.83 374.20L460.88 373.31L460.92 371.24L460.96 373.47L461.00 374.60L461.04 378.45L461.08 381.11L461.12 385.08L461.17 385.69L461.21 388.25L461.25 385.91L461.29 383.79L461.33 378.60L461.38 372.15L461.42 368.11L461.46 363.40L461.50 363.58L461.54 361.84L461.58 360.09L461.62 363.21L461.67 365.84L461.71 366.72L461.75 369.41L461.79 370.36L461.83 368.41L461.88 366.56L461.92 361.83L461.96 358.52L462.00 356.98L462.04 355.13L462.08 354.71L462.12 353.80L462.17 356.22L462.21 361.54L462.25 361.80L462.29 363.30L462.33 362.25L462.38 361.28L462.42 357.04L462.46 352.99L462.50 349.00L462.54 341.40L462.58 340.34L462.62 336.90L462.67 334.03L462.71 333.83L462.75 333.75L462.79 336.52L462.83 337.35L462.88 342.11L462.92 341.36L462.96 338.88L463.00 337.60L463.04 333.46L463.08 329.24L463.12 329.38L463.17 326.88L463.21 325.27L463.25 324.51L463.29 326.35L463.33 328.69L463.38 330.32L463.42 331.86L463.46 333.10L463.50 332.16L463.54 332.38L463.58 325.87L463.62 323.57L463.67 317.31L463.71 314.40L463.75 311.51L463.79 311.86L463.83 311.41L463.88 310.98L463.92 314.27L463.96 316.18L464.00 317.15L464.04 316.32L464.08 315.00L464.12 316.10L464.17 311.35L464.21 307.17L464.25 310.09L464.29 306.46L464.33 303.65L464.38 305.62L464.42 308.46L464.46 310.07L464.50 311.99L464.54 314.37L464.58 317.21L464.62 317.54L464.67 317.32L464.71 313.63L464.75 314.96L464.79 309.75L464.83 307.79L464.88 308.83L464.92 308.83L464.96 309.63L465.00 314.33L465.04 318.16L465.08 320.42L465.12 322.08L465.17 323.40L465.21 324.83L465.25 324.78L465.29 324.66L465.33 322.14L465.38 322.13L465.42 321.46L465.46 322.01L465.50 322.91L465.54 328.35L465.58 329.43L465.62 333.69L465.67 336.17L465.71 338.22L465.75 339.88L465.79 339.76L465.83 336.19L465.88 332.81L465.92 331.43L465.96 328.55L466.00 326.91L466.04 326.14L466.08 328.75L466.12 331.45L466.17 332.91L466.21 339.52L466.25 340.65L466.29 343.36L466.33 340.49L466.38 343.19L466.42 339.31L466.46 335.81L466.50 335.57L466.54 335.53L466.58 337.19L466.62 342.30L466.67 346.55L466.71 348.01L466.75 352.93L466.79 357.43L466.83 359.45L466.88 361.28L466.92 359.52L466.96 355.48L467.00 353.35L467.04 348.83L467.08 345.52L467.12 344.96L467.17 344.84L467.21 349.19L467.25 350.85L467.29 353.94L467.33 361.04L467.38 363.12L467.42 367.15L467.46 364.98L467.50 366.60L467.54 362.98L467.58 360.15L467.62 361.25L467.67 359.55L467.71 360.23L467.75 365.93L467.79 368.24L467.83 376.61L467.88 381.26L467.92 386.39L467.96 389.16L468.00 388.87L468.04 387.16L468.08 384.97L468.12 380.18L468.17 373.91L468.21 371.58L468.25 371.14L468.29 370.65L468.33 371.25L468.38 377.48L468.42 380.64L468.46 386.67L468.50 392.15L468.54 393.66L468.58 394.91L468.62 393.73L468.67 391.10L468.71 386.70L468.75 384.28L468.79 385.12L468.83 387.89L468.88 390.25L468.92 395.96L468.96 402.78L469.00 409.62L469.04 414.15L469.08 417.21L469.12 416.58L469.17 412.96L469.21 407.30L469.25 402.39L469.29 397.71L469.33 394.01L469.38 394.02L469.42 394.65L469.46 397.49L469.50 401.31L469.54 405.30L469.58 410.46L469.62 414.83L469.67 412.00L469.71 412.46L469.75 407.16L469.79 405.96L469.83 402.47L469.88 400.10L469.92 400.65L469.96 400.84L470.00 406.13L470.04 411.21L470.08 417.75L470.12 421.68L470.17 425.30L470.21 428.75L470.25 426.21L470.29 419.56L470.33 416.69L470.38 409.10L470.42 400.58L470.46 397.27L470.50 392.84L470.54 393.58L470.58 397.24L470.62 401.92L470.67 404.98L470.71 409.57L470.75 413.56L470.79 412.71L470.83 412.15L470.88 406.82L470.92 403.22L470.96 398.89L471.00 396.00L471.04 394.39L471.08 395.39L471.12 400.67L471.17 404.45L471.21 409.77L471.25 415.80L471.29 419.01L471.33 418.51L471.38 417.21L471.42 412.26L471.46 405.73L471.50 398.03L471.54 390.62L471.58 385.66L471.62 386.10L471.67 384.80L471.71 386.58L471.75 392.46L471.79 394.55L471.83 401.79L471.88 401.69L471.92 403.35L471.96 398.98L472.00 398.00L472.04 391.96L472.08 390.01L472.12 387.18L472.17 387.00L472.21 386.00L472.25 391.33L472.29 396.96L472.33 403.08L472.38 405.86L472.42 409.34L472.46 410.93L472.50 408.68L472.54 405.49L472.58 398.50L472.62 391.74L472.67 386.50L472.71 382.06L472.75 378.22L472.79 379.94L472.83 383.40L472.88 387.64L472.92 391.10L472.96 395.44L473.00 395.88L473.04 396.13L473.08 394.82L473.12 392.28L473.17 386.19L473.21 384.80L473.25 382.63L473.29 379.70L473.33 382.82L473.38 385.44L473.42 393.47L473.46 396.28L473.50 400.29L473.54 401.08L473.58 404.64L473.62 400.26L473.67 397.41L473.71 390.36L473.75 382.46L473.79 377.66L473.83 377.46L473.88 374.30L473.92 374.40L473.96 376.93L474.00 381.25L474.04 386.20L474.08 388.37L474.12 387.65L474.17 388.23L474.21 382.69L474.25 379.67L474.29 374.80L474.33 372.53L474.38 373.21L474.42 373.36L474.46 372.59L474.50 377.38L474.54 381.61L474.58 387.32L474.62 388.68L474.67 391.64L474.71 391.16L474.75 387.57L474.79 382.54L474.83 375.81L474.88 369.49L474.92 365.34L474.96 361.23L475.00 359.85L475.04 365.66L475.08 365.34L475.12 370.35L475.17 369.50L475.21 373.49L475.25 372.02L475.29 371.49L475.33 367.36L475.38 363.68L475.42 360.40L475.46 357.21L475.50 356.32L475.54 355.51L475.58 360.99L475.62 363.37L475.67 368.53L475.71 371.70L475.75 372.90L475.79 376.78L475.83 374.01L475.88 370.45L475.92 365.96L475.96 361.79L476.00 356.97L476.04 353.34L476.08 351.57L476.12 350.62L476.17 353.22L476.21 353.41L476.25 355.50L476.29 360.92L476.33 360.53L476.38 361.77L476.42 361.68L476.46 359.67L476.50 353.48L476.54 352.30L476.58 348.50L476.62 347.58L476.67 349.48L476.71 351.51L476.75 354.32L476.79 359.78L476.83 363.01L476.88 366.61L476.92 364.95L476.96 365.46L477.00 364.19L477.04 357.97L477.08 352.02L477.12 349.72L477.17 345.54L477.21 346.22L477.25 343.14L477.29 344.81L477.33 345.72L477.38 349.28L477.42 348.34L477.46 350.83L477.50 349.03L477.54 349.39L477.58 346.46L477.62 344.30L477.67 339.65L477.71 338.33L477.75 336.03L477.79 336.15L477.83 336.63L477.88 341.78L477.92 342.77L477.96 343.53L478.00 347.39L478.04 345.23L478.08 346.87L478.12 343.03L478.17 339.78L478.21 335.87L478.25 330.11L478.29 326.95L478.33 326.82L478.38 324.87L478.42 327.06L478.46 326.60L478.50 329.06L478.54 330.21L478.58 330.58L478.62 327.29L478.67 327.46L478.71 325.28L478.75 321.62L478.79 319.53L478.83 317.84L478.88 317.83L478.92 318.15L478.96 320.05L479.00 322.25L479.04 326.04L479.08 326.12L479.12 330.36L479.17 329.66L479.21 327.32L479.25 324.18L479.29 321.64L479.33 317.93L479.38 316.32L479.42 311.98L479.46 311.19L479.50 310.05L479.54 309.74L479.58 311.74L479.62 315.25L479.67 314.95L479.71 314.89L479.75 315.88L479.79 313.65L479.83 312.37L479.88 307.18L479.92 305.91L479.96 304.13L480.00 304.75L480.04 303.65L480.08 308.49L480.12 312.49L480.17 318.04L480.21 319.51L480.25 324.69L480.29 327.79L480.33 325.36L480.38 324.02L480.42 323.17L480.46 324.07L480.50 318.74L480.54 316.12L480.58 315.80L480.62 317.87L480.67 320.11L480.71 323.86L480.75 325.38L480.79 330.63L480.83 332.83L480.88 332.45L480.92 333.37L480.96 333.72L481.00 332.21L481.04 330.28L481.08 327.91L481.12 330.31L481.17 332.82L481.21 333.15L481.25 339.27L481.29 341.79L481.33 347.72L481.38 350.98L481.42 352.55L481.46 355.02L481.50 352.30L481.54 351.35L481.58 347.80L481.62 346.25L481.67 343.51L481.71 342.56L481.75 343.88L481.79 344.20L481.83 348.48L481.88 352.48L481.92 355.26L481.96 361.78L482.00 360.30L482.04 360.60L482.08 361.16L482.12 358.52L482.17 356.97L482.21 354.60L482.25 354.63L482.29 356.46L482.33 360.41L482.38 364.95L482.42 369.79L482.46 376.50L482.50 380.26L482.54 384.19L482.58 385.49L482.62 381.80L482.67 380.21L482.71 375.24L482.75 372.80L482.79 369.18L482.83 366.10L482.88 366.92L482.92 369.07L482.96 371.72L483.00 376.90L483.04 380.07L483.08 383.71L483.12 385.34L483.17 382.19L483.21 381.20L483.25 379.73L483.29 377.23L483.33 373.92L483.38 373.69L483.42 376.86L483.46 378.73L483.50 384.48L483.54 387.61L483.58 392.85L483.62 400.31L483.67 401.55L483.71 402.32L483.75 402.26L483.79 397.76L483.83 393.29L483.88 386.94L483.92 384.05L483.96 381.73L484.00 379.95L484.04 381.82L484.08 385.72L484.12 388.31L484.17 392.24L484.21 396.26L484.25 399.16L484.29 397.16L484.33 396.12L484.38 391.70L484.42 390.22L484.46 385.02L484.50 384.93L484.54 387.93L484.58 388.78L484.62 396.66L484.67 401.28L484.71 407.08L484.75 410.74L484.79 416.25L484.83 418.01L484.88 416.20L484.92 412.85L484.96 407.63L485.00 401.15L485.04 395.23L485.08 392.26L485.12 394.39L485.17 394.38L485.21 397.86L485.25 401.15L485.29 405.49L485.33 407.44L485.38 409.10L485.42 409.66L485.46 404.12L485.50 401.51L485.54 395.98L485.58 392.65L485.62 391.94L485.67 391.56L485.71 395.64L485.75 400.64L485.79 409.12L485.83 413.68L485.88 419.55L485.92 420.73L485.96 421.25L486.00 417.39L486.04 414.27L486.08 408.47L486.12 399.61L486.17 395.00L486.21 391.03L486.25 389.77L486.29 392.22L486.33 395.00L486.38 398.40L486.42 402.75L486.46 405.34L486.50 404.60L486.54 401.55L486.58 398.91L486.62 393.14L486.67 388.27L486.71 384.39L486.75 385.13L486.79 387.26L486.83 390.43L486.88 394.55L486.92 401.33L486.96 408.14L487.00 410.86L487.04 413.89L487.08 413.97L487.12 411.66L487.17 404.69L487.21 401.36L487.25 394.75L487.29 389.32L487.33 389.10L487.38 386.47L487.42 389.32L487.46 393.71L487.50 395.95L487.54 402.23L487.58 401.71L487.62 403.56L487.67 402.41L487.71 397.44L487.75 393.37L487.79 389.94L487.83 386.45L487.88 383.92L487.92 386.03L487.96 389.96L488.00 395.64L488.04 399.40L488.08 405.99L488.12 411.08L488.17 411.43L488.21 410.69L488.25 406.60L488.29 402.89L488.33 399.97L488.38 392.22L488.42 386.79L488.46 387.18L488.50 384.24L488.54 387.11L488.58 390.03L488.62 390.72L488.67 396.62L488.71 397.09L488.75 391.92L488.79 392.95L488.83 388.31L488.88 384.39L488.92 378.44L488.96 377.68L489.00 377.08L489.04 379.81L489.08 380.23L489.12 385.14L489.17 391.72L489.21 391.98L489.25 396.69L489.29 397.96L489.33 394.15L489.38 391.61L489.42 386.96L489.46 381.57L489.50 376.81L489.54 374.75L489.58 370.93L489.62 371.53L489.67 372.84L489.71 374.33L489.75 378.69L489.79 378.95L489.83 379.45L489.88 378.63L489.92 376.59L489.96 373.73L490.00 370.18L490.04 365.43L490.08 363.04L490.12 361.94L490.17 361.70L490.21 365.13L490.25 369.93L490.29 374.61L490.33 377.77L490.38 377.69L490.42 380.73L490.46 377.58L490.50 377.54L490.54 371.13L490.58 367.39L490.62 361.18L490.67 360.61L490.71 358.75L490.75 358.66L490.79 361.41L490.83 361.35L490.88 363.24L490.92 365.73L490.96 364.56L491.00 362.46L491.04 358.75L491.08 354.87L491.12 353.51L491.17 349.80L491.21 346.81L491.25 346.15L491.29 347.23L491.33 351.94L491.38 353.57L491.42 357.45L491.46 359.40L491.50 362.73L491.54 361.67L491.58 358.33L491.62 356.73L491.67 354.74L491.71 347.07L491.75 345.83L491.79 342.14L491.83 340.69L491.88 342.83L491.92 343.92L491.96 345.88L492.00 348.83L492.04 346.31L492.08 347.10L492.12 345.41L492.17 343.05L492.21 339.87L492.25 334.72L492.29 332.08L492.33 333.17L492.38 331.73L492.42 332.47L492.46 335.82L492.50 339.28L492.54 342.12L492.58 343.92L492.62 344.38L492.67 344.65L492.71 339.87L492.75 336.41L492.79 331.17L492.83 329.26L492.88 326.35L492.92 323.50L492.96 323.78L493.00 323.75L493.04 327.56L493.08 325.35L493.12 329.21L493.17 327.93L493.21 326.42L493.25 325.57L493.29 322.38L493.33 318.22L493.38 316.84L493.42 312.58L493.46 311.63L493.50 312.18L493.54 313.51L493.58 314.24L493.62 314.93L493.67 318.20L493.71 319.46L493.75 320.84L493.79 320.33L493.83 320.23L493.88 315.19L493.92 314.14L493.96 308.25L494.00 307.69L494.04 303.79L494.08 305.20L494.12 303.77L494.17 305.20L494.21 305.74L494.25 307.75L494.29 308.39L494.33 306.81L494.38 305.54L494.42 303.15L494.46 298.65L494.50 299.38L494.54 296.08L494.58 295.85L494.62 298.88L494.67 299.19L494.71 298.33L494.75 304.85L494.79 310.06L494.83 312.32L494.88 313.48L494.92 315.63L494.96 317.00L495.00 315.47L495.04 313.98L495.08 310.23L495.12 307.66L495.17 307.41L495.21 306.62L495.25 307.64L495.29 309.35L495.33 310.57L495.38 315.94L495.42 316.07L495.46 319.66L495.50 319.78L495.54 318.60L495.58 316.13L495.62 313.48L495.67 312.92L495.71 311.75L495.75 311.92L495.79 315.51L495.83 319.38L495.88 322.06L495.92 326.31L495.96 333.70L496.00 333.29L496.04 336.54L496.08 336.16L496.12 335.34L496.17 331.15L496.21 327.12L496.25 327.05L496.29 324.06L496.33 325.76L496.38 327.79L496.42 331.42L496.46 333.48L496.50 337.58L496.54 340.51L496.58 344.11L496.62 342.33L496.67 339.17L496.71 337.85L496.75 336.73L496.79 333.68L496.83 334.17L496.88 335.26L496.92 338.66L496.96 343.22L497.00 346.18L497.04 352.33L497.08 358.31L497.12 362.74L497.17 365.07L497.21 366.92L497.25 364.32L497.29 362.03L497.33 358.75L497.38 355.59L497.42 353.70L497.46 352.70L497.50 352.89L497.54 358.89L497.58 362.73L497.62 367.36L497.67 367.81L497.71 372.03L497.75 373.30L497.79 368.28L497.83 365.67L497.88 362.95L497.92 361.73L497.96 359.63L498.00 359.53L498.04 361.09L498.08 367.04L498.12 374.81L498.17 381.02L498.21 385.26L498.25 389.43L498.29 391.90L498.33 390.45L498.38 388.09L498.42 382.73L498.46 381.05L498.50 378.31L498.54 374.21L498.58 375.14L498.62 377.24L498.67 378.48L498.71 381.95L498.75 386.92L498.79 390.02L498.83 389.57L498.88 389.40L498.92 385.08L498.96 383.32L499.00 379.34L499.04 372.89L499.08 371.44L499.12 372.91L499.17 375.90L499.21 380.14L499.25 388.96L499.29 393.17L499.33 399.50L499.38 403.05L499.42 406.01L499.46 401.12L499.50 398.21L499.54 393.54L499.58 390.10L499.62 385.26L499.67 383.58L499.71 384.22L499.75 385.69L499.79 390.61L499.83 394.59L499.88 398.16L499.92 402.48L499.96 398.76L500.00 397.68L500.04 391.36L500.08 387.23L500.12 382.86L500.17 380.25L500.21 377.71L500.25 381.93L500.29 382.01L500.33 389.05L500.38 394.62L500.42 403.07L500.46 408.99L500.50 411.01L500.54 412.25L500.58 409.68L500.62 406.25L500.67 400.49L500.71 395.07L500.75 392.74L500.79 390.07L500.83 390.29L500.88 393.91L500.92 396.33L500.96 399.64L501.00 400.57L501.04 403.53L501.08 403.30L501.12 399.96L501.17 393.90L501.21 388.21L501.25 383.63L501.29 381.61L501.33 378.63L501.38 379.11L501.42 383.92L501.46 390.02L501.50 396.13L501.54 400.60L501.58 404.18L501.62 406.86L501.67 405.80L501.71 400.41L501.75 396.64L501.79 391.52L501.83 385.65L501.88 383.00L501.92 380.33L501.96 380.00L502.00 381.50L502.04 385.98L502.08 388.64L502.12 388.91L502.17 388.16L502.21 388.68L502.25 384.10L502.29 376.73L502.33 372.81L502.38 366.51L502.42 364.36L502.46 363.29L502.50 361.79L502.54 366.97L502.58 371.33L502.62 376.47L502.67 381.60L502.71 385.73L502.75 385.20L502.79 387.59L502.83 384.93L502.88 380.32L502.92 374.07L502.96 369.87L503.00 366.43L503.04 365.61L503.08 365.48L503.12 367.58L503.17 371.06L503.21 374.42L503.25 376.67L503.29 379.47L503.33 375.56L503.38 372.88L503.42 367.95L503.46 364.96L503.50 358.92L503.54 356.85L503.58 354.05L503.62 354.83L503.67 359.69L503.71 363.91L503.75 369.09L503.79 373.31L503.83 378.08L503.88 379.44L503.92 378.98L503.96 378.35L504.00 373.89L504.04 368.36L504.08 365.20L504.12 362.06L504.17 358.45L504.21 360.49L504.25 360.98L504.29 363.09L504.33 366.66L504.38 367.70L504.42 371.30L504.46 370.73L504.50 366.13L504.54 362.76L504.58 359.08L504.62 353.97L504.67 351.07L504.71 348.44L504.75 346.82L504.79 348.97L504.83 352.91L504.88 357.24L504.92 363.72L504.96 365.63L505.00 369.04L505.04 368.86L505.08 368.34L505.12 366.07L505.17 361.22L505.21 357.41L505.25 352.62L505.29 351.07L505.33 347.87L505.38 349.18L505.42 350.14L505.46 354.61L505.50 356.11L505.54 358.89L505.58 358.78L505.62 354.07L505.67 352.48L505.71 348.74L505.75 343.62L505.79 342.34L505.83 337.98L505.88 337.38L505.92 338.90L505.96 340.53L506.00 344.89L506.04 350.48L506.08 352.42L506.12 355.82L506.17 355.38L506.21 352.62L506.25 350.69L506.29 347.86L506.33 342.80L506.38 338.23L506.42 335.51L506.46 336.36L506.50 336.19L506.54 336.37L506.58 340.95L506.62 341.06L506.67 343.57L506.71 341.30L506.75 338.67L506.79 335.93L506.83 329.47L506.88 328.43L506.92 320.78L506.96 319.77L507.00 321.45L507.04 323.58L507.08 324.17L507.12 328.76L507.17 330.87L507.21 332.84L507.25 333.73L507.29 332.30L507.33 331.14L507.38 327.72L507.42 322.32L507.46 318.32L507.50 315.33L507.54 313.65L507.58 312.37L507.62 315.08L507.67 313.57L507.71 316.00L507.75 315.88L507.79 313.75L507.83 316.54L507.88 313.55L507.92 308.64L507.96 304.18L508.00 300.80L508.04 297.08L508.08 293.71L508.12 294.61L508.17 294.22L508.21 295.12L508.25 300.72L508.29 302.76L508.33 301.81L508.38 304.31L508.42 305.38L508.46 302.20L508.50 298.49L508.54 294.62L508.58 292.22L508.62 289.35L508.67 289.43L508.71 286.66L508.75 286.92L508.79 286.54L508.83 288.06L508.88 290.31L508.92 291.13L508.96 287.22L509.00 285.89L509.04 283.99L509.08 280.35L509.12 277.77L509.17 277.45L509.21 272.55L509.25 273.32L509.29 272.84L509.33 274.55L509.38 277.24L509.42 278.56L509.46 281.30L509.50 283.69L509.54 283.07L509.58 282.55L509.62 284.38L509.67 282.43L509.71 280.69L509.75 279.40L509.79 279.46L509.83 281.45L509.88 283.26L509.92 286.61L509.96 288.68L510.00 291.79L510.04 294.07L510.08 293.25L510.12 289.84L510.17 290.15L510.21 289.08L510.25 285.30L510.29 282.03L510.33 282.43L510.38 283.29L510.42 285.99L510.46 290.07L510.50 293.10L510.54 296.31L510.58 299.61L510.62 302.14L510.67 303.04L510.71 304.32L510.75 302.25L510.79 299.71L510.83 298.92L510.88 297.00L510.92 298.15L510.96 298.73L511.00 300.12L511.04 301.86L511.08 305.37L511.12 308.05L511.17 309.19L511.21 311.36L511.25 309.44L511.29 305.47L511.33 304.37L511.38 302.67L511.42 300.68L511.46 299.90L511.50 299.39L511.54 302.45L511.58 307.47L511.62 309.71L511.67 316.98L511.71 319.92L511.75 323.26L511.79 324.00L511.83 326.44L511.88 323.77L511.92 322.24L511.96 321.91L512.00 320.03L512.04 320.04L512.08 321.29L512.12 324.67L512.17 328.00L512.21 331.20L512.25 335.54L512.29 338.22L512.33 337.23L512.38 336.48L512.42 333.85L512.46 329.53L512.50 328.67L512.54 325.47L512.58 323.72L512.62 325.25L512.67 328.14L512.71 334.34L512.75 340.38L512.79 344.97L512.83 348.71L512.88 349.72L512.92 351.86L512.96 352.58L513.00 346.95L513.04 344.75L513.08 343.42L513.12 342.32L513.17 341.63L513.21 343.88L513.25 348.18L513.29 352.01L513.33 355.79L513.38 358.75L513.42 358.67L513.46 357.45L513.50 353.54L513.54 352.36L513.58 347.24L513.62 342.50L513.67 338.57L513.71 338.78L513.75 342.48L513.79 345.56L513.83 351.57L513.88 356.26L513.92 362.30L513.96 366.60L514.00 369.72L514.04 368.67L514.08 367.53L514.12 362.56L514.17 360.86L514.21 358.05L514.25 357.99L514.29 357.52L514.33 360.45L514.38 362.62L514.42 369.06L514.46 373.09L514.50 374.99L514.54 376.23L514.58 373.84L514.62 370.16L514.67 363.44L514.71 357.83L514.75 353.11L514.79 352.21L514.83 352.18L514.88 353.93L514.92 361.27L514.96 366.83L515.00 376.03L515.04 378.83L515.08 384.03L515.12 384.17L515.17 383.28L515.21 381.27L515.25 376.15L515.29 373.26L515.33 371.19L515.38 370.84L515.42 370.19L515.46 373.95L515.50 377.38L515.54 383.40L515.58 386.39L515.62 389.75L515.67 388.48L515.71 386.89L515.75 378.83L515.79 376.57L515.83 372.16L515.88 365.47L515.92 363.61L515.96 363.13L516.00 362.92L516.04 367.30L516.08 374.61L516.12 381.75L516.17 384.91L516.21 387.96L516.25 389.25L516.29 387.36L516.33 386.81L516.38 382.00L516.42 377.01L516.46 374.32L516.50 372.27L516.54 371.51L516.58 374.21L516.62 374.94L516.67 380.24L516.71 386.12L516.75 385.49L516.79 386.84L516.83 382.96L516.88 377.81L516.92 372.52L516.96 366.53L517.00 359.70L517.04 354.32L517.08 352.68L517.12 356.67L517.17 359.22L517.21 362.37L517.25 368.26L517.29 375.52L517.33 379.43L517.38 378.51L517.42 377.34L517.46 375.41L517.50 372.56L517.54 368.92L517.58 362.68L517.62 361.74L517.67 360.41L517.71 363.65L517.75 365.68L517.79 370.44L517.83 372.90L517.88 375.35L517.92 374.91L517.96 372.14L518.00 369.26L518.04 361.84L518.08 356.39L518.12 351.90L518.17 347.29L518.21 346.02L518.25 348.50L518.29 349.04L518.33 354.66L518.38 360.93L518.42 366.03L518.46 367.33L518.50 367.54L518.54 365.92L518.58 362.52L518.62 361.53L518.67 358.10L518.71 353.49L518.75 351.16L518.79 353.82L518.83 355.62L518.88 357.29L518.92 363.98L518.96 364.81L519.00 367.51L519.04 365.15L519.08 363.74L519.12 358.65L519.17 353.70L519.21 347.54L519.25 341.40L519.29 338.88L519.33 338.08L519.38 338.16L519.42 342.59L519.46 343.48L519.50 350.64L519.54 354.22L519.58 355.68L519.62 356.93L519.67 353.09L519.71 350.55L519.75 349.35L519.79 344.81L519.83 342.31L519.88 341.08L519.92 341.63L519.96 344.64L520.00 346.15L520.04 348.56L520.08 351.80L520.12 352.79L520.17 351.88L520.21 349.17L520.25 342.92L520.29 337.19L520.33 331.26L520.38 329.37L520.42 324.83L520.46 325.36L520.50 325.42L520.54 331.27L520.58 335.12L520.62 335.23L520.67 340.32L520.71 339.91L520.75 338.26L520.79 335.95L520.83 334.57L520.88 329.17L520.92 325.16L520.96 323.31L521.00 323.62L521.04 324.84L521.08 324.09L521.12 326.11L521.17 328.46L521.21 331.01L521.25 330.19L521.29 330.27L521.33 327.91L521.38 320.36L521.42 316.45L521.46 309.73L521.50 305.74L521.54 303.72L521.58 304.28L521.62 303.49L521.67 305.26L521.71 307.50L521.75 310.70L521.79 311.73L521.83 312.73L521.88 313.48L521.92 310.68L521.96 307.14L522.00 303.79L522.04 299.27L522.08 296.84L522.12 295.91L522.17 298.09L522.21 297.99L522.25 302.22L522.29 300.33L522.33 303.28L522.38 302.75L522.42 300.43L522.46 295.62L522.50 292.86L522.54 286.96L522.58 281.38L522.62 277.40L522.67 277.47L522.71 275.96L522.75 277.18L522.79 277.08L522.83 279.73L522.88 281.34L522.92 282.76L522.96 282.46L523.00 282.63L523.04 278.08L523.08 277.02L523.12 272.55L523.17 268.69L523.21 267.97L523.25 266.91L523.29 267.69L523.33 270.92L523.38 269.76L523.42 271.72L523.46 274.32L523.50 273.19L523.54 271.10L523.58 268.72L523.62 263.76L523.67 263.33L523.71 256.15L523.75 252.27L523.79 251.05L523.83 249.58L523.88 250.04L523.92 251.75L523.96 254.77L524.00 257.33L524.04 258.84L524.08 258.11L524.12 257.83L524.17 257.93L524.21 252.74L524.25 250.98L524.29 250.06L524.33 247.91L524.38 246.45L524.42 247.13L524.46 247.48L524.50 251.31L524.54 252.85L524.58 255.80L524.62 256.32L524.67 257.48L524.71 259.00L524.75 253.98L524.79 252.38L524.83 249.22L524.88 249.46L524.92 247.90L524.96 248.31L525.00 251.85L525.04 255.76L525.08 258.53L525.12 264.11L525.17 266.56L525.21 268.86L525.25 268.15L525.29 269.48L525.33 268.83L525.38 266.99L525.42 267.07L525.46 265.67L525.50 268.06L525.54 272.20L525.58 274.98L525.62 280.39L525.67 283.32L525.71 285.59L525.75 287.94L525.79 287.14L525.83 289.43L525.88 283.74L525.92 282.41L525.96 280.50L526.00 279.14L526.04 275.49L526.08 282.76L526.12 282.05L526.17 284.99L526.21 289.87L526.25 294.95L526.29 298.77L526.33 301.10L526.38 301.58L526.42 302.98L526.46 299.49L526.50 299.79L526.54 298.98L526.58 299.76L526.62 301.71L526.67 302.45L526.71 304.88L526.75 309.42L526.79 315.05L526.83 318.62L526.88 317.88L526.92 318.32L526.96 318.58L527.00 314.66L527.04 310.75L527.08 309.13L527.12 304.35L527.17 303.81L527.21 305.83L527.25 307.86L527.29 310.01L527.33 315.84L527.38 319.30L527.42 323.52L527.46 324.64L527.50 326.15L527.54 325.46L527.58 324.08L527.62 322.31L527.67 321.47L527.71 320.36L527.75 320.19L527.79 323.25L527.83 329.51L527.88 333.26L527.92 337.83L527.96 338.78L528.00 340.35L528.04 337.63L528.08 334.41L528.12 331.16L528.17 327.48L528.21 324.57L528.25 320.51L528.29 319.62L528.33 322.07L528.38 325.74L528.42 327.85L528.46 335.42L528.50 339.33L528.54 343.94L528.58 344.38L528.62 343.44L528.67 341.38L528.71 341.30L528.75 336.99L528.79 333.50L528.83 333.22L528.88 335.61L528.92 340.45L528.96 343.36L529.00 351.18L529.04 353.78L529.08 357.19L529.12 358.56L529.17 355.18L529.21 352.43L529.25 347.34L529.29 342.15L529.33 335.20L529.38 334.57L529.42 332.26L529.46 332.39L529.50 333.57L529.54 340.24L529.58 344.34L529.62 348.46L529.67 353.59L529.71 354.89L529.75 353.67L529.79 352.41L529.83 349.44L529.88 346.12L529.92 343.68L529.96 343.05L530.00 342.53L530.04 346.68L530.08 350.47L530.12 356.92L530.17 361.88L530.21 365.92L530.25 365.07L530.29 363.91L530.33 359.74L530.38 353.33L530.42 346.76L530.46 339.79L530.50 336.21L530.54 333.33L530.58 334.25L530.62 336.58L530.67 342.91L530.71 346.87L530.75 352.44L530.79 356.22L530.83 357.58L530.88 356.55L530.92 356.39L530.96 349.32L531.00 345.67L531.04 342.51L531.08 341.97L531.12 343.65L531.17 345.49L531.21 349.23L531.25 357.99L531.29 362.45L531.33 364.19L531.38 367.55L531.42 363.55L531.46 358.03L531.50 353.81L531.54 343.86L531.58 337.89L531.62 332.17L531.67 332.30L531.71 331.46L531.75 335.66L531.79 338.97L531.83 344.98L531.88 347.90L531.92 352.79L531.96 354.03L532.00 351.76L532.04 346.77L532.08 341.81L532.12 338.48L532.17 336.65L532.21 335.69L532.25 334.66L532.29 341.02L532.33 345.67L532.38 351.95L532.42 355.18L532.46 358.19L532.50 357.36L532.54 352.77L532.58 346.45L532.62 340.63L532.67 334.10L532.71 327.85L532.75 324.36L532.79 323.69L532.83 323.62L532.88 328.55L532.92 331.72L532.96 333.82L533.00 338.99L533.04 341.62L533.08 339.05L533.12 338.95L533.17 335.46L533.21 331.16L533.25 327.82L533.29 326.46L533.33 325.62L533.38 324.71L533.42 328.79L533.46 332.75L533.50 336.20L533.54 337.99L533.58 343.85L533.62 340.95L533.67 338.96L533.71 334.08L533.75 330.41L533.79 324.64L533.83 319.51L533.88 316.92L533.92 312.56L533.96 314.18L534.00 317.51L534.04 320.01L534.08 323.18L534.12 324.96L534.17 330.04L534.21 329.52L534.25 327.70L534.29 324.07L534.33 322.97L534.38 316.91L534.42 315.82L534.46 314.61L534.50 313.72L534.54 319.10L534.58 323.05L534.62 327.86L534.67 331.66L534.71 331.49L534.75 333.93L534.79 329.82L534.83 327.17L534.88 320.61L534.92 314.91L534.96 308.92L535.00 305.84L535.04 305.59L535.08 304.95L535.12 306.80L535.17 311.91L535.21 312.96L535.25 318.59L535.29 319.84L535.33 320.06L535.38 316.66L535.42 312.52L535.46 312.18L535.50 309.34L535.54 307.21L535.58 304.62L535.62 305.46L535.67 307.84L535.71 309.92L535.75 315.33L535.79 317.48L535.83 318.08L535.88 318.67L535.92 316.51L535.96 312.08L536.00 305.81L536.04 303.79L536.08 295.88L536.12 291.73L536.17 291.32L536.21 291.30L536.25 293.03L536.29 295.91L536.33 297.32L536.38 299.50L536.42 300.76L536.46 300.29L536.50 298.23L536.54 295.54L536.58 292.30L536.62 289.02L536.67 286.47L536.71 284.67L536.75 286.61L536.79 286.16L536.83 289.84L536.88 291.97L536.92 292.70L536.96 293.56L537.00 294.40L537.04 294.22L537.08 289.16L537.12 281.52L537.17 278.63L537.21 273.75L537.25 267.63L537.29 269.00L537.33 267.06L537.38 269.59L537.42 269.03L537.46 272.81L537.50 274.61L537.54 275.49L537.58 272.95L537.62 272.15L537.67 270.51L537.71 268.09L537.75 262.25L537.79 260.54L537.83 259.69L537.88 261.89L537.92 262.44L537.96 265.49L538.00 266.60L538.04 268.74L538.08 269.29L538.12 268.67L538.17 265.61L538.21 263.88L538.25 258.59L538.29 254.71L538.33 251.22L538.38 247.82L538.42 246.77L538.46 247.51L538.50 248.52L538.54 250.49L538.58 252.02L538.62 251.67L538.67 251.99L538.71 253.04L538.75 249.63L538.79 248.38L538.83 243.00L538.88 241.80L538.92 240.59L538.96 240.77L539.00 241.91L539.04 241.12L539.08 243.55L539.12 248.20L539.17 247.95L539.21 249.59L539.25 245.83L539.29 243.78L539.33 240.96L539.38 237.91L539.42 230.91L539.46 229.75L539.50 225.08L539.54 223.55L539.58 226.84L539.63 227.71L539.67 232.56L539.71 234.92L539.75 237.10L539.79 241.26L539.83 240.53L539.88 239.50L539.92 241.51L539.96 238.58L540.00 236.94L540.04 237.04L540.08 239.06L540.13 239.81L540.17 245.75L540.21 248.09L540.25 251.45L540.29 254.57L540.33 255.34L540.38 256.93L540.42 254.93L540.46 255.53L540.50 250.65L540.54 253.09L540.58 246.47L540.63 246.50L540.67 247.39L540.71 247.93L540.75 252.40L540.79 252.62L540.84 257.66L540.88 260.49L540.92 262.34L540.96 264.80L541.00 261.71L541.04 259.37L541.09 259.08L541.13 260.82L541.17 257.88L541.21 259.01L541.25 263.79L541.29 267.38L541.34 269.53L541.38 275.87L541.42 279.43L541.46 282.18L541.50 285.18L541.54 282.32L541.59 280.00L541.63 276.06L541.67 273.68L541.71 271.74L541.75 268.45L541.79 272.19L541.84 273.71L541.88 276.52L541.92 280.42L541.96 282.52L542.00 285.46L542.05 289.67L542.09 287.75L542.13 285.06L542.17 284.37L542.21 280.74L542.25 284.71L542.30 280.14L542.34 281.81L542.38 286.88L542.42 291.47L542.46 295.48L542.50 300.64L542.55 304.54L542.59 307.23L542.63 308.46L542.67 305.32L542.71 305.17L542.75 301.05L542.80 296.79L542.84 295.61L542.88 292.23L542.92 294.42L542.96 294.71L543.01 300.07L543.05 305.58L543.09 306.98L543.13 309.41L543.17 312.16L543.21 309.57L543.26 308.34L543.30 307.22L543.34 303.73L543.38 302.14L543.42 302.69L543.46 304.13L543.51 308.73L543.55 311.44L543.59 319.86L543.63 323.65L543.67 331.09L543.71 332.05L543.76 331.83L543.80 330.39L543.84 324.87L543.88 319.42L543.92 317.06L543.96 312.89L544.01 310.05L544.05 309.44L544.09 310.93L544.13 315.17L544.17 319.24L544.22 322.73L544.26 325.35L544.30 326.24L544.34 326.38L544.38 323.59L544.42 319.78L544.47 315.22L544.51 311.93L544.55 313.76L544.59 315.16L544.63 319.14L544.67 322.68L544.72 328.53L544.76 335.49L544.80 340.10L544.84 340.45L544.88 339.70L544.92 338.70L544.97 331.78L545.01 326.81L545.05 321.14L545.09 317.31L545.13 312.89L545.17 316.31L545.22 317.18L545.26 322.65L545.30 324.85L545.34 328.35L545.38 330.79L545.42 329.38L545.47 328.54L545.51 325.46L545.55 320.34L545.59 315.21L545.63 314.58L545.67 312.23L545.72 317.44L545.76 321.82L545.80 328.03L545.84 332.49L545.88 338.30L545.92 343.18L545.97 347.22L546.01 342.78L546.05 339.39L546.09 335.03L546.13 328.01L546.17 322.84L546.22 318.61L546.26 319.08L546.30 318.79L546.34 321.30L546.38 325.16L546.42 329.62L546.47 332.79L546.51 335.66L546.55 334.95L546.59 331.97L546.63 328.97L546.67 324.76L546.72 319.85L546.76 319.47L546.80 316.07L546.84 321.01L546.88 324.01L546.92 332.49L546.97 339.14L547.01 342.27L547.05 346.91L547.09 347.75L547.13 346.11L547.17 342.21L547.22 335.18L547.26 329.42L547.30 325.22L547.34 322.34L547.38 319.56L547.42 321.83L547.46 324.05L547.51 325.59L547.55 329.87L547.59 332.60L547.63 333.35L547.67 330.37L547.71 327.88L547.76 326.13L547.80 320.23L547.84 317.73L547.88 311.09L547.92 312.33L547.96 313.11L548.01 318.78L548.05 324.72L548.09 329.55L548.13 334.14L548.17 337.30L548.21 337.26L548.26 332.20L548.30 327.31L548.34 322.16L548.38 317.80L548.42 311.86L548.46 306.64L548.51 306.04L548.55 306.86L548.59 308.15L548.63 310.73L548.67 313.92L548.71 316.02L548.76 318.26L548.80 314.22L548.84 311.05L548.88 305.27L548.92 302.47L548.96 298.25L549.01 294.04L549.05 295.17L549.09 296.53L549.13 300.57L549.17 305.97L549.21 310.02L549.25 315.66L549.30 315.91L549.34 315.08L549.38 312.02L549.42 309.22L549.46 306.08L549.50 299.30L549.55 293.89L549.59 291.99L549.63 290.94L549.67 292.30L549.71 294.79L549.75 298.96L549.80 298.21L549.84 302.90L549.88 302.11L549.92 299.63L549.96 296.78L550.00 291.10L550.05 287.23L550.09 282.38L550.13 284.57L550.17 284.02L550.21 287.99L550.25 292.28L550.30 296.62L550.34 302.90L550.38 306.33L550.42 307.27L550.46 305.27L550.50 302.11L550.55 299.33L550.59 294.60L550.63 288.55L550.67 284.69L550.71 282.26L550.75 285.10L550.80 283.86L550.84 286.51L550.88 289.61L550.92 290.47L550.96 292.15L551.00 291.24L551.05 285.76L551.09 283.58L551.13 279.23L551.17 276.61L551.21 273.38L551.25 271.73L551.29 273.91L551.34 276.43L551.38 277.98L551.42 281.62L551.46 286.11L551.50 287.81L551.54 288.70L551.59 285.65L551.63 284.27L551.67 279.96L551.71 274.61L551.75 271.16L551.79 265.92L551.84 266.56L551.88 263.16L551.92 266.66L551.96 266.31L552.00 267.60L552.04 268.67L552.09 268.90L552.13 267.87L552.17 266.12L552.21 262.36L552.25 257.42L552.29 254.59L552.34 249.39L552.38 248.98L552.42 246.73L552.46 251.01L552.50 251.58L552.54 256.00L552.59 259.19L552.63 260.32L552.67 261.86L552.71 260.74L552.75 255.36L552.79 255.55L552.84 249.75L552.88 246.38L552.92 241.64L552.96 239.56L553.00 238.64L553.04 239.61L553.08 240.93L553.13 239.97L553.17 242.73L553.21 243.59L553.25 240.24L553.29 239.16L553.33 234.66L553.38 233.93L553.42 229.57L553.46 224.83L553.50 225.28L553.54 224.73L553.58 227.20L553.63 229.95L553.67 234.05L553.71 235.19L553.75 235.79L553.79 236.71L553.83 235.05L553.88 233.66L553.92 228.26L553.96 225.31L554.00 223.33L554.04 219.87L554.08 218.92L554.13 217.66L554.17 216.80L554.21 220.54L554.25 219.32L554.29 220.90L554.33 221.47L554.38 220.64L554.42 216.29L554.46 211.89L554.50 209.96L554.54 206.03L554.58 204.03L554.63 203.15L554.67 202.79L554.71 204.95L554.75 207.52L554.79 209.04L554.83 212.08L554.88 212.97L554.92 211.62L554.96 210.28L555.00 209.35L555.04 207.26L555.08 206.96L555.13 204.73L555.17 202.55L555.21 206.10L555.25 206.15L555.29 209.26L555.33 213.54L555.38 212.27L555.42 215.76L555.46 218.17L555.50 217.43L555.54 216.79L555.58 215.15L555.63 214.29L555.67 210.38L555.71 214.79L555.75 216.18L555.79 218.37L555.83 222.60L555.88 228.63L555.92 233.10L555.96 235.91L556.00 238.90L556.04 239.91L556.09 240.23L556.13 238.53L556.17 237.36L556.21 236.69L556.25 237.52L556.29 238.26L556.34 238.47L556.38 238.27L556.42 245.64L556.46 246.65L556.50 249.88L556.54 253.10L556.59 255.09L556.63 253.60L556.67 252.19L556.71 251.19L556.75 248.25L556.79 248.02L556.84 247.94L556.88 251.57L556.92 252.43L556.96 257.79L557.00 260.95L557.04 267.75L557.09 273.88L557.13 277.77L557.17 279.68L557.21 278.96L557.25 277.96L557.30 275.01L557.34 274.35L557.38 272.12L557.42 271.45L557.46 271.90L557.50 275.07L557.55 277.16L557.59 284.32L557.63 287.36L557.67 286.46L557.71 290.59L557.75 290.04L557.80 286.94L557.84 281.67L557.88 280.89L557.92 278.60L557.96 278.86L558.00 279.71L558.05 285.59L558.09 289.79L558.13 296.52L558.17 301.68L558.21 305.43L558.26 309.63L558.30 311.99L558.34 309.86L558.38 309.97L558.42 305.56L558.46 305.01L558.51 301.74L558.55 298.64L558.59 300.08L558.63 299.81L558.67 305.52L558.71 310.76L558.76 312.42L558.80 315.58L558.84 316.35L558.88 315.63L558.92 311.63L558.96 307.34L559.01 303.02L559.05 301.99L559.09 298.88L559.13 301.36L559.17 303.80L559.21 308.48L559.26 312.80L559.30 319.60L559.34 327.43L559.38 329.88L559.42 329.55L559.47 329.43L559.51 326.40L559.55 320.51L559.59 317.36L559.63 314.03L559.67 310.62L559.72 311.34L559.76 313.56L559.80 317.55L559.84 322.53L559.88 324.81L559.92 327.20L559.97 323.56L560.01 320.75L560.05 316.67L560.09 311.12L560.13 306.02L560.17 304.12L560.22 305.28L560.26 303.64L560.30 310.35L560.34 315.91L560.38 322.25L560.42 327.67L560.47 331.83L560.51 333.90L560.55 334.76L560.59 330.41L560.63 327.82L560.67 322.91L560.72 317.24L560.76 314.99L560.80 315.22L560.84 318.28L560.88 320.55L560.92 324.84L560.97 328.77L561.01 330.76L561.05 333.60L561.09 329.75L561.13 326.19L561.17 320.26L561.22 316.24L561.26 309.36L561.30 307.98L561.34 308.41L561.38 312.32L561.42 316.84L561.47 322.64L561.51 327.90L561.55 334.79L561.59 337.23L561.63 339.25L561.67 337.37L561.72 334.13L561.76 328.90L561.80 325.99L561.84 321.26L561.88 319.82L561.92 321.04L561.97 319.51L562.01 324.82L562.05 326.37L562.09 327.29L562.13 330.13L562.17 331.39L562.22 328.20L562.26 323.29L562.30 319.67L562.34 312.99L562.38 310.37L562.42 307.23L562.46 305.95L562.51 309.79L562.55 313.99L562.59 316.11L562.63 322.63L562.67 327.02L562.71 329.29L562.76 329.29L562.80 328.89L562.84 326.62L562.88 321.26L562.92 316.95L562.96 312.06L563.01 311.63L563.05 312.18L563.09 313.25L563.13 316.70L563.17 318.70L563.21 321.93L563.26 322.80L563.30 320.60L563.34 317.45L563.38 313.14L563.42 307.61L563.46 300.69L563.51 298.10L563.55 294.92L563.59 296.68L563.63 297.39L563.67 303.20L563.71 309.01L563.76 313.74L563.80 319.42L563.84 320.92L563.88 320.33L563.92 318.29L563.96 313.63L564.01 311.59L564.05 305.88L564.09 303.55L564.13 302.66L564.17 299.83L564.21 305.44L564.25 308.54L564.30 308.07L564.34 310.36L564.38 312.26L564.42 312.25L564.46 308.62L564.50 305.52L564.55 298.40L564.59 293.16L564.63 289.48L564.67 287.92L564.71 287.80L564.75 290.21L564.80 292.97L564.84 297.80L564.88 303.72L564.92 307.99L564.96 310.55L565.00 309.55L565.05 308.27L565.09 306.92L565.13 302.71L565.17 297.38L565.21 293.35L565.25 291.37L565.30 291.19L565.34 292.14L565.38 294.22L565.42 297.30L565.46 299.61L565.50 300.77L565.55 298.25L565.59 295.35L565.63 291.09L565.67 287.42L565.71 281.18L565.75 279.07L565.80 277.02L565.84 276.56L565.88 276.75L565.92 282.06L565.96 284.64L566.00 290.50L566.05 293.12L566.09 293.95L566.13 294.59L566.17 291.95L566.21 288.27L566.25 285.66L566.29 280.74L566.34 277.00L566.38 274.86L566.42 276.83L566.46 277.05L566.50 276.59L566.54 278.72L566.59 281.96L566.63 282.03L566.67 279.20L566.71 275.96L566.75 271.91L566.79 266.41L566.84 262.92L566.88 261.24L566.92 257.96L566.96 256.33L567.00 259.46L567.04 261.76L567.09 266.14L567.13 269.50L567.17 270.86L567.21 269.94L567.25 268.77L567.29 267.87L567.34 264.57L567.38 259.50L567.42 256.43L567.46 254.96L567.50 253.42L567.54 253.05L567.59 252.78L567.63 257.76L567.67 255.83L567.71 257.69L567.75 256.41L567.79 256.38L567.84 253.32L567.88 249.10L567.92 242.72L567.96 240.59L568.00 233.89L568.04 235.31L568.08 236.99L568.13 236.76L568.17 239.33L568.21 242.58L568.25 243.47L568.29 247.74L568.33 247.11L568.38 246.54L568.42 243.44L568.46 240.84L568.50 238.38L568.54 234.13L568.58 233.01L568.63 231.57L568.67 231.25L568.71 232.01L568.75 234.39L568.79 233.38L568.83 235.43L568.88 234.58L568.92 234.49L568.96 230.40L569.00 225.57L569.04 221.61L569.08 219.76L569.13 215.96L569.17 213.89L569.21 214.93L569.25 215.68L569.29 217.48L569.33 217.84L569.38 223.26L569.42 224.17L569.46 222.81L569.50 221.89L569.54 219.55L569.58 217.89L569.63 216.51L569.67 212.21L569.71 208.28L569.75 209.07L569.79 210.75L569.83 209.91L569.88 209.26L569.92 213.55L569.96 212.92L570.00 211.47L570.04 212.21L570.08 208.71L570.13 208.53L570.17 206.74L570.21 205.14L570.25 205.24L570.29 203.55L570.33 207.54L570.38 211.58L570.42 214.04L570.46 218.10L570.50 223.96L570.54 226.79L570.58 227.05L570.63 230.31L570.67 229.26L570.71 227.89L570.75 228.13L570.79 225.21L570.83 224.66L570.88 228.63L570.92 231.26L570.96 233.31L571.00 238.02L571.04 239.98L571.09 243.76L571.13 243.87L571.17 241.19L571.21 242.71L571.25 240.16L571.29 238.43L571.34 234.34L571.38 236.80L571.42 236.66L571.46 239.76L571.50 245.24L571.54 250.17L571.59 253.17L571.63 258.61L571.67 262.15L571.71 263.15L571.75 264.59L571.79 264.24L571.84 262.30L571.88 259.87L571.92 261.26L571.96 260.79L572.00 261.92L572.04 263.20L572.09 268.79L572.13 272.47L572.17 274.17L572.21 277.50L572.25 278.79L572.30 277.73L572.34 275.36L572.38 273.06L572.42 271.06L572.46 266.49L572.50 265.91L572.55 268.39L572.59 269.77L572.63 277.05L572.67 281.22L572.71 287.15L572.75 291.02L572.80 294.83L572.84 297.84L572.88 296.17L572.92 295.72L572.96 295.35L573.00 292.26L573.05 287.12L573.09 289.34L573.13 291.68L573.17 294.61L573.21 299.24L573.26 305.31L573.30 305.73L573.34 309.24L573.38 308.76L573.42 308.58L573.46 303.06L573.51 298.45L573.55 294.78L573.59 290.67L573.63 290.05L573.67 289.94L573.71 292.69L573.76 297.36L573.80 306.12L573.84 311.89L573.88 317.24L573.92 320.21L573.96 321.39L574.01 320.17L574.05 318.70L574.09 314.25L574.13 311.54L574.17 309.13L574.21 310.96L574.26 311.10L574.30 314.71L574.34 317.56L574.38 323.72L574.42 327.98L574.47 329.54L574.51 326.41L574.55 326.81L574.59 317.87L574.63 314.04L574.67 310.12L574.72 304.27L574.76 302.86L574.80 303.07L574.84 306.44L574.88 311.38L574.92 315.60L574.97 323.42L575.01 328.29L575.05 332.75L575.09 332.21L575.13 331.90L575.17 328.30L575.22 323.23L575.26 319.46L575.30 314.61L575.34 316.74L575.38 318.08L575.42 318.78L575.47 323.19L575.51 326.62L575.55 330.12L575.59 332.59L575.63 330.47L575.67 327.18L575.72 321.64L575.76 313.83L575.80 308.00L575.84 304.19L575.88 301.84L575.92 300.97L575.97 305.04L576.01 309.87L576.05 316.61L576.09 319.75L576.13 324.04L576.17 327.77L576.22 328.22L576.26 326.11L576.30 320.56L576.34 316.84L576.38 313.00L576.42 309.65L576.47 310.59L576.51 311.64L576.55 316.58L576.59 319.01L576.63 323.86L576.67 325.70L576.72 327.49L576.76 324.03L576.80 320.54L576.84 313.45L576.88 305.06L576.92 298.24L576.97 297.13L577.01 295.81L577.05 296.79L577.09 300.64L577.13 307.48L577.17 311.86L577.22 317.18L577.26 320.66L577.30 320.93L577.34 321.42L577.38 318.82L577.42 313.65L577.46 309.67L577.51 306.92L577.55 304.79L577.59 305.04L577.63 305.93L577.67 310.07L577.71 315.63L577.76 319.43L577.80 321.73L577.84 322.20L577.88 318.64L577.92 313.91L577.96 308.60L578.01 302.67L578.05 295.62L578.09 292.29L578.13 290.44L578.17 291.68L578.21 294.15L578.26 299.28L578.30 303.31L578.34 310.24L578.38 313.09L578.42 314.62L578.46 313.93L578.51 309.97L578.55 306.43L578.59 301.97L578.63 299.62L578.67 299.54L578.71 299.67L578.76 302.52L578.80 304.82L578.84 309.13L578.88 313.08L578.92 312.12L578.96 315.80L579.01 311.70L579.05 306.74L579.09 300.70L579.13 296.31L579.17 288.78L579.21 286.43L579.25 283.88L579.30 286.20L579.34 289.47L579.38 294.01L579.42 299.31L579.46 303.30L579.50 307.09L579.55 306.43L579.59 304.12L579.63 301.86L579.67 301.19L579.71 294.39L579.75 293.11L579.80 294.47L579.84 294.39L579.88 298.33L579.92 300.99L579.96 303.06L580.00 307.94L580.05 308.98L580.09 308.16L580.13 304.80L580.17 302.80L580.21 296.37L580.25 293.27L580.30 287.00L580.34 283.92L580.38 281.29L580.42 284.69L580.46 285.69L580.50 289.12L580.55 293.15L580.59 296.41L580.63 300.42L580.67 301.72L580.71 299.23L580.75 296.10L580.80 294.25L580.84 290.11L580.88 288.20L580.92 289.76L580.96 287.38L581.00 290.05L581.05 293.57L581.09 296.81L581.13 297.68L581.17 298.40L581.21 297.54L581.25 297.16L581.29 291.94L581.34 287.65L581.38 282.43L581.42 278.35L581.46 275.21L581.50 272.36L581.54 273.49L581.59 275.12L581.63 278.85L581.67 281.30L581.71 283.62L581.75 286.60L581.79 285.62L581.84 284.68L581.88 283.44L581.92 279.71L581.96 277.10L582.00 273.81L582.04 273.25L582.09 272.83L582.13 274.15L582.17 277.52L582.21 278.66L582.25 280.50L582.29 279.32L582.34 280.64L582.38 277.76L582.42 274.23L582.46 270.09L582.50 265.33L582.54 260.12L582.59 256.00L582.63 253.49L582.67 254.28L582.71 255.21L582.75 258.07L582.79 261.32L582.84 262.28L582.88 262.21L582.92 263.92L582.96 259.92L583.00 258.54L583.04 255.72L583.08 251.43L583.13 248.83L583.17 245.09L583.21 244.68L583.25 246.02L583.29 248.51L583.33 251.04L583.38 250.01L583.42 251.19L583.46 247.84L583.50 246.72L583.54 242.87L583.58 237.45L583.63 231.88L583.67 230.96L583.71 228.24L583.75 224.96L583.79 224.41L583.83 226.17L583.88 226.19L583.92 230.60L583.96 230.04L584.00 231.16L584.04 229.97L584.08 231.54L584.13 225.86L584.17 223.09L584.21 222.14L584.25 218.41L584.29 217.13L584.33 217.91L584.38 220.26L584.42 221.76L584.46 223.25L584.50 223.36L584.54 225.23L584.58 221.19L584.63 218.77L584.67 218.98L584.71 214.51L584.75 213.83L584.79 207.42L584.83 207.70L584.88 203.76L584.92 203.25L584.96 206.99L585.00 206.71L585.04 209.88L585.08 214.73L585.12 217.43L585.17 218.81L585.21 219.60L585.25 217.83L585.29 217.28L585.33 216.88L585.38 217.72L585.42 217.09L585.46 222.46L585.50 222.93L585.54 228.19L585.58 229.57L585.62 235.92L585.67 236.84L585.71 238.85L585.75 238.60L585.79 237.08L585.83 234.05L585.88 231.14L585.92 232.11L585.96 231.59L586.00 231.98L586.04 233.60L586.08 239.60L586.12 242.18L586.17 246.19L586.21 249.39L586.25 253.11L586.29 252.70L586.33 254.21L586.38 254.85L586.42 255.00L586.46 254.17L586.50 252.35L586.54 255.09L586.58 255.91L586.62 260.93L586.67 263.94L586.71 270.06L586.75 274.32L586.79 275.91L586.83 275.65L586.88 275.58L586.92 273.38L586.96 269.58L587.00 265.64L587.04 263.79L587.08 263.70L587.12 265.99L587.17 267.01L587.21 272.14L587.25 277.09L587.29 281.96L587.33 285.93L587.38 288.67L587.42 290.25L587.46 288.67L587.50 289.30L587.54 284.83L587.58 283.75L587.62 284.08L587.67 285.15L587.71 288.22L587.75 293.73L587.79 297.06L587.83 302.79L587.88 306.05L587.92 307.68L587.96 307.34L588.00 306.57L588.04 301.93L588.08 295.36L588.12 291.63L588.17 287.89L588.21 285.52L588.25 287.62L588.29 288.66L588.33 292.85L588.38 297.89L588.42 303.56L588.46 306.70L588.50 309.21L588.54 309.62L588.58 309.01L588.62 304.94L588.67 303.40L588.71 300.26L588.75 297.07L588.79 299.35L588.83 302.07L588.88 307.42L588.92 313.56L588.96 315.99L589.00 320.80L589.04 321.55L589.08 320.62L589.12 318.27L589.17 313.57L589.21 307.41L589.25 301.22L589.29 298.22L589.33 294.40L589.38 293.95L589.42 297.11L589.46 300.46L589.50 304.92L589.54 309.80L589.58 316.17L589.62 319.65L589.67 318.00L589.71 315.79L589.75 312.79L589.79 311.20L589.83 306.23L589.88 306.82L589.92 306.11L589.96 308.66L590.00 312.37L590.04 318.29L590.08 322.31L590.12 327.68L590.17 328.87L590.21 327.93L590.25 323.25L590.29 317.52L590.33 311.40L590.38 307.24L590.42 300.31L590.46 297.60L590.50 296.69L590.54 301.81L590.58 307.07L590.62 312.32L590.67 316.36L590.71 318.02L590.75 320.59L590.79 320.29L590.83 317.63L590.88 314.40L590.92 310.84L590.96 307.15L591.00 307.09L591.04 307.49L591.08 310.67L591.12 317.51L591.17 321.14L591.21 326.80L591.25 328.34L591.29 331.15L591.33 329.39L591.38 323.68L591.42 319.22L591.46 312.67L591.50 304.07L591.54 300.87L591.58 299.23L591.62 296.19L591.67 298.93L591.71 302.09L591.75 307.55L591.79 312.82L591.83 314.05L591.88 316.79L591.92 316.69L591.96 313.22L592.00 311.30L592.04 305.95L592.08 302.50L592.12 301.17L592.17 303.74L592.21 303.24L592.25 310.34L592.29 312.96L592.33 319.02L592.38 318.77L592.42 322.64L592.46 320.45L592.50 314.94L592.54 308.94L592.58 303.54L592.62 299.52L592.67 292.74L592.71 293.31L592.75 294.10L592.79 295.03L592.83 297.18L592.88 300.58L592.92 305.08L592.96 308.81L593.00 307.68L593.04 309.18L593.08 305.11L593.12 302.08L593.17 299.02L593.21 295.27L593.25 294.80L593.29 294.63L593.33 299.17L593.38 300.97L593.42 307.10L593.46 310.26L593.50 312.11L593.54 315.07L593.58 312.26L593.62 309.39L593.67 302.26L593.71 297.94L593.75 291.65L593.79 285.98L593.83 283.93L593.88 282.99L593.92 284.87L593.96 285.87L594.00 290.31L594.04 295.04L594.08 297.59L594.12 295.63L594.17 298.27L594.21 293.24L594.25 290.10L594.29 287.48L594.33 283.41L594.38 281.74L594.42 281.96L594.46 284.39L594.50 288.28L594.54 292.28L594.58 295.89L594.62 299.18L594.67 299.73L594.71 299.94L594.75 293.94L594.79 288.02L594.83 282.01L594.88 276.05L594.92 275.57L594.96 271.62L595.00 269.66L595.04 274.25L595.08 275.59L595.12 279.04L595.17 283.02L595.21 283.14L595.25 283.69L595.29 280.49L595.33 279.72L595.38 274.70L595.42 272.23L595.46 269.70L595.50 268.53L595.54 269.43L595.58 272.38L595.62 276.91L595.67 280.58L595.71 282.96L595.75 286.71L595.79 286.68L595.83 284.42L595.88 281.51L595.92 277.51L595.96 272.78L596.00 267.44L596.04 263.85L596.08 260.75L596.12 259.74L596.17 262.13L596.21 264.68L596.25 267.52L596.29 269.58L596.33 270.34L596.38 272.45L596.42 270.10L596.46 269.97L596.50 267.01L596.54 261.89L596.58 260.26L596.62 258.65L596.67 261.13L596.71 260.17L596.75 261.87L596.79 266.70L596.83 271.27L596.88 273.71L596.92 270.74L596.96 271.32L597.00 267.83L597.04 263.09L597.08 257.87L597.12 255.84L597.17 252.30L597.21 248.81L597.25 248.66L597.29 248.15L597.33 251.15L597.38 251.70L597.42 257.07L597.46 256.47L597.50 254.35L597.54 254.77L597.58 250.42L597.62 248.10L597.67 248.07L597.71 242.60L597.75 241.39L597.79 241.50L597.83 243.99L597.88 243.56L597.92 246.44L597.96 248.87L598.00 252.00L598.04 250.32L598.08 247.49L598.12 245.12L598.17 241.75L598.21 236.52L598.25 233.27L598.29 229.14L598.33 228.17L598.38 227.37L598.42 229.12L598.46 229.87L598.50 230.68L598.54 231.71L598.58 232.48L598.62 233.51L598.67 230.85L598.71 228.06L598.75 224.29L598.79 225.02L598.83 222.05L598.88 220.04L598.92 220.05L598.96 222.67L599.00 224.31L599.04 227.73L599.08 228.83L599.12 232.00L599.17 232.38L599.21 226.99L599.25 223.25L599.29 221.24L599.33 218.13L599.38 216.60L599.42 211.99L599.46 211.10L599.50 212.79L599.54 211.70L599.58 213.81L599.62 215.15L599.67 216.29L599.71 216.44L599.75 218.25L599.79 215.75L599.83 213.75L599.88 212.29L599.92 208.25L599.96 209.14L600.00 208.56L600.04 210.04L600.08 212.94L600.12 218.79L600.17 223.53L600.21 226.44L600.25 227.84L600.29 228.69L600.33 233.98L600.37 231.66L600.42 231.25L600.46 226.58L600.50 227.33L600.54 223.66L600.58 225.46L600.62 226.42L600.67 228.92L600.71 232.69L600.75 237.49L600.79 239.37L600.83 244.26L600.87 245.00L600.92 245.62L600.96 242.73L601.00 242.32L601.04 243.65L601.08 244.92L601.12 243.41L601.16 249.29L601.21 251.24L601.25 255.78L601.29 260.20L601.33 265.23L601.37 267.92L601.41 270.74L601.46 269.40L601.50 268.54L601.54 266.53L601.58 264.25L601.62 262.91L601.66 262.63L601.71 262.66L601.75 263.66L601.79 266.44L601.83 270.37L601.87 274.30L601.91 277.55L601.96 280.04L602.00 281.02L602.04 279.03L602.08 276.24L602.12 274.47L602.16 275.76L602.20 274.54L602.25 275.87L602.29 277.81L602.33 284.61L602.37 287.89L602.41 293.83L602.45 297.31L602.50 300.96L602.54 300.22L602.58 299.53L602.62 296.32L602.66 291.49L602.70 287.75L602.75 286.14L602.79 284.62L602.83 286.33L602.87 289.11L602.91 294.72L602.95 296.27L603.00 302.00L603.04 302.81L603.08 302.22L603.12 301.49L603.16 299.98L603.20 298.65L603.24 295.40L603.29 294.55L603.33 295.34L603.37 298.46L603.41 303.84L603.45 311.12L603.49 317.42L603.54 323.10L603.58 324.45L603.62 328.25L603.66 325.61L603.70 323.00L603.74 317.74L603.79 314.31L603.83 309.25L603.87 307.76L603.91 306.72L603.95 311.64L603.99 313.94L604.04 320.54L604.08 323.22L604.12 326.86L604.16 327.66L604.20 328.01L604.24 326.00L604.28 320.50L604.33 315.78L604.37 315.36L604.41 311.26L604.45 314.13L604.49 317.78L604.53 322.03L604.58 331.21L604.62 335.51L604.66 341.38L604.70 344.13L604.74 344.73L604.78 347.35L604.83 339.99L604.87 334.71L604.91 326.80L604.95 323.36L604.99 320.63L605.03 319.23L605.08 324.27L605.12 326.52L605.16 330.17L605.20 333.61L605.24 336.35L605.28 335.68L605.33 331.96L605.37 329.06L605.41 323.66L605.45 320.26L605.49 314.89L605.53 314.54L605.58 318.58L605.62 317.82L605.66 325.14L605.70 329.96L605.74 336.95L605.78 343.31L605.83 345.43L605.87 345.23L605.91 342.15L605.95 335.89L605.99 330.86L606.03 324.70L606.08 321.09L606.12 318.53L606.16 317.32L606.20 319.75L606.24 321.56L606.28 326.73L606.33 329.01L606.37 329.68L606.41 330.10L606.45 329.54L606.49 325.25L606.53 320.70L606.58 316.22L606.62 313.18L606.66 309.91L606.70 311.26L606.74 314.50L606.78 317.80L606.83 325.82L606.87 328.95L606.91 335.02L606.95 338.54L606.99 339.15L607.03 338.92L607.08 332.37L607.12 328.18L607.16 320.27L607.20 316.67L607.24 312.37L607.29 312.09L607.33 314.72L607.37 317.48L607.41 320.13L607.45 322.08L607.49 326.35L607.54 324.44L607.58 323.14L607.62 318.67L607.66 315.08L607.70 306.95L607.74 309.76L607.79 303.24L607.83 306.20L607.87 310.64L607.91 314.44L607.95 319.98L607.99 327.50L608.04 330.44L608.08 333.78L608.12 331.80L608.16 329.55L608.20 323.37L608.24 317.44L608.29 313.53L608.33 309.42L608.37 308.23L608.41 307.40L608.45 310.54L608.49 313.03L608.54 315.84L608.58 319.36L608.62 321.20L608.66 316.12L608.70 317.49L608.74 313.74L608.79 309.09L608.83 305.08L608.87 303.27L608.91 302.28L608.95 304.34L608.99 305.67L609.04 312.50L609.08 318.00L609.12 321.58L609.16 326.35L609.20 325.05L609.25 325.22L609.29 322.94L609.33 319.37L609.37 313.83L609.41 308.69L609.45 304.23L609.50 303.26L609.54 301.55L609.58 305.61L609.62 306.58L609.66 307.96L609.70 309.57L609.75 311.68L609.79 310.65L609.83 308.57L609.87 305.51L609.91 299.68L609.95 296.51L610.00 292.86L610.04 291.29L610.08 290.54L610.12 293.60L610.16 296.25L610.20 300.53L610.25 304.11L610.29 309.92L610.33 309.87L610.37 308.12L610.41 307.62L610.45 301.66L610.50 296.88L610.54 292.44L610.58 289.61L610.62 286.16L610.66 285.94L610.70 286.44L610.75 287.21L610.79 291.34L610.83 291.75L610.87 292.33L610.91 290.67L610.95 288.53L611.00 284.98L611.04 280.20L611.08 277.27L611.12 274.76L611.16 272.89L611.21 272.30L611.25 275.83L611.29 278.62L611.33 283.66L611.37 287.45L611.41 289.66L611.46 289.43L611.50 288.55L611.54 285.35L611.58 281.19L611.62 278.44L611.66 272.69L611.71 271.60L611.75 269.23L611.79 268.23L611.83 270.17L611.87 269.77L611.91 272.69L611.96 273.10L612.00 274.58L612.04 272.67L612.08 270.13L612.12 268.76L612.16 265.76L612.21 263.94L612.25 260.15L612.29 258.37L612.33 257.92L612.37 259.26L612.41 261.46L612.46 265.40L612.50 268.35L612.54 273.21L612.58 273.29L612.62 274.50L612.66 270.50L612.71 267.96L612.75 264.03L612.79 262.41L612.83 256.98L612.87 255.57L612.91 256.00L612.96 256.55L613.00 256.84L613.04 260.18L613.08 261.27L613.12 261.98L613.17 259.74L613.21 260.94L613.25 256.59L613.29 251.53L613.33 249.20L613.37 248.73L613.42 246.79L613.46 246.84L613.50 246.50L613.54 250.20L613.58 254.26L613.62 254.50L613.67 257.60L613.71 259.35L613.75 258.56L613.79 256.97L613.83 255.64L613.87 250.53L613.92 246.03L613.96 244.50L614.00 240.31L614.04 242.58L614.08 242.03L614.12 244.47L614.17 245.22L614.21 244.41L614.25 246.15L614.29 245.22L614.33 243.89L614.37 241.93L614.42 238.36L614.46 234.53L614.50 231.87L614.54 231.86L614.58 230.25L614.62 233.34L614.67 234.21L614.71 236.23L614.75 239.31L614.79 242.90L614.83 239.81L614.87 242.47L614.92 239.69L614.96 237.01L615.00 233.81L615.04 233.08L615.08 231.53L615.12 231.67L615.17 232.99L615.21 235.27L615.25 235.57L615.29 240.47L615.33 242.10L615.38 246.03L615.42 246.07L615.46 246.06L615.50 246.18L615.54 243.04L615.58 241.38L615.62 241.55L615.67 242.27L615.71 244.19L615.75 245.80L615.79 250.79L615.83 254.96L615.88 258.27L615.92 264.44L615.96 267.41L616.00 269.32L616.04 269.98L616.08 269.55L616.12 266.93L616.17 264.60L616.21 261.25L616.25 262.14L616.29 261.96L616.33 262.01L616.38 267.11L616.42 272.00L616.46 273.32L616.50 277.92L616.54 279.70L616.58 280.35L616.62 277.68L616.67 276.73L616.71 276.53L616.75 275.39L616.79 276.86L616.83 275.90L616.88 279.54L616.92 284.55L616.96 287.77L617.00 294.18L617.04 299.96L617.08 303.18L617.12 306.57L617.17 307.06L617.21 308.36L617.25 305.82L617.29 303.30L617.33 301.20L617.38 300.45L617.42 299.34L617.46 300.74L617.50 304.90L617.54 309.97L617.58 313.18L617.62 315.24L617.67 318.63L617.71 319.47L617.75 322.04L617.79 319.36L617.83 317.19L617.88 312.01L617.92 312.11L617.96 310.99L618.00 316.35L618.04 319.48L618.08 325.01L618.12 333.01L618.17 339.62L618.21 343.75L618.25 346.08L618.29 348.24L618.33 345.50L618.38 340.44L618.42 336.32L618.46 335.10L618.50 332.43L618.54 332.50L618.58 334.08L618.62 337.17L618.67 341.69L618.71 346.66L618.75 348.10L618.79 351.30L618.83 349.95L618.88 347.43L618.92 345.20L618.96 339.50L619.00 335.63L619.04 334.97L619.08 334.93L619.12 338.30L619.17 345.42L619.21 351.73L619.25 361.16L619.29 365.45L619.33 368.73L619.38 370.03L619.42 367.86L619.46 366.86L619.50 359.09L619.54 354.85L619.58 351.25L619.62 349.11L619.67 349.85L619.71 349.84L619.75 352.55L619.79 358.29L619.83 359.49L619.88 364.87L619.92 365.96L619.96 362.75L620.00 358.16L620.04 354.49L620.08 350.14L620.12 346.05L620.17 343.39L620.21 345.76L620.25 348.06L620.29 352.86L620.33 361.78L620.37 366.02L620.42 374.07L620.46 377.36L620.50 378.05L620.54 373.98L620.58 371.02L620.62 365.44L620.67 361.20L620.71 356.37L620.75 352.95L620.79 351.63L620.83 355.00L620.87 356.18L620.92 361.35L620.96 366.68L621.00 366.77L621.04 368.67L621.08 366.47L621.12 363.44L621.17 356.13L621.21 353.99L621.25 349.70L621.29 347.53L621.33 348.93L621.37 351.87L621.42 357.74L621.46 365.91L621.50 368.98L621.54 374.89L621.58 375.25L621.62 377.48L621.67 373.03L621.71 368.99L621.75 363.28L621.79 361.23L621.83 356.23L621.87 354.04L621.92 355.29L621.96 357.13L622.00 361.12L622.04 364.24L622.08 365.41L622.12 365.36L622.16 364.36L622.21 362.77L622.25 357.35L622.29 350.20L622.33 349.13L622.37 343.42L622.41 342.20L622.46 347.02L622.50 351.26L622.54 356.01L622.58 363.05L622.62 366.93L622.66 373.13L622.71 371.52L622.75 368.78L622.79 363.85L622.83 359.80L622.87 354.75L622.91 351.06L622.96 348.35L623.00 348.34L623.04 349.33L623.08 353.44L623.12 356.07L623.16 356.42L623.21 360.54L623.25 358.86L623.29 357.11L623.33 352.80L623.37 348.37L623.41 343.70L623.46 339.36L623.50 336.01L623.54 337.33L623.58 338.70L623.62 343.33L623.66 347.82L623.71 353.61L623.75 359.84L623.79 361.36L623.83 361.51L623.87 360.49L623.91 359.29L623.96 352.11L624.00 347.73L624.04 343.47L624.08 340.47L624.12 339.92L624.16 341.61L624.20 341.68L624.25 347.41L624.29 349.97L624.33 350.68L624.37 349.93L624.41 347.28L624.45 343.40L624.50 336.79L624.54 333.24L624.58 329.69L624.62 326.73L624.66 328.28L624.70 329.36L624.75 332.90L624.79 337.45L624.83 341.62L624.87 345.85L624.91 345.93L624.95 346.58L625.00 343.42L625.04 341.45L625.08 336.05L625.12 333.55L625.16 327.40L625.20 327.10L625.25 325.03L625.29 326.85L625.33 328.79L625.37 329.23L625.41 333.38L625.45 333.82L625.50 330.37L625.54 331.23L625.58 324.96L625.62 320.08L625.66 315.96L625.70 313.62L625.75 311.16L625.79 310.73L625.83 312.85L625.87 314.91L625.91 320.38L625.95 324.00L626.00 327.09L626.04 328.47L626.08 326.62L626.12 324.18L626.16 322.56L626.20 319.11L626.24 313.11L626.29 310.72L626.33 308.66L626.37 309.39L626.41 309.73L626.45 310.51L626.49 314.15L626.54 314.13L626.58 313.53L626.62 310.21L626.66 309.76L626.70 307.89L626.74 302.41L626.79 298.30L626.83 295.33L626.87 294.32L626.91 293.62L626.95 294.77L626.99 297.80L627.04 300.50L627.08 302.83L627.12 309.04L627.16 306.16L627.20 309.30L627.24 307.01L627.29 301.88L627.33 300.93L627.37 298.23L627.41 293.51L627.45 290.44L627.49 290.20L627.54 293.97L627.58 293.17L627.62 295.28L627.66 298.53L627.70 299.24L627.74 297.81L627.79 296.94L627.83 292.89L627.87 289.94L627.91 285.71L627.95 283.52L627.99 282.51L628.04 282.14L628.08 284.03L628.12 286.56L628.16 290.34L628.20 293.38L628.24 293.43L628.28 295.48L628.33 294.66L628.37 294.60L628.41 295.12L628.45 288.33L628.49 286.23L628.53 285.24L628.58 282.90L628.62 283.28L628.66 285.03L628.70 284.50L628.74 286.22L628.78 289.00L628.83 288.54L628.87 287.98L628.91 286.89L628.95 282.42L628.99 280.78L629.03 276.41L629.08 272.67L629.12 270.35L629.16 270.18L629.20 271.62L629.24 274.02L629.28 276.38L629.33 278.66L629.37 283.03L629.41 284.69L629.45 282.85L629.49 279.42L629.53 278.50L629.58 276.65L629.62 275.56L629.66 270.93L629.70 270.17L629.74 270.73L629.78 269.29L629.83 271.00L629.87 272.41L629.91 272.42L629.95 271.95L629.99 272.14L630.03 269.07L630.08 267.77L630.12 265.80L630.16 262.37L630.20 262.25" stroke="#ff0000" stroke-width="2.50" fill="none" stroke-linejoin="round" shape-rendering="crispEdges"/>
<path d="M89.5 55.5V65" stroke="#ff0000" stroke-width="1" fill="none" shape-rendering="crispEdges"/>
<g font-family="DejaVu Sans, sans-serif" font-size="14.7" letter-spacing="0" fill="#444">
<text x="81.9" y="35" text-anchor="end">2</text>
<text x="82.1" y="84" text-anchor="end">0</text>
<text x="81.9" y="134" text-anchor="end"><tspan font-size="18.5" letter-spacing="-0.5">-</tspan>2</text>
<text x="81.1" y="183" text-anchor="end"><tspan font-size="18.5" letter-spacing="-0.5">-</tspan>4</text>
<text x="80.9" y="233" text-anchor="end"><tspan font-size="18.5" letter-spacing="-0.5">-</tspan>6</text>
<text x="80.9" y="282" text-anchor="end"><tspan font-size="18.5" letter-spacing="-0.5">-</tspan>8</text>
<text x="81.7" y="331" text-anchor="end"><tspan font-size="18.5" letter-spacing="-0.5">-</tspan>10</text>
<text x="81.9" y="381" text-anchor="end"><tspan font-size="18.5" letter-spacing="-0.5">-</tspan>12</text>
<text x="81.7" y="430" text-anchor="end"><tspan font-size="18.5" letter-spacing="-0.5">-</tspan>14</text>
<text x="88.70" y="470.0" text-anchor="middle">1990</text>
<text x="163.60" y="470.0" text-anchor="middle">1995</text>
<text x="239.50" y="470.0" text-anchor="middle">2000</text>
<text x="314.20" y="470.0" text-anchor="middle">2005</text>
<text x="389.50" y="470.0" text-anchor="middle">2010</text>
<text x="464.20" y="470.0" text-anchor="middle">2015</text>
<text x="539.50" y="470.0" text-anchor="middle">2020</text>
<text x="614.25" y="470.0" text-anchor="middle">2025</text>
</g>
<text x="349.3" y="16" text-anchor="middle" font-family="DejaVu Sans, sans-serif" font-size="15.3" letter-spacing="-0.65" fill="#444">deps</text>
<text transform="translate(105 240) rotate(-90)" text-anchor="middle" font-family="DejaVu Sans, sans-serif" font-size="15.5" fill="#444">mas</text>
<path d="M315 487H326" stroke="#ff0000" stroke-width="2.4"/>
<text x="335.2" y="489" font-family="DejaVu Sans, sans-serif" font-size="14.7" fill="#111">C0420</text>
</svg>
</body></html>
